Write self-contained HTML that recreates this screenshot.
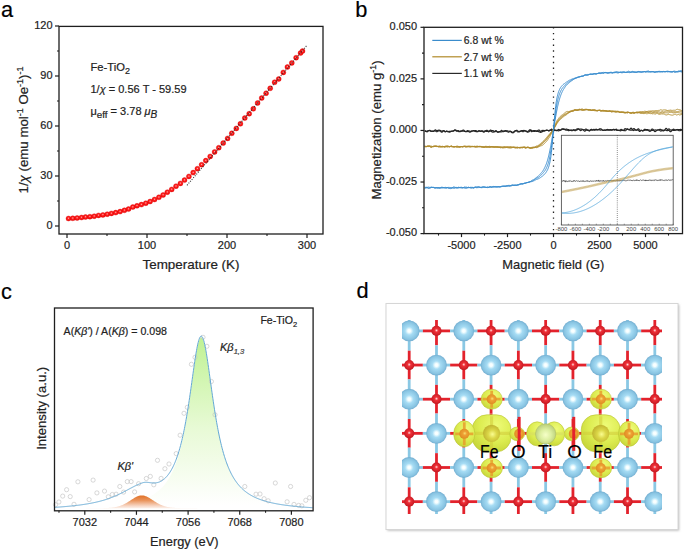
<!DOCTYPE html><html><head><meta charset="utf-8"><style>html,body{margin:0;padding:0;background:#fff;overflow:hidden}svg{display:block}</style></head><body><svg width="685" height="550" viewBox="0 0 685 550"><defs>
<radialGradient id="ball" cx="0.5" cy="0.45" r="0.6"><stop offset="0" stop-color="#ffb0b0"/><stop offset="0.35" stop-color="#ff2424"/><stop offset="1" stop-color="#ec0000"/></radialGradient>
<radialGradient id="ti" cx="0.5" cy="0.5" r="0.52"><stop offset="0" stop-color="#ffffff"/><stop offset="0.14" stop-color="#f4feff"/><stop offset="0.38" stop-color="#a6dcf4"/><stop offset="0.8" stop-color="#88c4e2"/><stop offset="1" stop-color="#6ea8cc"/></radialGradient>
<radialGradient id="tig" cx="0.5" cy="0.55" r="0.55"><stop offset="0" stop-color="#f6ffc8"/><stop offset="0.5" stop-color="#dcefa0"/><stop offset="1" stop-color="#b8cc78"/></radialGradient>
<radialGradient id="ox" cx="0.5" cy="0.45" r="0.55"><stop offset="0" stop-color="#ffe0e0"/><stop offset="0.3" stop-color="#f03038"/><stop offset="1" stop-color="#c01820"/></radialGradient>
<radialGradient id="fe" cx="0.55" cy="0.55" r="0.55"><stop offset="0" stop-color="#fafc90"/><stop offset="0.45" stop-color="#dcd848"/><stop offset="1" stop-color="#c0b430"/></radialGradient>
<radialGradient id="yl" cx="0.62" cy="0.3" r="0.8"><stop offset="0" stop-color="#eefb78"/><stop offset="0.55" stop-color="#dcec50"/><stop offset="1" stop-color="#c4d236"/></radialGradient>
<radialGradient id="oo" cx="0.55" cy="0.45" r="0.55"><stop offset="0" stop-color="#f8e070"/><stop offset="0.35" stop-color="#eea034"/><stop offset="1" stop-color="#de8c22"/></radialGradient>
<linearGradient id="gfill" x1="0" y1="336" x2="0" y2="505" gradientUnits="userSpaceOnUse"><stop offset="0" stop-color="#bff292"/><stop offset="0.55" stop-color="#e8fad6"/><stop offset="1" stop-color="#ffffff"/></linearGradient>
<linearGradient id="ofill" x1="0" y1="495" x2="0" y2="508.6" gradientUnits="userSpaceOnUse"><stop offset="0" stop-color="#e06e22"/><stop offset="0.4" stop-color="#ea945c"/><stop offset="0.8" stop-color="#f7d6c4"/><stop offset="1" stop-color="#fdf5f0"/></linearGradient>
<clipPath id="dclip"><rect x="402" y="320" width="260" height="194"/></clipPath>
<filter id="sh" x="-5%" y="-5%" width="110%" height="110%"><feGaussianBlur stdDeviation="1"/></filter>
</defs><text x="1.0" y="17.4" font-size="21.8" font-family="Liberation Sans, sans-serif" stroke="#222" stroke-width="0.2" paint-order="stroke" fill="#000">a</text>
<text x="355.2" y="17.1" font-size="21.8" font-family="Liberation Sans, sans-serif" stroke="#222" stroke-width="0.2" paint-order="stroke" fill="#000">b</text>
<text x="0.9" y="299.3" font-size="21.8" font-family="Liberation Sans, sans-serif" stroke="#222" stroke-width="0.2" paint-order="stroke" fill="#000">c</text>
<text x="356.6" y="298.4" font-size="21.8" font-family="Liberation Sans, sans-serif" stroke="#222" stroke-width="0.2" paint-order="stroke" fill="#000">d</text>
<circle cx="68.5" cy="218.5" r="2.5" fill="url(#ball)" stroke="#e00000" stroke-width="0.35"/>
<circle cx="72.8" cy="218.3" r="2.5" fill="url(#ball)" stroke="#e00000" stroke-width="0.35"/>
<circle cx="77.1" cy="218" r="2.5" fill="url(#ball)" stroke="#e00000" stroke-width="0.35"/>
<circle cx="81.5" cy="217.5" r="2.5" fill="url(#ball)" stroke="#e00000" stroke-width="0.35"/>
<circle cx="85.5" cy="217" r="2.5" fill="url(#ball)" stroke="#e00000" stroke-width="0.35"/>
<circle cx="89.9" cy="216.7" r="2.5" fill="url(#ball)" stroke="#e00000" stroke-width="0.35"/>
<circle cx="94.2" cy="216.2" r="2.5" fill="url(#ball)" stroke="#e00000" stroke-width="0.35"/>
<circle cx="98.5" cy="215.4" r="2.5" fill="url(#ball)" stroke="#e00000" stroke-width="0.35"/>
<circle cx="102.9" cy="214.9" r="2.5" fill="url(#ball)" stroke="#e00000" stroke-width="0.35"/>
<circle cx="107.2" cy="214.2" r="2.5" fill="url(#ball)" stroke="#e00000" stroke-width="0.35"/>
<circle cx="111.4" cy="213.4" r="2.5" fill="url(#ball)" stroke="#e00000" stroke-width="0.35"/>
<circle cx="115.7" cy="212.6" r="2.5" fill="url(#ball)" stroke="#e00000" stroke-width="0.35"/>
<circle cx="120.1" cy="211.6" r="2.5" fill="url(#ball)" stroke="#e00000" stroke-width="0.35"/>
<circle cx="124.4" cy="210.3" r="2.5" fill="url(#ball)" stroke="#e00000" stroke-width="0.35"/>
<circle cx="128.5" cy="209.1" r="2.5" fill="url(#ball)" stroke="#e00000" stroke-width="0.35"/>
<circle cx="132.8" cy="207.1" r="2.5" fill="url(#ball)" stroke="#e00000" stroke-width="0.35"/>
<circle cx="137" cy="205.8" r="2.5" fill="url(#ball)" stroke="#e00000" stroke-width="0.35"/>
<circle cx="141.4" cy="204.6" r="2.5" fill="url(#ball)" stroke="#e00000" stroke-width="0.35"/>
<circle cx="145.8" cy="203.2" r="2.5" fill="url(#ball)" stroke="#e00000" stroke-width="0.35"/>
<circle cx="150.1" cy="201.5" r="2.5" fill="url(#ball)" stroke="#e00000" stroke-width="0.35"/>
<circle cx="154.5" cy="199.5" r="2.5" fill="url(#ball)" stroke="#e00000" stroke-width="0.35"/>
<circle cx="158.9" cy="197.3" r="2.5" fill="url(#ball)" stroke="#e00000" stroke-width="0.35"/>
<circle cx="163.1" cy="195" r="2.5" fill="url(#ball)" stroke="#e00000" stroke-width="0.35"/>
<circle cx="167.3" cy="192.2" r="2.5" fill="url(#ball)" stroke="#e00000" stroke-width="0.35"/>
<circle cx="171.7" cy="189.4" r="2.5" fill="url(#ball)" stroke="#e00000" stroke-width="0.35"/>
<circle cx="176" cy="186.2" r="2.5" fill="url(#ball)" stroke="#e00000" stroke-width="0.35"/>
<circle cx="180.4" cy="183.4" r="2.5" fill="url(#ball)" stroke="#e00000" stroke-width="0.35"/>
<circle cx="184.5" cy="180.1" r="2.5" fill="url(#ball)" stroke="#e00000" stroke-width="0.35"/>
<circle cx="188.9" cy="176.4" r="2.5" fill="url(#ball)" stroke="#e00000" stroke-width="0.35"/>
<circle cx="193.2" cy="172.6" r="2.5" fill="url(#ball)" stroke="#e00000" stroke-width="0.35"/>
<circle cx="197.4" cy="168.7" r="2.5" fill="url(#ball)" stroke="#e00000" stroke-width="0.35"/>
<circle cx="201.6" cy="164.7" r="2.5" fill="url(#ball)" stroke="#e00000" stroke-width="0.35"/>
<circle cx="205.8" cy="160.6" r="2.5" fill="url(#ball)" stroke="#e00000" stroke-width="0.35"/>
<circle cx="210.2" cy="156.4" r="2.5" fill="url(#ball)" stroke="#e00000" stroke-width="0.35"/>
<circle cx="214.6" cy="151.9" r="2.5" fill="url(#ball)" stroke="#e00000" stroke-width="0.35"/>
<circle cx="218.8" cy="147.7" r="2.5" fill="url(#ball)" stroke="#e00000" stroke-width="0.35"/>
<circle cx="223.2" cy="143.1" r="2.5" fill="url(#ball)" stroke="#e00000" stroke-width="0.35"/>
<circle cx="227.6" cy="138.4" r="2.5" fill="url(#ball)" stroke="#e00000" stroke-width="0.35"/>
<circle cx="231.8" cy="133.3" r="2.5" fill="url(#ball)" stroke="#e00000" stroke-width="0.35"/>
<circle cx="236.3" cy="128.4" r="2.5" fill="url(#ball)" stroke="#e00000" stroke-width="0.35"/>
<circle cx="240.4" cy="123.8" r="2.5" fill="url(#ball)" stroke="#e00000" stroke-width="0.35"/>
<circle cx="244.8" cy="118.1" r="2.5" fill="url(#ball)" stroke="#e00000" stroke-width="0.35"/>
<circle cx="249.2" cy="113.7" r="2.5" fill="url(#ball)" stroke="#e00000" stroke-width="0.35"/>
<circle cx="253.3" cy="108.8" r="2.5" fill="url(#ball)" stroke="#e00000" stroke-width="0.35"/>
<circle cx="257.6" cy="103" r="2.5" fill="url(#ball)" stroke="#e00000" stroke-width="0.35"/>
<circle cx="261.7" cy="98.1" r="2.5" fill="url(#ball)" stroke="#e00000" stroke-width="0.35"/>
<circle cx="266.1" cy="93.2" r="2.5" fill="url(#ball)" stroke="#e00000" stroke-width="0.35"/>
<circle cx="270.2" cy="88.3" r="2.5" fill="url(#ball)" stroke="#e00000" stroke-width="0.35"/>
<circle cx="274.6" cy="82.2" r="2.5" fill="url(#ball)" stroke="#e00000" stroke-width="0.35"/>
<circle cx="278.7" cy="79" r="2.5" fill="url(#ball)" stroke="#e00000" stroke-width="0.35"/>
<circle cx="283.3" cy="72.4" r="2.5" fill="url(#ball)" stroke="#e00000" stroke-width="0.35"/>
<circle cx="287.4" cy="67" r="2.5" fill="url(#ball)" stroke="#e00000" stroke-width="0.35"/>
<circle cx="291.8" cy="62.9" r="2.5" fill="url(#ball)" stroke="#e00000" stroke-width="0.35"/>
<circle cx="296.1" cy="57.7" r="2.5" fill="url(#ball)" stroke="#e00000" stroke-width="0.35"/>
<circle cx="300.5" cy="53.1" r="2.5" fill="url(#ball)" stroke="#e00000" stroke-width="0.35"/>
<circle cx="302.5" cy="51.1" r="2.5" fill="url(#ball)" stroke="#e00000" stroke-width="0.35"/>
<line x1="187.0" y1="185.3" x2="307.0" y2="45.3" stroke="#222" stroke-width="1.1" stroke-dasharray="1.1 1.3" opacity="0.85"/>
<rect x="59" y="26.4" width="264" height="207.6" fill="none" stroke="#1e1e1e" stroke-width="1.3"/>
<line x1="55" y1="226.0" x2="59" y2="226.0" stroke="#1e1e1e" stroke-width="1.2"/>
<text x="52.60" y="229.00" font-size="11.8" text-anchor="end" font-family="Liberation Sans, sans-serif" stroke="#222" stroke-width="0.2" paint-order="stroke" fill="#222" textLength="6.12" lengthAdjust="spacingAndGlyphs">0</text>
<line x1="55" y1="176.0" x2="59" y2="176.0" stroke="#1e1e1e" stroke-width="1.2"/>
<text x="52.60" y="179.00" font-size="11.8" text-anchor="end" font-family="Liberation Sans, sans-serif" stroke="#222" stroke-width="0.2" paint-order="stroke" fill="#222" textLength="12.23" lengthAdjust="spacingAndGlyphs">30</text>
<line x1="55" y1="126.0" x2="59" y2="126.0" stroke="#1e1e1e" stroke-width="1.2"/>
<text x="52.60" y="129.00" font-size="11.8" text-anchor="end" font-family="Liberation Sans, sans-serif" stroke="#222" stroke-width="0.2" paint-order="stroke" fill="#222" textLength="12.23" lengthAdjust="spacingAndGlyphs">60</text>
<line x1="55" y1="76.0" x2="59" y2="76.0" stroke="#1e1e1e" stroke-width="1.2"/>
<text x="52.60" y="79.00" font-size="11.8" text-anchor="end" font-family="Liberation Sans, sans-serif" stroke="#222" stroke-width="0.2" paint-order="stroke" fill="#222" textLength="12.23" lengthAdjust="spacingAndGlyphs">90</text>
<line x1="55" y1="26.0" x2="59" y2="26.0" stroke="#1e1e1e" stroke-width="1.2"/>
<text x="52.60" y="29.00" font-size="11.8" text-anchor="end" font-family="Liberation Sans, sans-serif" stroke="#222" stroke-width="0.2" paint-order="stroke" fill="#222" textLength="18.35" lengthAdjust="spacingAndGlyphs">120</text>
<line x1="57" y1="201.0" x2="59" y2="201.0" stroke="#1e1e1e" stroke-width="1.1"/>
<line x1="57" y1="151.0" x2="59" y2="151.0" stroke="#1e1e1e" stroke-width="1.1"/>
<line x1="57" y1="101.0" x2="59" y2="101.0" stroke="#1e1e1e" stroke-width="1.1"/>
<line x1="57" y1="51.0" x2="59" y2="51.0" stroke="#1e1e1e" stroke-width="1.1"/>
<line x1="67.0" y1="234" x2="67.0" y2="238" stroke="#1e1e1e" stroke-width="1.2"/>
<text x="67.00" y="249.40" font-size="11.8" text-anchor="middle" font-family="Liberation Sans, sans-serif" stroke="#222" stroke-width="0.2" paint-order="stroke" fill="#222" textLength="6.12" lengthAdjust="spacingAndGlyphs">0</text>
<line x1="147.0" y1="234" x2="147.0" y2="238" stroke="#1e1e1e" stroke-width="1.2"/>
<text x="147.00" y="249.40" font-size="11.8" text-anchor="middle" font-family="Liberation Sans, sans-serif" stroke="#222" stroke-width="0.2" paint-order="stroke" fill="#222" textLength="18.35" lengthAdjust="spacingAndGlyphs">100</text>
<line x1="227.0" y1="234" x2="227.0" y2="238" stroke="#1e1e1e" stroke-width="1.2"/>
<text x="227.00" y="249.40" font-size="11.8" text-anchor="middle" font-family="Liberation Sans, sans-serif" stroke="#222" stroke-width="0.2" paint-order="stroke" fill="#222" textLength="18.35" lengthAdjust="spacingAndGlyphs">200</text>
<line x1="307.0" y1="234" x2="307.0" y2="238" stroke="#1e1e1e" stroke-width="1.2"/>
<text x="307.00" y="249.40" font-size="11.8" text-anchor="middle" font-family="Liberation Sans, sans-serif" stroke="#222" stroke-width="0.2" paint-order="stroke" fill="#222" textLength="18.35" lengthAdjust="spacingAndGlyphs">300</text>
<line x1="107.0" y1="234" x2="107.0" y2="236" stroke="#1e1e1e" stroke-width="1.1"/>
<line x1="187.0" y1="234" x2="187.0" y2="236" stroke="#1e1e1e" stroke-width="1.1"/>
<line x1="267.0" y1="234" x2="267.0" y2="236" stroke="#1e1e1e" stroke-width="1.1"/>
<text x="191" y="269.4" font-size="13" text-anchor="middle" font-family="Liberation Sans, sans-serif" stroke="#222" stroke-width="0.2" paint-order="stroke" fill="#222" textLength="97" lengthAdjust="spacingAndGlyphs">Temperature (K)</text>
<text transform="translate(28.4,130) rotate(-90)" font-size="13" text-anchor="middle" font-family="Liberation Sans, sans-serif" stroke="#222" stroke-width="0.2" paint-order="stroke" fill="#222" textLength="127" lengthAdjust="spacingAndGlyphs">1/<tspan font-style="italic">χ</tspan> (emu mol<tspan font-size="8.8" dy="-5.4">-1</tspan><tspan dy="5.4"> Oe</tspan><tspan font-size="8.8" dy="-5.4">-1</tspan><tspan dy="5.4">)</tspan><tspan font-size="8.8" dy="-5.4">-1</tspan></text>
<text x="90.5" y="70.8" font-size="11.2" font-family="Liberation Sans, sans-serif" stroke="#222" stroke-width="0.2" paint-order="stroke" fill="#222">Fe-TiO<tspan font-size="9" dy="3.2">2</tspan></text>
<text x="90.5" y="93.2" font-size="11" font-family="Liberation Sans, sans-serif" stroke="#222" stroke-width="0.2" paint-order="stroke" fill="#222">1/<tspan font-style="italic">χ</tspan> = 0.56 T - 59.59</text>
<text x="90.5" y="114.6" font-size="11" font-family="Liberation Sans, sans-serif" stroke="#222" stroke-width="0.2" paint-order="stroke" fill="#222">μ<tspan font-size="9.8" dy="3">eff</tspan><tspan dy="-3"> = 3.78 </tspan><tspan font-style="italic">μ</tspan><tspan font-size="10" dy="3" font-style="italic">B</tspan></text>
<line x1="553.5" y1="27.3" x2="553.5" y2="233.6" stroke="#222" stroke-width="1.3" stroke-dasharray="1.3 4.46"/>
<polyline points="424.70,130.68 425.07,130.73 425.44,130.79 425.81,130.93 426.17,131.21 426.54,131.55 426.91,131.80 427.28,131.81 427.65,131.55 428.02,131.16 428.39,130.83 428.75,130.64 429.12,130.58 429.49,130.65 429.86,130.81 430.23,131.02 430.60,131.16 430.96,131.16 431.33,131.07 431.70,131.00 432.07,130.99 432.44,131.05 432.81,131.18 433.18,131.34 433.54,131.41 433.91,131.27 434.28,130.89 434.65,130.40 435.02,130.01 435.39,129.87 435.76,130.01 436.12,130.30 436.49,130.58 436.86,130.70 437.23,130.67 437.60,130.55 437.97,130.39 438.34,130.25 438.70,130.17 439.07,130.16 439.44,130.20 439.81,130.32 440.18,130.59 440.55,131.03 440.92,131.57 441.28,132.03 441.65,132.26 442.02,132.20 442.39,131.87 442.76,131.39 443.13,130.90 443.49,130.57 443.86,130.53 444.23,130.79 444.60,131.22 444.97,131.61 445.34,131.79 445.71,131.75 446.07,131.58 446.44,131.39 446.81,131.31 447.18,131.37 447.55,131.52 447.92,131.67 448.29,131.78 448.65,131.89 449.02,132.01 449.39,132.11 449.76,132.10 450.13,131.95 450.50,131.71 450.87,131.45 451.23,131.23 451.60,131.12 451.97,131.09 452.34,131.12 452.71,131.18 453.08,131.23 453.45,131.20 453.81,131.00 454.18,130.61 454.55,130.14 454.92,129.82 455.29,129.75 455.66,129.93 456.02,130.20 456.39,130.48 456.76,130.71 457.13,130.90 457.50,131.05 457.87,131.20 458.24,131.38 458.60,131.56 458.97,131.66 459.34,131.64 459.71,131.55 460.08,131.51 460.45,131.53 460.82,131.51 461.18,131.40 461.55,131.25 461.92,131.16 462.29,131.12 462.66,131.10 463.03,131.07 463.40,131.07 463.76,131.11 464.13,131.22 464.50,131.36 464.87,131.49 465.24,131.55 465.61,131.54 465.97,131.45 466.34,131.30 466.71,131.09 467.08,130.85 467.45,130.68 467.82,130.64 468.19,130.75 468.55,130.90 468.92,130.98 469.29,131.00 469.66,131.04 470.03,131.20 470.40,131.44 470.77,131.64 471.13,131.68 471.50,131.54 471.87,131.33 472.24,131.14 472.61,130.96 472.98,130.76 473.35,130.57 473.71,130.49 474.08,130.59 474.45,130.86 474.82,131.17 475.19,131.40 475.56,131.52 475.93,131.57 476.29,131.59 476.66,131.58 477.03,131.52 477.40,131.41 477.77,131.26 478.14,131.12 478.50,131.03 478.87,131.01 479.24,131.02 479.61,131.03 479.98,131.05 480.35,131.08 480.72,131.12 481.08,131.12 481.45,131.08 481.82,131.06 482.19,131.13 482.56,131.26 482.93,131.35 483.30,131.34 483.66,131.26 484.03,131.20 484.40,131.18 484.77,131.15 485.14,131.06 485.51,130.88 485.88,130.66 486.24,130.44 486.61,130.29 486.98,130.31 487.35,130.56 487.72,131.02 488.09,131.52 488.46,131.85 488.82,131.87 489.19,131.56 489.56,131.05 489.93,130.54 490.30,130.20 490.67,130.15 491.03,130.32 491.40,130.54 491.77,130.65 492.14,130.61 492.51,130.53 492.88,130.55 493.25,130.74 493.61,131.04 493.98,131.37 494.35,131.65 494.72,131.80 495.09,131.74 495.46,131.53 495.83,131.30 496.19,131.19 496.56,131.27 496.93,131.50 497.30,131.77 497.67,132.00 498.04,132.08 498.41,131.97 498.77,131.76 499.14,131.55 499.51,131.47 499.88,131.55 500.25,131.72 500.62,131.86 500.98,131.90 501.35,131.85 501.72,131.77 502.09,131.65 502.46,131.49 502.83,131.29 503.20,131.12 503.56,131.03 503.93,131.09 504.30,131.24 504.67,131.35 505.04,131.32 505.41,131.15 505.78,130.99 506.14,130.99 506.51,131.16 506.88,131.40 507.25,131.63 507.62,131.82 507.99,131.99 508.36,132.13 508.72,132.13 509.09,131.94 509.46,131.60 509.83,131.27 510.20,131.14 510.57,131.28 510.94,131.66 511.30,132.10 511.67,132.45 512.04,132.66 512.41,132.78 512.78,132.84 513.15,132.82 513.51,132.67 513.88,132.35 514.25,131.88 514.62,131.35 514.99,130.88 515.36,130.59 515.73,130.50 516.09,130.55 516.46,130.75 516.83,131.07 517.20,131.46 517.57,131.81 517.94,132.00 518.31,132.01 518.67,131.95 519.04,131.88 519.41,131.82 519.78,131.73 520.15,131.57 520.52,131.38 520.89,131.21 521.25,131.12 521.62,131.15 521.99,131.29 522.36,131.50 522.73,131.68 523.10,131.74 523.47,131.63 523.83,131.38 524.20,131.08 524.57,130.83 524.94,130.74 525.31,130.81 525.68,130.99 526.04,131.24 526.41,131.52 526.78,131.83 527.15,132.07 527.52,132.15 527.89,132.08 528.26,131.97 528.62,131.88 528.99,131.74 529.36,131.43 529.73,130.95 530.10,130.44 530.47,130.07 530.84,129.96 531.20,130.11 531.57,130.43 531.94,130.78 532.31,131.00 532.68,131.00 533.05,130.85 533.42,130.71 533.78,130.64 534.15,130.62 534.52,130.59 534.89,130.61 535.26,130.75 535.63,131.00 535.99,131.25 536.36,131.39 536.73,131.35 537.10,131.14 537.47,130.83 537.84,130.49 538.21,130.21 538.57,130.02 538.94,129.98 539.31,130.12 539.68,130.45 540.05,130.88 540.42,131.27 540.79,131.44 541.15,131.31 541.52,130.93 541.89,130.55 542.26,130.38 542.63,130.53 543.00,130.86 543.37,131.15 543.73,131.27 544.10,131.25 544.47,131.16 544.84,131.04 545.21,130.84 545.58,130.57 545.95,130.31 546.31,130.19 546.68,130.19 547.05,130.22 547.42,130.24 547.79,130.33 548.16,130.54 548.52,130.82 548.89,130.96 549.26,130.80 549.63,130.41 550.00,130.00 550.37,129.78 550.74,129.80 551.10,129.99 551.47,130.25 551.84,130.50 552.21,130.66 552.58,130.63 552.95,130.40 553.32,130.04 553.68,129.76 554.05,129.70 554.42,129.88 554.79,130.18 555.16,130.42 555.53,130.50 555.90,130.45 556.26,130.38 556.63,130.35 557.00,130.39 557.37,130.49 557.74,130.61 558.11,130.73 558.48,130.80 558.84,130.79 559.21,130.69 559.58,130.52 559.95,130.34 560.32,130.21 560.69,130.14 561.05,130.03 561.42,129.81 561.79,129.50 562.16,129.22 562.53,129.03 562.90,128.95 563.27,128.91 563.63,128.91 564.00,128.95 564.37,129.07 564.74,129.23 565.11,129.36 565.48,129.40 565.85,129.32 566.21,129.17 566.58,129.06 566.95,129.14 567.32,129.49 567.69,130.04 568.06,130.54 568.43,130.77 568.79,130.69 569.16,130.45 569.53,130.27 569.90,130.24 570.27,130.31 570.64,130.40 571.01,130.48 571.37,130.57 571.74,130.64 572.11,130.57 572.48,130.32 572.85,129.99 573.22,129.77 573.58,129.78 573.95,130.02 574.32,130.35 574.69,130.62 575.06,130.71 575.43,130.62 575.80,130.42 576.16,130.25 576.53,130.14 576.90,130.04 577.27,129.86 577.64,129.58 578.01,129.26 578.38,129.04 578.74,129.03 579.11,129.25 579.48,129.65 579.85,130.12 580.22,130.46 580.59,130.60 580.96,130.52 581.32,130.31 581.69,130.05 582.06,129.82 582.43,129.66 582.80,129.63 583.17,129.78 583.53,130.12 583.90,130.57 584.27,130.96 584.64,131.13 585.01,131.08 585.38,130.86 585.75,130.56 586.11,130.30 586.48,130.17 586.85,130.18 587.22,130.27 587.59,130.39 587.96,130.46 588.33,130.47 588.69,130.45 589.06,130.40 589.43,130.34 589.80,130.22 590.17,130.03 590.54,129.76 590.91,129.50 591.27,129.35 591.64,129.39 592.01,129.55 592.38,129.69 592.75,129.73 593.12,129.72 593.49,129.79 593.85,129.96 594.22,130.11 594.59,130.12 594.96,129.92 595.33,129.62 595.70,129.34 596.06,129.21 596.43,129.26 596.80,129.47 597.17,129.73 597.54,129.90 597.91,129.88 598.28,129.73 598.64,129.61 599.01,129.64 599.38,129.82 599.75,130.04 600.12,130.14 600.49,130.09 600.86,129.97 601.22,129.91 601.59,129.94 601.96,130.00 602.33,130.06 602.70,130.13 603.07,130.20 603.44,130.25 603.80,130.25 604.17,130.22 604.54,130.19 604.91,130.17 605.28,130.12 605.65,130.04 606.02,129.96 606.38,129.94 606.75,129.96 607.12,130.01 607.49,130.06 607.86,130.12 608.23,130.17 608.59,130.16 608.96,130.08 609.33,129.93 609.70,129.73 610.07,129.55 610.44,129.47 610.81,129.52 611.17,129.72 611.54,129.98 611.91,130.13 612.28,130.06 612.65,129.78 613.02,129.44 613.39,129.23 613.75,129.24 614.12,129.38 614.49,129.51 614.86,129.53 615.23,129.49 615.60,129.52 615.97,129.72 616.33,130.05 616.70,130.33 617.07,130.46 617.44,130.47 617.81,130.45 618.18,130.40 618.54,130.31 618.91,130.22 619.28,130.23 619.65,130.43 620.02,130.70 620.39,130.86 620.76,130.78 621.12,130.50 621.49,130.21 621.86,130.09 622.23,130.15 622.60,130.30 622.97,130.42 623.34,130.40 623.70,130.16 624.07,129.72 624.44,129.23 624.81,128.84 625.18,128.66 625.55,128.73 625.92,128.96 626.28,129.21 626.65,129.33 627.02,129.29 627.39,129.20 627.76,129.19 628.13,129.30 628.50,129.49 628.86,129.69 629.23,129.87 629.60,130.02 629.97,130.11 630.34,130.14 630.71,130.14 631.07,130.15 631.44,130.15 631.81,130.12 632.18,130.08 632.55,130.14 632.92,130.33 633.29,130.52 633.65,130.55 634.02,130.37 634.39,130.09 634.76,129.87 635.13,129.77 635.50,129.80 635.87,129.88 636.23,130.00 636.60,130.08 636.97,130.07 637.34,129.97 637.71,129.88 638.08,129.94 638.45,130.24 638.81,130.74 639.18,131.23 639.55,131.47 639.92,131.37 640.29,131.02 640.66,130.62 641.03,130.36 641.39,130.32 641.76,130.47 642.13,130.70 642.50,130.84 642.87,130.85 643.24,130.78 643.60,130.67 643.97,130.52 644.34,130.34 644.71,130.17 645.08,130.12 645.45,130.18 645.82,130.27 646.18,130.28 646.55,130.22 646.92,130.16 647.29,130.14 647.66,130.19 648.03,130.30 648.40,130.48 648.76,130.73 649.13,130.99 649.50,131.19 649.87,131.30 650.24,131.28 650.61,131.09 650.98,130.78 651.34,130.48 651.71,130.31 652.08,130.29 652.45,130.32 652.82,130.31 653.19,130.23 653.55,130.15 653.92,130.10 654.29,130.09 654.66,130.05 655.03,129.98 655.40,129.94 655.77,130.00 656.13,130.14 656.50,130.24 656.87,130.21 657.24,130.08 657.61,129.98 657.98,129.98 658.35,130.01 658.71,129.93 659.08,129.71 659.45,129.46 659.82,129.28 660.19,129.23 660.56,129.31 660.93,129.48 661.29,129.70 661.66,129.97 662.03,130.27 662.40,130.59 662.77,130.84 663.14,130.97 663.51,130.94 663.87,130.76 664.24,130.50 664.61,130.25 664.98,130.09 665.35,130.02 665.72,130.07 666.08,130.22 666.45,130.42 666.82,130.60 667.19,130.68 667.56,130.62 667.93,130.47 668.30,130.31 668.66,130.26 669.03,130.41 669.40,130.76 669.77,131.21 670.14,131.58 670.51,131.72 670.88,131.59 671.24,131.28 671.61,130.89 671.98,130.51 672.35,130.13 672.72,129.74 673.09,129.38 673.46,129.18 673.82,129.22 674.19,129.48 674.56,129.81 674.93,130.04 675.30,130.08 675.67,129.97 676.04,129.81 676.40,129.72 676.77,129.70 677.14,129.65 677.51,129.55 677.88,129.47 678.25,129.50 678.61,129.60 678.98,129.67 679.35,129.67 679.72,129.62 680.09,129.54 680.46,129.46 680.83,129.43 681.19,129.55 681.56,129.83 681.93,130.16 682.30,130.40" fill="none" stroke="#262626" stroke-width="1.2" stroke-linejoin="round" opacity="1"/>
<polyline points="424.70,131.28 425.07,131.27 425.44,131.35 425.81,131.48 426.17,131.55 426.54,131.51 426.91,131.32 427.28,131.07 427.65,130.86 428.02,130.74 428.39,130.69 428.75,130.63 429.12,130.51 429.49,130.40 429.86,130.38 430.23,130.55 430.60,130.86 430.96,131.19 431.33,131.40 431.70,131.46 432.07,131.45 432.44,131.45 432.81,131.43 433.18,131.31 433.54,131.08 433.91,130.83 434.28,130.70 434.65,130.70 435.02,130.77 435.39,130.90 435.76,131.11 436.12,131.39 436.49,131.64 436.86,131.73 437.23,131.60 437.60,131.34 437.97,131.08 438.34,130.94 438.70,130.91 439.07,130.92 439.44,130.85 439.81,130.69 440.18,130.55 440.55,130.58 440.92,130.80 441.28,131.10 441.65,131.29 442.02,131.27 442.39,131.10 442.76,130.89 443.13,130.74 443.49,130.74 443.86,130.93 444.23,131.24 444.60,131.53 444.97,131.69 445.34,131.68 445.71,131.53 446.07,131.31 446.44,131.13 446.81,131.10 447.18,131.26 447.55,131.54 447.92,131.75 448.29,131.75 448.65,131.58 449.02,131.38 449.39,131.28 449.76,131.30 450.13,131.37 450.50,131.43 450.87,131.44 451.23,131.41 451.60,131.34 451.97,131.24 452.34,131.13 452.71,131.00 453.08,130.85 453.45,130.68 453.81,130.52 454.18,130.43 454.55,130.41 454.92,130.43 455.29,130.49 455.66,130.63 456.02,130.86 456.39,131.10 456.76,131.20 457.13,131.09 457.50,130.83 457.87,130.63 458.24,130.62 458.60,130.80 458.97,131.04 459.34,131.21 459.71,131.24 460.08,131.14 460.45,130.97 460.82,130.82 461.18,130.73 461.55,130.75 461.92,130.76 462.29,130.64 462.66,130.36 463.03,130.07 463.40,130.00 463.76,130.21 464.13,130.56 464.50,130.86 464.87,131.07 465.24,131.24 465.61,131.42 465.97,131.59 466.34,131.68 466.71,131.67 467.08,131.57 467.45,131.45 467.82,131.36 468.19,131.35 468.55,131.46 468.92,131.70 469.29,131.99 469.66,132.18 470.03,132.15 470.40,131.87 470.77,131.47 471.13,131.13 471.50,130.95 471.87,130.93 472.24,130.99 472.61,131.01 472.98,130.92 473.35,130.79 473.71,130.74 474.08,130.79 474.45,130.85 474.82,130.80 475.19,130.63 475.56,130.49 475.93,130.55 476.29,130.83 476.66,131.25 477.03,131.61 477.40,131.78 477.77,131.68 478.14,131.36 478.50,130.96 478.87,130.68 479.24,130.66 479.61,130.85 479.98,131.11 480.35,131.30 480.72,131.35 481.08,131.21 481.45,130.94 481.82,130.73 482.19,130.79 482.56,131.14 482.93,131.62 483.30,132.03 483.66,132.22 484.03,132.16 484.40,131.88 484.77,131.48 485.14,131.12 485.51,130.93 485.88,130.97 486.24,131.18 486.61,131.41 486.98,131.51 487.35,131.44 487.72,131.28 488.09,131.16 488.46,131.11 488.82,131.10 489.19,131.12 489.56,131.16 489.93,131.19 490.30,131.19 490.67,131.20 491.03,131.28 491.40,131.47 491.77,131.69 492.14,131.90 492.51,132.06 492.88,132.18 493.25,132.18 493.61,132.03 493.98,131.78 494.35,131.53 494.72,131.32 495.09,131.10 495.46,130.86 495.83,130.69 496.19,130.75 496.56,131.10 496.93,131.60 497.30,132.03 497.67,132.22 498.04,132.20 498.41,132.08 498.77,131.98 499.14,131.93 499.51,131.88 499.88,131.75 500.25,131.50 500.62,131.15 500.98,130.76 501.35,130.46 501.72,130.41 502.09,130.68 502.46,131.17 502.83,131.61 503.20,131.77 503.56,131.59 503.93,131.27 504.30,130.99 504.67,130.83 505.04,130.70 505.41,130.60 505.78,130.60 506.14,130.73 506.51,130.89 506.88,130.96 507.25,130.93 507.62,130.91 507.99,130.98 508.36,131.12 508.72,131.23 509.09,131.27 509.46,131.30 509.83,131.38 510.20,131.48 510.57,131.56 510.94,131.60 511.30,131.68 511.67,131.86 512.04,132.11 512.41,132.32 512.78,132.39 513.15,132.31 513.51,132.12 513.88,131.85 514.25,131.57 514.62,131.33 514.99,131.14 515.36,130.96 515.73,130.72 516.09,130.44 516.46,130.27 516.83,130.31 517.20,130.56 517.57,130.87 517.94,131.14 518.31,131.34 518.67,131.47 519.04,131.50 519.41,131.44 519.78,131.31 520.15,131.19 520.52,131.07 520.89,130.93 521.25,130.78 521.62,130.65 521.99,130.58 522.36,130.57 522.73,130.58 523.10,130.57 523.47,130.52 523.83,130.45 524.20,130.46 524.57,130.58 524.94,130.78 525.31,130.95 525.68,131.04 526.04,131.09 526.41,131.15 526.78,131.25 527.15,131.38 527.52,131.50 527.89,131.50 528.26,131.32 528.62,130.96 528.99,130.49 529.36,130.04 529.73,129.80 530.10,129.93 530.47,130.40 530.84,131.02 531.20,131.49 531.57,131.67 531.94,131.56 532.31,131.32 532.68,131.12 533.05,131.08 533.42,131.19 533.78,131.38 534.15,131.49 534.52,131.45 534.89,131.28 535.26,131.08 535.63,130.94 535.99,130.89 536.36,130.94 536.73,131.04 537.10,131.19 537.47,131.35 537.84,131.48 538.21,131.56 538.57,131.60 538.94,131.67 539.31,131.82 539.68,132.02 540.05,132.22 540.42,132.32 540.79,132.29 541.15,132.17 541.52,132.07 541.89,131.95 542.26,131.69 542.63,131.26 543.00,130.79 543.37,130.49 543.73,130.42 544.10,130.46 544.47,130.48 544.84,130.48 545.21,130.48 545.58,130.50 545.95,130.48 546.31,130.44 546.68,130.39 547.05,130.36 547.42,130.36 547.79,130.40 548.16,130.48 548.52,130.57 548.89,130.63 549.26,130.62 549.63,130.55 550.00,130.40 550.37,130.18 550.74,129.85 551.10,129.48 551.47,129.21 551.84,129.20 552.21,129.43 552.58,129.75 552.95,130.00 553.32,130.18 553.68,130.31 554.05,130.39 554.42,130.31 554.79,130.14 555.16,130.04 555.53,130.16 555.90,130.45 556.26,130.70 556.63,130.75 557.00,130.61 557.37,130.38 557.74,130.10 558.11,129.79 558.48,129.53 558.84,129.46 559.21,129.62 559.58,129.89 559.95,130.10 560.32,130.12 560.69,129.96 561.05,129.65 561.42,129.30 561.79,129.03 562.16,128.96 562.53,129.09 562.90,129.31 563.27,129.46 563.63,129.50 564.00,129.47 564.37,129.47 564.74,129.56 565.11,129.74 565.48,129.94 565.85,130.09 566.21,130.16 566.58,130.16 566.95,130.08 567.32,129.91 567.69,129.70 568.06,129.55 568.43,129.55 568.79,129.71 569.16,129.97 569.53,130.24 569.90,130.38 570.27,130.30 570.64,130.09 571.01,129.94 571.37,129.97 571.74,130.18 572.11,130.43 572.48,130.55 572.85,130.47 573.22,130.23 573.58,129.98 573.95,129.86 574.32,129.89 574.69,129.99 575.06,130.04 575.43,129.95 575.80,129.71 576.16,129.38 576.53,129.11 576.90,128.97 577.27,128.92 577.64,128.90 578.01,128.89 578.38,128.92 578.74,129.03 579.11,129.17 579.48,129.27 579.85,129.28 580.22,129.21 580.59,129.14 580.96,129.12 581.32,129.16 581.69,129.19 582.06,129.23 582.43,129.32 582.80,129.51 583.17,129.74 583.53,129.87 583.90,129.86 584.27,129.77 584.64,129.65 585.01,129.51 585.38,129.32 585.75,129.15 586.11,129.12 586.48,129.28 586.85,129.52 587.22,129.71 587.59,129.82 587.96,129.96 588.33,130.26 588.69,130.68 589.06,131.02 589.43,131.04 589.80,130.72 590.17,130.29 590.54,130.02 590.91,129.99 591.27,130.09 591.64,130.21 592.01,130.27 592.38,130.27 592.75,130.16 593.12,129.90 593.49,129.58 593.85,129.39 594.22,129.44 594.59,129.64 594.96,129.82 595.33,129.90 595.70,129.93 596.06,129.95 596.43,129.92 596.80,129.84 597.17,129.77 597.54,129.77 597.91,129.78 598.28,129.71 598.64,129.48 599.01,129.18 599.38,128.94 599.75,128.84 600.12,128.82 600.49,128.85 600.86,128.92 601.22,129.08 601.59,129.33 601.96,129.66 602.33,130.01 602.70,130.30 603.07,130.43 603.44,130.35 603.80,130.17 604.17,130.02 604.54,130.01 604.91,130.13 605.28,130.27 605.65,130.31 606.02,130.21 606.38,129.97 606.75,129.70 607.12,129.51 607.49,129.46 607.86,129.54 608.23,129.67 608.59,129.79 608.96,129.90 609.33,130.02 609.70,130.13 610.07,130.19 610.44,130.22 610.81,130.20 611.17,130.16 611.54,130.06 611.91,129.89 612.28,129.70 612.65,129.58 613.02,129.57 613.39,129.69 613.75,129.87 614.12,130.03 614.49,130.11 614.86,130.05 615.23,129.85 615.60,129.56 615.97,129.29 616.33,129.21 616.70,129.40 617.07,129.81 617.44,130.22 617.81,130.42 618.18,130.39 618.54,130.30 618.91,130.31 619.28,130.42 619.65,130.45 620.02,130.25 620.39,129.89 620.76,129.56 621.12,129.44 621.49,129.57 621.86,129.83 622.23,130.10 622.60,130.31 622.97,130.44 623.34,130.50 623.70,130.53 624.07,130.58 624.44,130.63 624.81,130.71 625.18,130.76 625.55,130.69 625.92,130.38 626.28,129.86 626.65,129.31 627.02,128.97 627.39,128.93 627.76,129.12 628.13,129.36 628.50,129.54 628.86,129.61 629.23,129.57 629.60,129.41 629.97,129.13 630.34,128.73 630.71,128.33 631.07,128.14 631.44,128.30 631.81,128.77 632.18,129.27 632.55,129.51 632.92,129.36 633.29,128.96 633.65,128.61 634.02,128.54 634.39,128.77 634.76,129.20 635.13,129.64 635.50,129.98 635.87,130.17 636.23,130.25 636.60,130.20 636.97,130.00 637.34,129.65 637.71,129.21 638.08,128.84 638.45,128.75 638.81,129.00 639.18,129.51 639.55,130.06 639.92,130.44 640.29,130.56 640.66,130.50 641.03,130.39 641.39,130.34 641.76,130.39 642.13,130.54 642.50,130.71 642.87,130.79 643.24,130.65 643.60,130.26 643.97,129.77 644.34,129.40 644.71,129.27 645.08,129.32 645.45,129.45 645.82,129.56 646.18,129.61 646.55,129.60 646.92,129.58 647.29,129.60 647.66,129.69 648.03,129.82 648.40,129.93 648.76,130.00 649.13,130.04 649.50,130.09 649.87,130.17 650.24,130.24 650.61,130.21 650.98,130.03 651.34,129.68 651.71,129.29 652.08,129.02 652.45,129.00 652.82,129.21 653.19,129.57 653.55,130.05 653.92,130.60 654.29,131.12 654.66,131.49 655.03,131.63 655.40,131.54 655.77,131.26 656.13,130.86 656.50,130.47 656.87,130.20 657.24,130.06 657.61,129.99 657.98,129.94 658.35,129.91 658.71,129.92 659.08,129.97 659.45,130.11 659.82,130.38 660.19,130.72 660.56,130.99 660.93,131.05 661.29,130.92 661.66,130.66 662.03,130.37 662.40,130.13 662.77,130.03 663.14,130.11 663.51,130.28 663.87,130.42 664.24,130.38 664.61,130.10 664.98,129.60 665.35,129.03 665.72,128.58 666.08,128.42 666.45,128.56 666.82,128.89 667.19,129.20 667.56,129.36 667.93,129.31 668.30,129.15 668.66,128.99 669.03,128.95 669.40,129.09 669.77,129.38 670.14,129.72 670.51,130.00 670.88,130.14 671.24,130.10 671.61,129.96 671.98,129.85 672.35,129.86 672.72,130.01 673.09,130.20 673.46,130.34 673.82,130.39 674.19,130.39 674.56,130.36 674.93,130.28 675.30,130.14 675.67,129.97 676.04,129.86 676.40,129.83 676.77,129.85 677.14,129.92 677.51,130.02 677.88,130.14 678.25,130.28 678.61,130.44 678.98,130.61 679.35,130.73 679.72,130.75 680.09,130.64 680.46,130.45 680.83,130.24 681.19,130.02 681.56,129.83 681.93,129.75 682.30,129.81" fill="none" stroke="#262626" stroke-width="1.2" stroke-linejoin="round" opacity="1"/>
<polyline points="424.70,146.80 424.88,146.83 425.07,146.84 425.25,146.83 425.44,146.79 425.62,146.75 425.80,146.69 425.99,146.63 426.17,146.58 426.36,146.52 426.54,146.47 426.73,146.43 426.91,146.41 427.09,146.39 427.28,146.38 427.46,146.38 427.65,146.39 427.83,146.41 428.01,146.42 428.20,146.44 428.38,146.45 428.57,146.45 428.75,146.44 428.94,146.44 429.12,146.44 429.30,146.45 429.49,146.49 429.67,146.54 429.86,146.62 430.04,146.72 430.22,146.84 430.41,146.95 430.59,147.07 430.78,147.18 430.96,147.27 431.14,147.33 431.33,147.36 431.51,147.35 431.70,147.29 431.88,147.20 432.07,147.07 432.25,146.93 432.43,146.79 432.62,146.66 432.80,146.54 432.99,146.45 433.17,146.38 433.35,146.32 433.54,146.27 433.72,146.23 433.91,146.18 434.09,146.14 434.27,146.11 434.46,146.10 434.64,146.11 434.83,146.13 435.01,146.16 435.20,146.19 435.38,146.20 435.56,146.21 435.75,146.20 435.93,146.20 436.12,146.19 436.30,146.20 436.48,146.23 436.67,146.27 436.85,146.32 437.04,146.38 437.22,146.44 437.41,146.48 437.59,146.53 437.77,146.56 437.96,146.57 438.14,146.58 438.33,146.58 438.51,146.56 438.69,146.53 438.88,146.50 439.06,146.45 439.25,146.41 439.43,146.37 439.61,146.34 439.80,146.33 439.98,146.34 440.17,146.36 440.35,146.38 440.54,146.41 440.72,146.43 440.90,146.45 441.09,146.47 441.27,146.48 441.46,146.50 441.64,146.53 441.82,146.58 442.01,146.63 442.19,146.69 442.38,146.74 442.56,146.79 442.74,146.82 442.93,146.82 443.11,146.82 443.30,146.79 443.48,146.75 443.67,146.70 443.85,146.65 444.03,146.59 444.22,146.53 444.40,146.48 444.59,146.43 444.77,146.38 444.95,146.34 445.14,146.30 445.32,146.27 445.51,146.23 445.69,146.20 445.88,146.19 446.06,146.20 446.24,146.23 446.43,146.28 446.61,146.36 446.80,146.45 446.98,146.53 447.16,146.61 447.35,146.67 447.53,146.71 447.72,146.74 447.90,146.76 448.08,146.77 448.27,146.78 448.45,146.80 448.64,146.82 448.82,146.84 449.01,146.86 449.19,146.88 449.37,146.88 449.56,146.87 449.74,146.85 449.93,146.80 450.11,146.74 450.29,146.66 450.48,146.58 450.66,146.51 450.85,146.46 451.03,146.43 451.21,146.42 451.40,146.44 451.58,146.48 451.77,146.51 451.95,146.54 452.14,146.55 452.32,146.55 452.50,146.54 452.69,146.53 452.87,146.53 453.06,146.53 453.24,146.55 453.42,146.57 453.61,146.59 453.79,146.61 453.98,146.62 454.16,146.62 454.35,146.61 454.53,146.59 454.71,146.58 454.90,146.57 455.08,146.57 455.27,146.58 455.45,146.61 455.63,146.65 455.82,146.70 456.00,146.76 456.19,146.81 456.37,146.86 456.55,146.89 456.74,146.92 456.92,146.93 457.11,146.93 457.29,146.92 457.48,146.92 457.66,146.93 457.84,146.94 458.03,146.96 458.21,146.99 458.40,147.01 458.58,147.02 458.76,147.02 458.95,147.01 459.13,146.97 459.32,146.93 459.50,146.87 459.68,146.81 459.87,146.74 460.05,146.67 460.24,146.60 460.42,146.54 460.61,146.50 460.79,146.47 460.97,146.47 461.16,146.49 461.34,146.52 461.53,146.57 461.71,146.61 461.89,146.66 462.08,146.70 462.26,146.73 462.45,146.76 462.63,146.76 462.82,146.75 463.00,146.72 463.18,146.67 463.37,146.62 463.55,146.56 463.74,146.50 463.92,146.47 464.10,146.46 464.29,146.47 464.47,146.50 464.66,146.54 464.84,146.60 465.02,146.67 465.21,146.73 465.39,146.79 465.58,146.85 465.76,146.89 465.95,146.92 466.13,146.93 466.31,146.94 466.50,146.93 466.68,146.92 466.87,146.91 467.05,146.90 467.23,146.89 467.42,146.87 467.60,146.84 467.79,146.79 467.97,146.71 468.16,146.61 468.34,146.50 468.52,146.38 468.71,146.27 468.89,146.18 469.08,146.11 469.26,146.08 469.44,146.08 469.63,146.10 469.81,146.14 470.00,146.17 470.18,146.21 470.36,146.24 470.55,146.26 470.73,146.28 470.92,146.30 471.10,146.33 471.29,146.36 471.47,146.41 471.65,146.46 471.84,146.52 472.02,146.57 472.21,146.62 472.39,146.66 472.57,146.68 472.76,146.69 472.94,146.68 473.13,146.65 473.31,146.62 473.49,146.58 473.68,146.53 473.86,146.49 474.05,146.45 474.23,146.43 474.42,146.42 474.60,146.42 474.78,146.43 474.97,146.45 475.15,146.46 475.34,146.48 475.52,146.48 475.70,146.47 475.89,146.44 476.07,146.41 476.26,146.36 476.44,146.32 476.63,146.28 476.81,146.26 476.99,146.25 477.18,146.26 477.36,146.29 477.55,146.34 477.73,146.39 477.91,146.45 478.10,146.50 478.28,146.54 478.47,146.57 478.65,146.58 478.83,146.56 479.02,146.52 479.20,146.47 479.39,146.42 479.57,146.37 479.76,146.34 479.94,146.35 480.12,146.39 480.31,146.46 480.49,146.56 480.68,146.69 480.86,146.81 481.04,146.93 481.23,147.03 481.41,147.10 481.60,147.13 481.78,147.12 481.96,147.07 482.15,147.00 482.33,146.92 482.52,146.83 482.70,146.76 482.89,146.71 483.07,146.69 483.25,146.69 483.44,146.70 483.62,146.72 483.81,146.72 483.99,146.70 484.17,146.66 484.36,146.60 484.54,146.54 484.73,146.47 484.91,146.41 485.10,146.37 485.28,146.37 485.46,146.39 485.65,146.45 485.83,146.53 486.02,146.63 486.20,146.74 486.38,146.83 486.57,146.92 486.75,146.99 486.94,147.03 487.12,147.06 487.30,147.07 487.49,147.06 487.67,147.03 487.86,146.98 488.04,146.92 488.23,146.84 488.41,146.75 488.59,146.65 488.78,146.55 488.96,146.47 489.15,146.41 489.33,146.37 489.51,146.36 489.70,146.37 489.88,146.41 490.07,146.46 490.25,146.50 490.43,146.54 490.62,146.57 490.80,146.59 490.99,146.60 491.17,146.62 491.36,146.63 491.54,146.65 491.72,146.68 491.91,146.72 492.09,146.75 492.28,146.78 492.46,146.80 492.64,146.82 492.83,146.84 493.01,146.86 493.20,146.89 493.38,146.93 493.57,146.97 493.75,147.02 493.93,147.06 494.12,147.09 494.30,147.10 494.49,147.10 494.67,147.08 494.85,147.05 495.04,147.00 495.22,146.94 495.41,146.88 495.59,146.82 495.77,146.77 495.96,146.74 496.14,146.73 496.33,146.74 496.51,146.76 496.70,146.80 496.88,146.84 497.06,146.89 497.25,146.94 497.43,146.98 497.62,147.01 497.80,147.03 497.98,147.04 498.17,147.05 498.35,147.05 498.54,147.05 498.72,147.07 498.91,147.09 499.09,147.12 499.27,147.16 499.46,147.21 499.64,147.27 499.83,147.33 500.01,147.39 500.19,147.45 500.38,147.50 500.56,147.54 500.75,147.57 500.93,147.59 501.11,147.61 501.30,147.61 501.48,147.62 501.67,147.64 501.85,147.65 502.04,147.67 502.22,147.70 502.40,147.72 502.59,147.74 502.77,147.75 502.96,147.76 503.14,147.75 503.32,147.75 503.51,147.75 503.69,147.74 503.88,147.74 504.06,147.74 504.24,147.74 504.43,147.74 504.61,147.74 504.80,147.73 504.98,147.71 505.17,147.69 505.35,147.67 505.53,147.63 505.72,147.59 505.90,147.53 506.09,147.47 506.27,147.40 506.45,147.34 506.64,147.29 506.82,147.26 507.01,147.25 507.19,147.25 507.38,147.26 507.56,147.28 507.74,147.29 507.93,147.29 508.11,147.29 508.30,147.30 508.48,147.31 508.66,147.33 508.85,147.37 509.03,147.43 509.22,147.49 509.40,147.56 509.58,147.63 509.77,147.70 509.95,147.75 510.14,147.78 510.32,147.79 510.51,147.78 510.69,147.75 510.87,147.71 511.06,147.67 511.24,147.62 511.43,147.57 511.61,147.52 511.79,147.47 511.98,147.43 512.16,147.39 512.35,147.37 512.53,147.35 512.71,147.34 512.90,147.33 513.08,147.34 513.27,147.35 513.45,147.37 513.64,147.41 513.82,147.46 514.00,147.53 514.19,147.61 514.37,147.69 514.56,147.77 514.74,147.83 514.92,147.87 515.11,147.88 515.29,147.86 515.48,147.81 515.66,147.76 515.85,147.71 516.03,147.68 516.21,147.67 516.40,147.68 516.58,147.71 516.77,147.75 516.95,147.79 517.13,147.82 517.32,147.84 517.50,147.85 517.69,147.83 517.87,147.80 518.05,147.76 518.24,147.71 518.42,147.65 518.61,147.59 518.79,147.53 518.98,147.49 519.16,147.46 519.34,147.44 519.53,147.42 519.71,147.40 519.90,147.37 520.08,147.34 520.26,147.30 520.45,147.27 520.63,147.23 520.82,147.20 521.00,147.19 521.18,147.17 521.37,147.17 521.55,147.16 521.74,147.15 521.92,147.14 522.11,147.13 522.29,147.12 522.47,147.12 522.66,147.13 522.84,147.16 523.03,147.21 523.21,147.26 523.39,147.31 523.58,147.34 523.76,147.36 523.95,147.35 524.13,147.33 524.32,147.31 524.50,147.29 524.68,147.29 524.87,147.32 525.05,147.37 525.24,147.44 525.42,147.53 525.60,147.61 525.79,147.67 525.97,147.71 526.16,147.73 526.34,147.70 526.52,147.66 526.71,147.58 526.89,147.50 527.08,147.42 527.26,147.34 527.45,147.30 527.63,147.28 527.81,147.31 528.00,147.37 528.18,147.47 528.37,147.60 528.55,147.74 528.73,147.88 528.92,148.02 529.10,148.13 529.29,148.21 529.47,148.26 529.65,148.27 529.84,148.26 530.02,148.23 530.21,148.18 530.39,148.12 530.58,148.05 530.76,147.98 530.94,147.91 531.13,147.85 531.31,147.81 531.50,147.78 531.68,147.77 531.86,147.78 532.05,147.78 532.23,147.78 532.42,147.76 532.60,147.73 532.79,147.68 532.97,147.61 533.15,147.54 533.34,147.47 533.52,147.39 533.71,147.32 533.89,147.24 534.07,147.16 534.26,147.07 534.44,146.99 534.63,146.90 534.81,146.81 534.99,146.73 535.18,146.65 535.36,146.56 535.55,146.47 535.73,146.38 535.92,146.29 536.10,146.21 536.28,146.13 536.47,146.06 536.65,146.00 536.84,145.95 537.02,145.91 537.20,145.88 537.39,145.84 537.57,145.79 537.76,145.73 537.94,145.65 538.13,145.55 538.31,145.42 538.49,145.28 538.68,145.13 538.86,144.97 539.05,144.80 539.23,144.64 539.41,144.49 539.60,144.34 539.78,144.20 539.97,144.07 540.15,143.94 540.33,143.81 540.52,143.68 540.70,143.54 540.89,143.40 541.07,143.26 541.26,143.11 541.44,142.95 541.62,142.79 541.81,142.62 541.99,142.44 542.18,142.26 542.36,142.08 542.54,141.90 542.73,141.73 542.91,141.56 543.10,141.40 543.28,141.23 543.46,141.06 543.65,140.89 543.83,140.71 544.02,140.52 544.20,140.33 544.39,140.13 544.57,139.93 544.75,139.72 544.94,139.51 545.12,139.29 545.31,139.06 545.49,138.82 545.67,138.58 545.86,138.34 546.04,138.10 546.23,137.87 546.41,137.64 546.60,137.43 546.78,137.22 546.96,137.02 547.15,136.82 547.33,136.62 547.52,136.42 547.70,136.21 547.88,135.99 548.07,135.77 548.25,135.54 548.44,135.32 548.62,135.10 548.80,134.89 548.99,134.69 549.17,134.48 549.36,134.28 549.54,134.07 549.73,133.85 549.91,133.63 550.09,133.39 550.28,133.16 550.46,132.92 550.65,132.69 550.83,132.46 551.01,132.24 551.20,132.03 551.38,131.82 551.57,131.61 551.75,131.40 551.93,131.19 552.12,130.99 552.30,130.78 552.49,130.57 552.67,130.35 552.86,130.13 553.04,129.90 553.22,129.67 553.41,129.42 553.59,129.17 553.78,128.91 553.96,128.65 554.14,128.37 554.33,128.10 554.51,127.81 554.70,127.52 554.88,127.23 555.07,126.93 555.25,126.61 555.43,126.29 555.62,125.97 555.80,125.63 555.99,125.30 556.17,124.97 556.35,124.65 556.54,124.33 556.72,124.02 556.91,123.72 557.09,123.43 557.27,123.15 557.46,122.88 557.64,122.61 557.83,122.35 558.01,122.10 558.20,121.85 558.38,121.61 558.56,121.37 558.75,121.14 558.93,120.92 559.12,120.70 559.30,120.50 559.48,120.31 559.67,120.13 559.85,119.96 560.04,119.80 560.22,119.65 560.40,119.49 560.59,119.33 560.77,119.17 560.96,119.01 561.14,118.84 561.33,118.68 561.51,118.51 561.69,118.35 561.88,118.18 562.06,118.02 562.25,117.85 562.43,117.68 562.61,117.50 562.80,117.32 562.98,117.15 563.17,116.97 563.35,116.80 563.54,116.63 563.72,116.47 563.90,116.31 564.09,116.17 564.27,116.03 564.46,115.91 564.64,115.80 564.82,115.70 565.01,115.61 565.19,115.52 565.38,115.43 565.56,115.34 565.74,115.24 565.93,115.12 566.11,115.00 566.30,114.86 566.48,114.71 566.67,114.54 566.85,114.37 567.03,114.19 567.22,114.01 567.40,113.83 567.59,113.66 567.77,113.50 567.95,113.35 568.14,113.22 568.32,113.10 568.51,113.00 568.69,112.90 568.87,112.80 569.06,112.71 569.24,112.62 569.43,112.52 569.61,112.43 569.80,112.32 569.98,112.21 570.16,112.10 570.35,111.97 570.53,111.85 570.72,111.72 570.90,111.59 571.08,111.48 571.27,111.37 571.45,111.29 571.64,111.23 571.82,111.19 572.01,111.16 572.19,111.16 572.37,111.16 572.56,111.17 572.74,111.18 572.93,111.18 573.11,111.17 573.29,111.14 573.48,111.10 573.66,111.03 573.85,110.95 574.03,110.86 574.21,110.75 574.40,110.64 574.58,110.53 574.77,110.42 574.95,110.33 575.14,110.26 575.32,110.20 575.50,110.16 575.69,110.14 575.87,110.13 576.06,110.13 576.24,110.15 576.42,110.17 576.61,110.20 576.79,110.25 576.98,110.29 577.16,110.34 577.35,110.38 577.53,110.40 577.71,110.40 577.90,110.36 578.08,110.30 578.27,110.20 578.45,110.08 578.63,109.95 578.82,109.81 579.00,109.68 579.19,109.56 579.37,109.47 579.55,109.41 579.74,109.37 579.92,109.36 580.11,109.36 580.29,109.37 580.48,109.39 580.66,109.40 580.84,109.40 581.03,109.40 581.21,109.39 581.40,109.38 581.58,109.39 581.76,109.40 581.95,109.44 582.13,109.49 582.32,109.56 582.50,109.65 582.68,109.75 582.87,109.84 583.05,109.93 583.24,110.02 583.42,110.09 583.61,110.15 583.79,110.20 583.97,110.23 584.16,110.24 584.34,110.23 584.53,110.20 584.71,110.15 584.89,110.09 585.08,110.02 585.26,109.94 585.45,109.87 585.63,109.82 585.82,109.77 586.00,109.75 586.18,109.73 586.37,109.73 586.55,109.74 586.74,109.76 586.92,109.79 587.10,109.82 587.29,109.87 587.47,109.91 587.66,109.95 587.84,109.99 588.02,110.02 588.21,110.05 588.39,110.08 588.58,110.10 588.76,110.13 588.95,110.14 589.13,110.13 589.31,110.11 589.50,110.08 589.68,110.05 589.87,110.02 590.05,110.01 590.23,110.02 590.42,110.06 590.60,110.11 590.79,110.17 590.97,110.24 591.15,110.29 591.34,110.32 591.52,110.33 591.71,110.32 591.89,110.28 592.08,110.24 592.26,110.19 592.44,110.15 592.63,110.12 592.81,110.10 593.00,110.09 593.18,110.10 593.36,110.09 593.55,110.08 593.73,110.04 593.92,109.99 594.10,109.92 594.29,109.85 594.47,109.79 594.65,109.76 594.84,109.77 595.02,109.82 595.21,109.92 595.39,110.05 595.57,110.21 595.76,110.36 595.94,110.51 596.13,110.63 596.31,110.73 596.49,110.79 596.68,110.83 596.86,110.84 597.05,110.84 597.23,110.82 597.42,110.79 597.60,110.75 597.78,110.71 597.97,110.67 598.15,110.62 598.34,110.58 598.52,110.54 598.70,110.51 598.89,110.49 599.07,110.48 599.26,110.49 599.44,110.53 599.62,110.59 599.81,110.66 599.99,110.75 600.18,110.84 600.36,110.93 600.55,111.02 600.73,111.08 600.91,111.14 601.10,111.18 601.28,111.20 601.47,111.21 601.65,111.21 601.83,111.19 602.02,111.17 602.20,111.13 602.39,111.08 602.57,111.02 602.76,110.95 602.94,110.87 603.12,110.80 603.31,110.73 603.49,110.67 603.68,110.64 603.86,110.63 604.04,110.64 604.23,110.68 604.41,110.74 604.60,110.82 604.78,110.89 604.96,110.96 605.15,111.01 605.33,111.04 605.52,111.05 605.70,111.05 605.89,111.03 606.07,111.01 606.25,110.98 606.44,110.96 606.62,110.94 606.81,110.92 606.99,110.90 607.17,110.88 607.36,110.86 607.54,110.85 607.73,110.84 607.91,110.85 608.09,110.87 608.28,110.92 608.46,110.98 608.65,111.05 608.83,111.12 609.02,111.18 609.20,111.22 609.38,111.25 609.57,111.26 609.75,111.27 609.94,111.28 610.12,111.31 610.30,111.34 610.49,111.40 610.67,111.46 610.86,111.54 611.04,111.61 611.23,111.68 611.41,111.73 611.59,111.77 611.78,111.78 611.96,111.77 612.15,111.74 612.33,111.68 612.51,111.61 612.70,111.52 612.88,111.44 613.07,111.37 613.25,111.31 613.43,111.28 613.62,111.28 613.80,111.32 613.99,111.38 614.17,111.46 614.36,111.56 614.54,111.67 614.72,111.76 614.91,111.83 615.09,111.88 615.28,111.89 615.46,111.87 615.64,111.82 615.83,111.75 616.01,111.67 616.20,111.59 616.38,111.52 616.57,111.47 616.75,111.45 616.93,111.44 617.12,111.47 617.30,111.51 617.49,111.57 617.67,111.64 617.85,111.73 618.04,111.82 618.22,111.91 618.41,112.00 618.59,112.08 618.77,112.16 618.96,112.22 619.14,112.27 619.33,112.31 619.51,112.32 619.70,112.32 619.88,112.30 620.06,112.28 620.25,112.24 620.43,112.20 620.62,112.16 620.80,112.14 620.98,112.13 621.17,112.13 621.35,112.15 621.54,112.18 621.72,112.21 621.90,112.24 622.09,112.25 622.27,112.25 622.46,112.23 622.64,112.21 622.83,112.19 623.01,112.16 623.19,112.15 623.38,112.16 623.56,112.18 623.75,112.22 623.93,112.27 624.11,112.32 624.30,112.36 624.48,112.38 624.67,112.39 624.85,112.39 625.04,112.37 625.22,112.36 625.40,112.35 625.59,112.35 625.77,112.39 625.96,112.45 626.14,112.53 626.32,112.64 626.51,112.75 626.69,112.86 626.88,112.95 627.06,113.01 627.24,113.04 627.43,113.02 627.61,112.96 627.80,112.87 627.98,112.77 628.17,112.67 628.35,112.59 628.53,112.54 628.72,112.51 628.90,112.49 629.09,112.49 629.27,112.49 629.45,112.48 629.64,112.48 629.82,112.49 630.01,112.50 630.19,112.53 630.37,112.58 630.56,112.65 630.74,112.72 630.93,112.79 631.11,112.85 631.30,112.89 631.48,112.89 631.66,112.87 631.85,112.82 632.03,112.74 632.22,112.65 632.40,112.55 632.58,112.47 632.77,112.39 632.95,112.35 633.14,112.33 633.32,112.35 633.51,112.40 633.69,112.47 633.87,112.53 634.06,112.59 634.24,112.64 634.43,112.67 634.61,112.66 634.79,112.64 634.98,112.60 635.16,112.56 635.35,112.53 635.53,112.50 635.71,112.48 635.90,112.47 636.08,112.46 636.27,112.46 636.45,112.47 636.64,112.47 636.82,112.49 637.00,112.50 637.19,112.52 637.37,112.52 637.56,112.52 637.74,112.50 637.92,112.47 638.11,112.43 638.29,112.38 638.48,112.34 638.66,112.29 638.84,112.26 639.03,112.23 639.21,112.21 639.40,112.19 639.58,112.17 639.77,112.15 639.95,112.13 640.13,112.12 640.32,112.11 640.50,112.11 640.69,112.11 640.87,112.11 641.05,112.11 641.24,112.08 641.42,112.03 641.61,111.97 641.79,111.90 641.98,111.83 642.16,111.77 642.34,111.73 642.53,111.71 642.71,111.70 642.90,111.69 643.08,111.67 643.26,111.63 643.45,111.57 643.63,111.50 643.82,111.43 644.00,111.37 644.18,111.32 644.37,111.30 644.55,111.29 644.74,111.29 644.92,111.30 645.11,111.31 645.29,111.33 645.47,111.36 645.66,111.39 645.84,111.42 646.03,111.46 646.21,111.49 646.39,111.52 646.58,111.53 646.76,111.54 646.95,111.52 647.13,111.50 647.32,111.46 647.50,111.42 647.68,111.37 647.87,111.32 648.05,111.27 648.24,111.22 648.42,111.18 648.60,111.15 648.79,111.12 648.97,111.10 649.16,111.09 649.34,111.09 649.52,111.10 649.71,111.11 649.89,111.13 650.08,111.14 650.26,111.15 650.45,111.15 650.63,111.15 650.81,111.13 651.00,111.10 651.18,111.06 651.37,111.01 651.55,110.97 651.73,110.92 651.92,110.88 652.10,110.85 652.29,110.82 652.47,110.81 652.65,110.80 652.84,110.80 653.02,110.81 653.21,110.82 653.39,110.83 653.58,110.85 653.76,110.86 653.94,110.86 654.13,110.86 654.31,110.84 654.50,110.81 654.68,110.77 654.86,110.72 655.05,110.67 655.23,110.62 655.42,110.58 655.60,110.54 655.79,110.52 655.97,110.51 656.15,110.50 656.34,110.51 656.52,110.52 656.71,110.53 656.89,110.55 657.07,110.56 657.26,110.57 657.44,110.57 657.63,110.56 657.81,110.54 657.99,110.51 658.18,110.47 658.36,110.44 658.55,110.42 658.73,110.40 658.92,110.40 659.10,110.39 659.28,110.37 659.47,110.32 659.65,110.26 659.84,110.16 660.02,110.06 660.20,109.96 660.39,109.87 660.57,109.81 660.76,109.78 660.94,109.79 661.12,109.84 661.31,109.91 661.49,109.98 661.68,110.06 661.86,110.13 662.05,110.19 662.23,110.22 662.41,110.23 662.60,110.21 662.78,110.17 662.97,110.12 663.15,110.06 663.33,110.00 663.52,109.95 663.70,109.91 663.89,109.89 664.07,109.89 664.26,109.89 664.44,109.90 664.62,109.92 664.81,109.93 664.99,109.93 665.18,109.93 665.36,109.94 665.54,109.95 665.73,109.97 665.91,110.00 666.10,110.06 666.28,110.12 666.46,110.21 666.65,110.29 666.83,110.37 667.02,110.43 667.20,110.47 667.39,110.49 667.57,110.50 667.75,110.51 667.94,110.48 668.12,110.45 668.31,110.42 668.49,110.40 668.67,110.38 668.86,110.37 669.04,110.35 669.23,110.34 669.41,110.31 669.59,110.28 669.78,110.24 669.96,110.20 670.15,110.17 670.33,110.15 670.52,110.14 670.70,110.16 670.88,110.20 671.07,110.24 671.25,110.29 671.44,110.33 671.62,110.37 671.80,110.39 671.99,110.41 672.17,110.41 672.36,110.40 672.54,110.39 672.73,110.38 672.91,110.36 673.09,110.33 673.28,110.30 673.46,110.28 673.65,110.25 673.83,110.24 674.01,110.23 674.20,110.24 674.38,110.25 674.57,110.27 674.75,110.28 674.93,110.28 675.12,110.27 675.30,110.24 675.49,110.18 675.67,110.10 675.86,109.99 676.04,109.87 676.22,109.75 676.41,109.62 676.59,109.51 676.78,109.41 676.96,109.34 677.14,109.30 677.33,109.29 677.51,109.31 677.70,109.35 677.88,109.41 678.06,109.49 678.25,109.57 678.43,109.63 678.62,109.69 678.80,109.73 678.99,109.75 679.17,109.76 679.35,109.76 679.54,109.77 679.72,109.78 679.91,109.82 680.09,109.88 680.27,109.95 680.46,110.05 680.64,110.15 680.83,110.26 681.01,110.36 681.20,110.45 681.38,110.51 681.56,110.55 681.75,110.56 681.93,110.54 682.12,110.50 682.30,110.44" fill="none" stroke="#b28c2a" stroke-width="1.0" stroke-linejoin="round" opacity="1"/>
<polyline points="424.70,146.28 424.88,146.24 425.07,146.23 425.25,146.26 425.44,146.32 425.62,146.39 425.80,146.46 425.99,146.51 426.17,146.54 426.36,146.55 426.54,146.53 426.73,146.49 426.91,146.43 427.09,146.36 427.28,146.29 427.46,146.23 427.65,146.16 427.83,146.10 428.01,146.05 428.20,146.00 428.38,145.95 428.57,145.91 428.75,145.89 428.94,145.88 429.12,145.91 429.30,145.96 429.49,146.06 429.67,146.18 429.86,146.32 430.04,146.47 430.22,146.62 430.41,146.75 430.59,146.87 430.78,146.95 430.96,147.01 431.14,147.04 431.33,147.04 431.51,147.01 431.70,146.96 431.88,146.89 432.07,146.81 432.25,146.74 432.43,146.67 432.62,146.62 432.80,146.58 432.99,146.56 433.17,146.55 433.35,146.53 433.54,146.51 433.72,146.48 433.91,146.44 434.09,146.38 434.27,146.32 434.46,146.25 434.64,146.18 434.83,146.12 435.01,146.08 435.20,146.06 435.38,146.07 435.56,146.11 435.75,146.18 435.93,146.27 436.12,146.37 436.30,146.46 436.48,146.54 436.67,146.59 436.85,146.62 437.04,146.62 437.22,146.60 437.41,146.56 437.59,146.50 437.77,146.44 437.96,146.38 438.14,146.33 438.33,146.30 438.51,146.29 438.69,146.30 438.88,146.34 439.06,146.40 439.25,146.48 439.43,146.56 439.61,146.63 439.80,146.70 439.98,146.75 440.17,146.78 440.35,146.79 440.54,146.77 440.72,146.74 440.90,146.69 441.09,146.62 441.27,146.55 441.46,146.47 441.64,146.40 441.82,146.33 442.01,146.28 442.19,146.26 442.38,146.25 442.56,146.27 442.74,146.32 442.93,146.38 443.11,146.45 443.30,146.54 443.48,146.62 443.67,146.71 443.85,146.79 444.03,146.87 444.22,146.95 444.40,147.01 444.59,147.05 444.77,147.08 444.95,147.09 445.14,147.09 445.32,147.06 445.51,147.02 445.69,146.95 445.88,146.87 446.06,146.77 446.24,146.67 446.43,146.56 446.61,146.45 446.80,146.35 446.98,146.27 447.16,146.20 447.35,146.14 447.53,146.10 447.72,146.08 447.90,146.08 448.08,146.11 448.27,146.15 448.45,146.21 448.64,146.29 448.82,146.35 449.01,146.41 449.19,146.46 449.37,146.48 449.56,146.48 449.74,146.46 449.93,146.41 450.11,146.34 450.29,146.24 450.48,146.13 450.66,146.01 450.85,145.90 451.03,145.82 451.21,145.78 451.40,145.79 451.58,145.85 451.77,145.95 451.95,146.07 452.14,146.20 452.32,146.33 452.50,146.43 452.69,146.51 452.87,146.56 453.06,146.59 453.24,146.62 453.42,146.64 453.61,146.67 453.79,146.70 453.98,146.73 454.16,146.75 454.35,146.77 454.53,146.76 454.71,146.73 454.90,146.70 455.08,146.65 455.27,146.60 455.45,146.56 455.63,146.53 455.82,146.51 456.00,146.50 456.19,146.50 456.37,146.52 456.55,146.54 456.74,146.57 456.92,146.60 457.11,146.64 457.29,146.68 457.48,146.72 457.66,146.74 457.84,146.76 458.03,146.75 458.21,146.75 458.40,146.74 458.58,146.73 458.76,146.73 458.95,146.75 459.13,146.78 459.32,146.83 459.50,146.88 459.68,146.92 459.87,146.96 460.05,146.98 460.24,146.97 460.42,146.95 460.61,146.90 460.79,146.84 460.97,146.79 461.16,146.74 461.34,146.71 461.53,146.69 461.71,146.69 461.89,146.69 462.08,146.69 462.26,146.68 462.45,146.66 462.63,146.62 462.82,146.57 463.00,146.51 463.18,146.44 463.37,146.37 463.55,146.30 463.74,146.24 463.92,146.18 464.10,146.14 464.29,146.10 464.47,146.06 464.66,146.03 464.84,146.02 465.02,146.01 465.21,146.02 465.39,146.05 465.58,146.09 465.76,146.14 465.95,146.18 466.13,146.23 466.31,146.26 466.50,146.29 466.68,146.32 466.87,146.34 467.05,146.37 467.23,146.40 467.42,146.44 467.60,146.48 467.79,146.52 467.97,146.57 468.16,146.61 468.34,146.66 468.52,146.69 468.71,146.73 468.89,146.75 469.08,146.75 469.26,146.74 469.44,146.72 469.63,146.68 469.81,146.64 470.00,146.60 470.18,146.56 470.36,146.52 470.55,146.49 470.73,146.47 470.92,146.46 471.10,146.44 471.29,146.43 471.47,146.42 471.65,146.42 471.84,146.41 472.02,146.41 472.21,146.41 472.39,146.42 472.57,146.44 472.76,146.45 472.94,146.47 473.13,146.48 473.31,146.48 473.49,146.49 473.68,146.50 473.86,146.52 474.05,146.55 474.23,146.60 474.42,146.68 474.60,146.76 474.78,146.87 474.97,146.97 475.15,147.07 475.34,147.16 475.52,147.22 475.70,147.26 475.89,147.28 476.07,147.29 476.26,147.29 476.44,147.28 476.63,147.27 476.81,147.26 476.99,147.23 477.18,147.18 477.36,147.10 477.55,147.01 477.73,146.89 477.91,146.77 478.10,146.66 478.28,146.56 478.47,146.49 478.65,146.45 478.83,146.43 479.02,146.44 479.20,146.45 479.39,146.46 479.57,146.46 479.76,146.46 479.94,146.45 480.12,146.44 480.31,146.42 480.49,146.40 480.68,146.39 480.86,146.38 481.04,146.39 481.23,146.42 481.41,146.47 481.60,146.53 481.78,146.61 481.96,146.69 482.15,146.77 482.33,146.84 482.52,146.91 482.70,146.97 482.89,147.02 483.07,147.08 483.25,147.14 483.44,147.21 483.62,147.27 483.81,147.32 483.99,147.34 484.17,147.33 484.36,147.28 484.54,147.20 484.73,147.10 484.91,147.01 485.10,146.92 485.28,146.87 485.46,146.86 485.65,146.88 485.83,146.92 486.02,146.97 486.20,147.00 486.38,147.01 486.57,146.99 486.75,146.94 486.94,146.87 487.12,146.80 487.30,146.73 487.49,146.67 487.67,146.62 487.86,146.59 488.04,146.58 488.23,146.57 488.41,146.58 488.59,146.58 488.78,146.60 488.96,146.62 489.15,146.65 489.33,146.68 489.51,146.71 489.70,146.74 489.88,146.77 490.07,146.80 490.25,146.82 490.43,146.83 490.62,146.83 490.80,146.83 490.99,146.82 491.17,146.80 491.36,146.79 491.54,146.77 491.72,146.75 491.91,146.74 492.09,146.73 492.28,146.73 492.46,146.73 492.64,146.73 492.83,146.74 493.01,146.75 493.20,146.76 493.38,146.77 493.57,146.79 493.75,146.81 493.93,146.83 494.12,146.85 494.30,146.88 494.49,146.92 494.67,146.96 494.85,147.01 495.04,147.07 495.22,147.13 495.41,147.18 495.59,147.22 495.77,147.25 495.96,147.25 496.14,147.24 496.33,147.23 496.51,147.21 496.70,147.19 496.88,147.17 497.06,147.16 497.25,147.14 497.43,147.13 497.62,147.11 497.80,147.09 497.98,147.08 498.17,147.06 498.35,147.06 498.54,147.07 498.72,147.09 498.91,147.12 499.09,147.18 499.27,147.24 499.46,147.31 499.64,147.40 499.83,147.49 500.01,147.57 500.19,147.65 500.38,147.71 500.56,147.75 500.75,147.75 500.93,147.73 501.11,147.67 501.30,147.60 501.48,147.52 501.67,147.47 501.85,147.44 502.04,147.44 502.22,147.46 502.40,147.51 502.59,147.57 502.77,147.63 502.96,147.67 503.14,147.68 503.32,147.67 503.51,147.63 503.69,147.56 503.88,147.49 504.06,147.40 504.24,147.32 504.43,147.24 504.61,147.18 504.80,147.14 504.98,147.11 505.17,147.11 505.35,147.13 505.53,147.17 505.72,147.22 505.90,147.29 506.09,147.36 506.27,147.42 506.45,147.47 506.64,147.52 506.82,147.55 507.01,147.58 507.19,147.60 507.38,147.63 507.56,147.66 507.74,147.70 507.93,147.74 508.11,147.78 508.30,147.82 508.48,147.85 508.66,147.87 508.85,147.89 509.03,147.90 509.22,147.90 509.40,147.90 509.58,147.89 509.77,147.88 509.95,147.85 510.14,147.82 510.32,147.80 510.51,147.77 510.69,147.76 510.87,147.77 511.06,147.78 511.24,147.80 511.43,147.82 511.61,147.82 511.79,147.81 511.98,147.77 512.16,147.71 512.35,147.64 512.53,147.56 512.71,147.48 512.90,147.41 513.08,147.34 513.27,147.29 513.45,147.25 513.64,147.25 513.82,147.26 514.00,147.30 514.19,147.37 514.37,147.44 514.56,147.53 514.74,147.61 514.92,147.68 515.11,147.74 515.29,147.78 515.48,147.81 515.66,147.82 515.85,147.83 516.03,147.83 516.21,147.82 516.40,147.80 516.58,147.77 516.77,147.73 516.95,147.69 517.13,147.65 517.32,147.61 517.50,147.57 517.69,147.54 517.87,147.51 518.05,147.49 518.24,147.48 518.42,147.49 518.61,147.51 518.79,147.54 518.98,147.58 519.16,147.62 519.34,147.65 519.53,147.68 519.71,147.68 519.90,147.67 520.08,147.65 520.26,147.63 520.45,147.60 520.63,147.59 520.82,147.59 521.00,147.60 521.18,147.62 521.37,147.65 521.55,147.67 521.74,147.68 521.92,147.68 522.11,147.67 522.29,147.64 522.47,147.61 522.66,147.56 522.84,147.52 523.03,147.48 523.21,147.45 523.39,147.43 523.58,147.43 523.76,147.45 523.95,147.49 524.13,147.55 524.32,147.63 524.50,147.73 524.68,147.84 524.87,147.96 525.05,148.06 525.24,148.14 525.42,148.19 525.60,148.19 525.79,148.15 525.97,148.06 526.16,147.94 526.34,147.80 526.52,147.65 526.71,147.52 526.89,147.42 527.08,147.36 527.26,147.33 527.45,147.34 527.63,147.37 527.81,147.42 528.00,147.47 528.18,147.51 528.37,147.53 528.55,147.54 528.73,147.54 528.92,147.54 529.10,147.55 529.29,147.56 529.47,147.60 529.65,147.65 529.84,147.70 530.02,147.75 530.21,147.78 530.39,147.79 530.58,147.77 530.76,147.73 530.94,147.66 531.13,147.59 531.31,147.51 531.50,147.44 531.68,147.38 531.86,147.34 532.05,147.30 532.23,147.27 532.42,147.24 532.60,147.21 532.79,147.18 532.97,147.15 533.15,147.13 533.34,147.14 533.52,147.17 533.71,147.22 533.89,147.28 534.07,147.36 534.26,147.42 534.44,147.47 534.63,147.50 534.81,147.51 534.99,147.51 535.18,147.51 535.36,147.51 535.55,147.53 535.73,147.56 535.92,147.59 536.10,147.61 536.28,147.63 536.47,147.65 536.65,147.65 536.84,147.63 537.02,147.61 537.20,147.58 537.39,147.53 537.57,147.46 537.76,147.37 537.94,147.27 538.13,147.15 538.31,147.03 538.49,146.92 538.68,146.81 538.86,146.71 539.05,146.62 539.23,146.54 539.41,146.46 539.60,146.38 539.78,146.30 539.97,146.21 540.15,146.12 540.33,146.03 540.52,145.95 540.70,145.87 540.89,145.81 541.07,145.76 541.26,145.71 541.44,145.66 541.62,145.61 541.81,145.54 541.99,145.46 542.18,145.36 542.36,145.24 542.54,145.12 542.73,144.99 542.91,144.85 543.10,144.71 543.28,144.57 543.46,144.43 543.65,144.28 543.83,144.12 544.02,143.95 544.20,143.78 544.39,143.60 544.57,143.41 544.75,143.22 544.94,143.02 545.12,142.83 545.31,142.63 545.49,142.43 545.67,142.23 545.86,142.03 546.04,141.83 546.23,141.63 546.41,141.43 546.60,141.22 546.78,141.00 546.96,140.77 547.15,140.54 547.33,140.29 547.52,140.02 547.70,139.75 547.88,139.48 548.07,139.20 548.25,138.93 548.44,138.66 548.62,138.40 548.80,138.14 548.99,137.88 549.17,137.62 549.36,137.35 549.54,137.06 549.73,136.76 549.91,136.43 550.09,136.10 550.28,135.75 550.46,135.40 550.65,135.04 550.83,134.68 551.01,134.32 551.20,133.97 551.38,133.62 551.57,133.26 551.75,132.90 551.93,132.54 552.12,132.17 552.30,131.78 552.49,131.39 552.67,131.00 552.86,130.59 553.04,130.17 553.22,129.74 553.41,129.30 553.59,128.84 553.78,128.38 553.96,127.90 554.14,127.42 554.33,126.94 554.51,126.46 554.70,125.98 554.88,125.50 555.07,125.03 555.25,124.56 555.43,124.09 555.62,123.64 555.80,123.19 555.99,122.75 556.17,122.33 556.35,121.92 556.54,121.54 556.72,121.18 556.91,120.85 557.09,120.54 557.27,120.26 557.46,120.00 557.64,119.75 557.83,119.50 558.01,119.26 558.20,119.01 558.38,118.76 558.56,118.50 558.75,118.24 558.93,117.99 559.12,117.74 559.30,117.50 559.48,117.27 559.67,117.06 559.85,116.86 560.04,116.67 560.22,116.49 560.40,116.31 560.59,116.13 560.77,115.96 560.96,115.79 561.14,115.63 561.33,115.49 561.51,115.36 561.69,115.24 561.88,115.13 562.06,115.02 562.25,114.92 562.43,114.81 562.61,114.69 562.80,114.56 562.98,114.42 563.17,114.27 563.35,114.11 563.54,113.95 563.72,113.79 563.90,113.63 564.09,113.47 564.27,113.31 564.46,113.16 564.64,113.01 564.82,112.86 565.01,112.71 565.19,112.56 565.38,112.41 565.56,112.26 565.74,112.12 565.93,111.98 566.11,111.86 566.30,111.74 566.48,111.65 566.67,111.58 566.85,111.52 567.03,111.48 567.22,111.45 567.40,111.44 567.59,111.43 567.77,111.43 567.95,111.44 568.14,111.45 568.32,111.47 568.51,111.48 568.69,111.49 568.87,111.49 569.06,111.47 569.24,111.44 569.43,111.40 569.61,111.34 569.80,111.28 569.98,111.21 570.16,111.15 570.35,111.09 570.53,111.04 570.72,110.99 570.90,110.95 571.08,110.91 571.27,110.86 571.45,110.80 571.64,110.73 571.82,110.66 572.01,110.59 572.19,110.52 572.37,110.47 572.56,110.42 572.74,110.38 572.93,110.34 573.11,110.29 573.29,110.23 573.48,110.16 573.66,110.07 573.85,109.97 574.03,109.86 574.21,109.76 574.40,109.66 574.58,109.59 574.77,109.54 574.95,109.53 575.14,109.54 575.32,109.60 575.50,109.68 575.69,109.77 575.87,109.87 576.06,109.96 576.24,110.04 576.42,110.09 576.61,110.12 576.79,110.13 576.98,110.14 577.16,110.15 577.35,110.17 577.53,110.19 577.71,110.21 577.90,110.23 578.08,110.23 578.27,110.21 578.45,110.17 578.63,110.11 578.82,110.04 579.00,109.97 579.19,109.91 579.37,109.85 579.55,109.80 579.74,109.77 579.92,109.75 580.11,109.75 580.29,109.76 580.48,109.78 580.66,109.80 580.84,109.84 581.03,109.87 581.21,109.91 581.40,109.96 581.58,110.01 581.76,110.05 581.95,110.09 582.13,110.12 582.32,110.14 582.50,110.13 582.68,110.11 582.87,110.07 583.05,110.03 583.24,109.98 583.42,109.93 583.61,109.87 583.79,109.79 583.97,109.71 584.16,109.62 584.34,109.52 584.53,109.43 584.71,109.35 584.89,109.29 585.08,109.26 585.26,109.24 585.45,109.22 585.63,109.22 585.82,109.21 586.00,109.21 586.18,109.22 586.37,109.24 586.55,109.26 586.74,109.30 586.92,109.35 587.10,109.40 587.29,109.45 587.47,109.50 587.66,109.54 587.84,109.58 588.02,109.62 588.21,109.66 588.39,109.71 588.58,109.75 588.76,109.78 588.95,109.82 589.13,109.85 589.31,109.88 589.50,109.92 589.68,109.96 589.87,110.00 590.05,110.05 590.23,110.09 590.42,110.14 590.60,110.18 590.79,110.21 590.97,110.24 591.15,110.26 591.34,110.27 591.52,110.29 591.71,110.31 591.89,110.33 592.08,110.35 592.26,110.36 592.44,110.36 592.63,110.34 592.81,110.31 593.00,110.27 593.18,110.22 593.36,110.17 593.55,110.13 593.73,110.10 593.92,110.08 594.10,110.08 594.29,110.10 594.47,110.13 594.65,110.19 594.84,110.26 595.02,110.33 595.21,110.41 595.39,110.48 595.57,110.53 595.76,110.56 595.94,110.57 596.13,110.57 596.31,110.56 596.49,110.55 596.68,110.56 596.86,110.58 597.05,110.61 597.23,110.63 597.42,110.65 597.60,110.65 597.78,110.63 597.97,110.59 598.15,110.52 598.34,110.45 598.52,110.37 598.70,110.30 598.89,110.25 599.07,110.24 599.26,110.25 599.44,110.31 599.62,110.39 599.81,110.49 599.99,110.58 600.18,110.67 600.36,110.72 600.55,110.75 600.73,110.75 600.91,110.73 601.10,110.69 601.28,110.65 601.47,110.60 601.65,110.55 601.83,110.50 602.02,110.45 602.20,110.41 602.39,110.37 602.57,110.34 602.76,110.32 602.94,110.32 603.12,110.32 603.31,110.34 603.49,110.36 603.68,110.38 603.86,110.41 604.04,110.45 604.23,110.50 604.41,110.55 604.60,110.61 604.78,110.67 604.96,110.73 605.15,110.79 605.33,110.84 605.52,110.89 605.70,110.94 605.89,110.98 606.07,111.03 606.25,111.08 606.44,111.13 606.62,111.17 606.81,111.22 606.99,111.25 607.17,111.28 607.36,111.29 607.54,111.30 607.73,111.30 607.91,111.29 608.09,111.28 608.28,111.26 608.46,111.24 608.65,111.20 608.83,111.16 609.02,111.11 609.20,111.06 609.38,111.01 609.57,110.97 609.75,110.95 609.94,110.93 610.12,110.92 610.30,110.92 610.49,110.91 610.67,110.90 610.86,110.89 611.04,110.87 611.23,110.83 611.41,110.80 611.59,110.75 611.78,110.71 611.96,110.68 612.15,110.66 612.33,110.67 612.51,110.70 612.70,110.76 612.88,110.84 613.07,110.94 613.25,111.03 613.43,111.12 613.62,111.20 613.80,111.25 613.99,111.30 614.17,111.32 614.36,111.35 614.54,111.37 614.72,111.40 614.91,111.45 615.09,111.51 615.28,111.58 615.46,111.66 615.64,111.75 615.83,111.83 616.01,111.91 616.20,111.98 616.38,112.03 616.57,112.06 616.75,112.06 616.93,112.04 617.12,112.00 617.30,111.95 617.49,111.88 617.67,111.81 617.85,111.74 618.04,111.70 618.22,111.68 618.41,111.68 618.59,111.73 618.77,111.81 618.96,111.92 619.14,112.04 619.33,112.17 619.51,112.27 619.70,112.35 619.88,112.38 620.06,112.37 620.25,112.33 620.43,112.26 620.62,112.18 620.80,112.12 620.98,112.07 621.17,112.04 621.35,112.04 621.54,112.06 621.72,112.09 621.90,112.12 622.09,112.15 622.27,112.17 622.46,112.18 622.64,112.18 622.83,112.17 623.01,112.15 623.19,112.13 623.38,112.11 623.56,112.10 623.75,112.10 623.93,112.11 624.11,112.15 624.30,112.20 624.48,112.27 624.67,112.35 624.85,112.44 625.04,112.52 625.22,112.58 625.40,112.62 625.59,112.63 625.77,112.62 625.96,112.58 626.14,112.54 626.32,112.48 626.51,112.42 626.69,112.37 626.88,112.32 627.06,112.27 627.24,112.22 627.43,112.18 627.61,112.14 627.80,112.12 627.98,112.11 628.17,112.12 628.35,112.15 628.53,112.19 628.72,112.25 628.90,112.33 629.09,112.42 629.27,112.52 629.45,112.63 629.64,112.74 629.82,112.86 630.01,112.97 630.19,113.08 630.37,113.17 630.56,113.24 630.74,113.29 630.93,113.31 631.11,113.30 631.30,113.26 631.48,113.18 631.66,113.06 631.85,112.91 632.03,112.76 632.22,112.60 632.40,112.46 632.58,112.35 632.77,112.28 632.95,112.26 633.14,112.28 633.32,112.33 633.51,112.40 633.69,112.47 633.87,112.54 634.06,112.60 634.24,112.63 634.43,112.65 634.61,112.66 634.79,112.65 634.98,112.63 635.16,112.60 635.35,112.58 635.53,112.56 635.71,112.55 635.90,112.56 636.08,112.59 636.27,112.62 636.45,112.67 636.64,112.71 636.82,112.75 637.00,112.77 637.19,112.78 637.37,112.77 637.56,112.74 637.74,112.68 637.92,112.60 638.11,112.51 638.29,112.42 638.48,112.35 638.66,112.29 638.84,112.27 639.03,112.27 639.21,112.31 639.40,112.38 639.58,112.46 639.77,112.56 639.95,112.66 640.13,112.76 640.32,112.86 640.50,112.95 640.69,113.03 640.87,113.09 641.05,113.13 641.24,113.15 641.42,113.14 641.61,113.12 641.79,113.08 641.98,113.04 642.16,113.00 642.34,112.96 642.53,112.94 642.71,112.94 642.90,112.94 643.08,112.94 643.26,112.95 643.45,112.96 643.63,112.95 643.82,112.94 644.00,112.92 644.18,112.87 644.37,112.82 644.55,112.75 644.74,112.66 644.92,112.57 645.11,112.48 645.29,112.39 645.47,112.30 645.66,112.22 645.84,112.15 646.03,112.09 646.21,112.05 646.39,112.01 646.58,112.00 646.76,112.01 646.95,112.03 647.13,112.08 647.32,112.13 647.50,112.19 647.68,112.26 647.87,112.32 648.05,112.38 648.24,112.43 648.42,112.47 648.60,112.51 648.79,112.54 648.97,112.57 649.16,112.59 649.34,112.60 649.52,112.60 649.71,112.59 649.89,112.58 650.08,112.57 650.26,112.57 650.45,112.58 650.63,112.61 650.81,112.66 651.00,112.73 651.18,112.80 651.37,112.87 651.55,112.93 651.73,112.96 651.92,112.97 652.10,112.95 652.29,112.91 652.47,112.85 652.65,112.78 652.84,112.70 653.02,112.63 653.21,112.56 653.39,112.51 653.58,112.47 653.76,112.45 653.94,112.45 654.13,112.47 654.31,112.50 654.50,112.55 654.68,112.60 654.86,112.65 655.05,112.70 655.23,112.72 655.42,112.72 655.60,112.71 655.79,112.68 655.97,112.64 656.15,112.59 656.34,112.55 656.52,112.53 656.71,112.51 656.89,112.50 657.07,112.51 657.26,112.54 657.44,112.58 657.63,112.63 657.81,112.70 657.99,112.79 658.18,112.88 658.36,112.98 658.55,113.07 658.73,113.16 658.92,113.23 659.10,113.28 659.28,113.31 659.47,113.31 659.65,113.30 659.84,113.26 660.02,113.20 660.20,113.12 660.39,113.04 660.57,112.95 660.76,112.87 660.94,112.80 661.12,112.76 661.31,112.74 661.49,112.75 661.68,112.77 661.86,112.81 662.05,112.85 662.23,112.88 662.41,112.90 662.60,112.91 662.78,112.90 662.97,112.87 663.15,112.84 663.33,112.81 663.52,112.78 663.70,112.77 663.89,112.76 664.07,112.77 664.26,112.78 664.44,112.80 664.62,112.81 664.81,112.82 664.99,112.83 665.18,112.82 665.36,112.81 665.54,112.80 665.73,112.78 665.91,112.77 666.10,112.76 666.28,112.76 666.46,112.76 666.65,112.76 666.83,112.77 667.02,112.79 667.20,112.80 667.39,112.83 667.57,112.86 667.75,112.89 667.94,112.91 668.12,112.93 668.31,112.92 668.49,112.89 668.67,112.84 668.86,112.77 669.04,112.69 669.23,112.61 669.41,112.53 669.59,112.47 669.78,112.43 669.96,112.41 670.15,112.40 670.33,112.40 670.52,112.41 670.70,112.42 670.88,112.42 671.07,112.41 671.25,112.41 671.44,112.40 671.62,112.40 671.80,112.41 671.99,112.44 672.17,112.49 672.36,112.56 672.54,112.64 672.73,112.72 672.91,112.79 673.09,112.84 673.28,112.86 673.46,112.85 673.65,112.82 673.83,112.78 674.01,112.74 674.20,112.70 674.38,112.68 674.57,112.68 674.75,112.69 674.93,112.71 675.12,112.72 675.30,112.71 675.49,112.70 675.67,112.69 675.86,112.67 676.04,112.65 676.22,112.64 676.41,112.63 676.59,112.63 676.78,112.62 676.96,112.61 677.14,112.60 677.33,112.59 677.51,112.58 677.70,112.59 677.88,112.60 678.06,112.63 678.25,112.66 678.43,112.69 678.62,112.73 678.80,112.76 678.99,112.78 679.17,112.80 679.35,112.82 679.54,112.84 679.72,112.87 679.91,112.91 680.09,112.95 680.27,113.01 680.46,113.09 680.64,113.17 680.83,113.24 681.01,113.30 681.20,113.33 681.38,113.33 681.56,113.29 681.75,113.22 681.93,113.12 682.12,113.01 682.30,112.90" fill="none" stroke="#b28c2a" stroke-width="1.0" stroke-linejoin="round" opacity="1"/>
<polyline points="424.70,146.13 424.88,146.22 425.07,146.32 425.25,146.43 425.44,146.53 425.62,146.63 425.80,146.72 425.99,146.77 426.17,146.79 426.36,146.76 426.54,146.70 426.73,146.61 426.91,146.50 427.09,146.38 427.28,146.28 427.46,146.19 427.65,146.12 427.83,146.07 428.01,146.02 428.20,145.97 428.38,145.93 428.57,145.89 428.75,145.85 428.94,145.82 429.12,145.81 429.30,145.81 429.49,145.83 429.67,145.85 429.86,145.88 430.04,145.91 430.22,145.94 430.41,145.97 430.59,146.00 430.78,146.02 430.96,146.06 431.14,146.09 431.33,146.14 431.51,146.19 431.70,146.25 431.88,146.31 432.07,146.37 432.25,146.44 432.43,146.51 432.62,146.57 432.80,146.63 432.99,146.68 433.17,146.71 433.35,146.73 433.54,146.72 433.72,146.70 433.91,146.66 434.09,146.61 434.27,146.55 434.46,146.50 434.64,146.47 434.83,146.44 435.01,146.42 435.20,146.40 435.38,146.37 435.56,146.31 435.75,146.24 435.93,146.16 436.12,146.06 436.30,145.98 436.48,145.93 436.67,145.92 436.85,145.94 437.04,145.99 437.22,146.08 437.41,146.17 437.59,146.27 437.77,146.36 437.96,146.43 438.14,146.47 438.33,146.49 438.51,146.46 438.69,146.42 438.88,146.34 439.06,146.26 439.25,146.18 439.43,146.12 439.61,146.09 439.80,146.09 439.98,146.13 440.17,146.20 440.35,146.29 440.54,146.39 440.72,146.48 440.90,146.56 441.09,146.64 441.27,146.70 441.46,146.75 441.64,146.79 441.82,146.81 442.01,146.81 442.19,146.80 442.38,146.77 442.56,146.72 442.74,146.67 442.93,146.62 443.11,146.58 443.30,146.56 443.48,146.56 443.67,146.58 443.85,146.62 444.03,146.66 444.22,146.69 444.40,146.71 444.59,146.70 444.77,146.68 444.95,146.66 445.14,146.62 445.32,146.60 445.51,146.59 445.69,146.60 445.88,146.63 446.06,146.68 446.24,146.74 446.43,146.81 446.61,146.87 446.80,146.92 446.98,146.94 447.16,146.94 447.35,146.91 447.53,146.85 447.72,146.78 447.90,146.70 448.08,146.62 448.27,146.56 448.45,146.51 448.64,146.49 448.82,146.50 449.01,146.52 449.19,146.55 449.37,146.59 449.56,146.62 449.74,146.64 449.93,146.64 450.11,146.63 450.29,146.59 450.48,146.53 450.66,146.47 450.85,146.41 451.03,146.36 451.21,146.32 451.40,146.30 451.58,146.30 451.77,146.32 451.95,146.35 452.14,146.40 452.32,146.45 452.50,146.50 452.69,146.56 452.87,146.61 453.06,146.66 453.24,146.70 453.42,146.74 453.61,146.76 453.79,146.77 453.98,146.78 454.16,146.77 454.35,146.75 454.53,146.73 454.71,146.71 454.90,146.70 455.08,146.69 455.27,146.70 455.45,146.73 455.63,146.78 455.82,146.84 456.00,146.91 456.19,146.98 456.37,147.05 456.55,147.10 456.74,147.12 456.92,147.13 457.11,147.11 457.29,147.08 457.48,147.05 457.66,147.01 457.84,146.98 458.03,146.96 458.21,146.94 458.40,146.93 458.58,146.91 458.76,146.89 458.95,146.88 459.13,146.86 459.32,146.84 459.50,146.82 459.68,146.81 459.87,146.79 460.05,146.77 460.24,146.75 460.42,146.73 460.61,146.69 460.79,146.66 460.97,146.62 461.16,146.60 461.34,146.59 461.53,146.60 461.71,146.64 461.89,146.70 462.08,146.77 462.26,146.85 462.45,146.92 462.63,146.97 462.82,146.99 463.00,146.98 463.18,146.94 463.37,146.87 463.55,146.78 463.74,146.68 463.92,146.58 464.10,146.50 464.29,146.44 464.47,146.41 464.66,146.40 464.84,146.42 465.02,146.46 465.21,146.51 465.39,146.57 465.58,146.62 465.76,146.66 465.95,146.69 466.13,146.70 466.31,146.69 466.50,146.65 466.68,146.60 466.87,146.53 467.05,146.46 467.23,146.38 467.42,146.31 467.60,146.25 467.79,146.20 467.97,146.18 468.16,146.17 468.34,146.18 468.52,146.21 468.71,146.27 468.89,146.34 469.08,146.42 469.26,146.51 469.44,146.59 469.63,146.66 469.81,146.71 470.00,146.74 470.18,146.76 470.36,146.77 470.55,146.77 470.73,146.76 470.92,146.75 471.10,146.72 471.29,146.69 471.47,146.65 471.65,146.59 471.84,146.54 472.02,146.48 472.21,146.43 472.39,146.39 472.57,146.37 472.76,146.37 472.94,146.38 473.13,146.39 473.31,146.41 473.49,146.43 473.68,146.43 473.86,146.43 474.05,146.41 474.23,146.39 474.42,146.37 474.60,146.35 474.78,146.33 474.97,146.33 475.15,146.35 475.34,146.38 475.52,146.41 475.70,146.45 475.89,146.47 476.07,146.48 476.26,146.48 476.44,146.45 476.63,146.41 476.81,146.38 476.99,146.36 477.18,146.35 477.36,146.36 477.55,146.40 477.73,146.45 477.91,146.51 478.10,146.57 478.28,146.62 478.47,146.67 478.65,146.72 478.83,146.76 479.02,146.81 479.20,146.85 479.39,146.90 479.57,146.94 479.76,146.97 479.94,146.99 480.12,146.98 480.31,146.95 480.49,146.91 480.68,146.85 480.86,146.79 481.04,146.74 481.23,146.70 481.41,146.68 481.60,146.67 481.78,146.68 481.96,146.69 482.15,146.71 482.33,146.73 482.52,146.75 482.70,146.76 482.89,146.77 483.07,146.78 483.25,146.79 483.44,146.82 483.62,146.86 483.81,146.90 483.99,146.96 484.17,147.01 484.36,147.05 484.54,147.07 484.73,147.06 484.91,147.01 485.10,146.93 485.28,146.82 485.46,146.72 485.65,146.61 485.83,146.52 486.02,146.46 486.20,146.42 486.38,146.42 486.57,146.45 486.75,146.51 486.94,146.58 487.12,146.67 487.30,146.77 487.49,146.88 487.67,146.98 487.86,147.09 488.04,147.18 488.23,147.27 488.41,147.35 488.59,147.41 488.78,147.44 488.96,147.46 489.15,147.45 489.33,147.42 489.51,147.39 489.70,147.35 489.88,147.31 490.07,147.27 490.25,147.22 490.43,147.16 490.62,147.09 490.80,147.00 490.99,146.90 491.17,146.81 491.36,146.73 491.54,146.68 491.72,146.65 491.91,146.66 492.09,146.68 492.28,146.73 492.46,146.78 492.64,146.82 492.83,146.86 493.01,146.89 493.20,146.91 493.38,146.94 493.57,146.96 493.75,146.99 493.93,147.01 494.12,147.02 494.30,147.02 494.49,147.00 494.67,146.97 494.85,146.94 495.04,146.91 495.22,146.88 495.41,146.87 495.59,146.87 495.77,146.87 495.96,146.88 496.14,146.89 496.33,146.90 496.51,146.90 496.70,146.91 496.88,146.90 497.06,146.90 497.25,146.89 497.43,146.88 497.62,146.89 497.80,146.91 497.98,146.95 498.17,147.01 498.35,147.08 498.54,147.15 498.72,147.22 498.91,147.26 499.09,147.28 499.27,147.26 499.46,147.22 499.64,147.16 499.83,147.08 500.01,147.01 500.19,146.95 500.38,146.89 500.56,146.85 500.75,146.82 500.93,146.79 501.11,146.78 501.30,146.78 501.48,146.78 501.67,146.78 501.85,146.78 502.04,146.77 502.22,146.75 502.40,146.73 502.59,146.69 502.77,146.65 502.96,146.62 503.14,146.59 503.32,146.58 503.51,146.59 503.69,146.61 503.88,146.66 504.06,146.71 504.24,146.78 504.43,146.84 504.61,146.89 504.80,146.93 504.98,146.95 505.17,146.96 505.35,146.95 505.53,146.93 505.72,146.91 505.90,146.89 506.09,146.88 506.27,146.88 506.45,146.89 506.64,146.93 506.82,146.97 507.01,147.01 507.19,147.05 507.38,147.09 507.56,147.13 507.74,147.16 507.93,147.18 508.11,147.21 508.30,147.24 508.48,147.26 508.66,147.28 508.85,147.30 509.03,147.30 509.22,147.28 509.40,147.25 509.58,147.21 509.77,147.17 509.95,147.12 510.14,147.09 510.32,147.06 510.51,147.04 510.69,147.04 510.87,147.05 511.06,147.07 511.24,147.09 511.43,147.10 511.61,147.10 511.79,147.09 511.98,147.07 512.16,147.05 512.35,147.03 512.53,147.02 512.71,147.02 512.90,147.05 513.08,147.09 513.27,147.13 513.45,147.18 513.64,147.22 513.82,147.26 514.00,147.30 514.19,147.33 514.37,147.37 514.56,147.41 514.74,147.46 514.92,147.49 515.11,147.52 515.29,147.53 515.48,147.52 515.66,147.50 515.85,147.45 516.03,147.40 516.21,147.33 516.40,147.26 516.58,147.20 516.77,147.14 516.95,147.09 517.13,147.07 517.32,147.07 517.50,147.09 517.69,147.13 517.87,147.20 518.05,147.27 518.24,147.34 518.42,147.41 518.61,147.47 518.79,147.52 518.98,147.57 519.16,147.60 519.34,147.63 519.53,147.65 519.71,147.66 519.90,147.66 520.08,147.64 520.26,147.62 520.45,147.59 520.63,147.56 520.82,147.53 521.00,147.52 521.18,147.52 521.37,147.53 521.55,147.56 521.74,147.61 521.92,147.66 522.11,147.72 522.29,147.77 522.47,147.80 522.66,147.80 522.84,147.77 523.03,147.71 523.21,147.63 523.39,147.55 523.58,147.46 523.76,147.39 523.95,147.35 524.13,147.35 524.32,147.37 524.50,147.42 524.68,147.50 524.87,147.58 525.05,147.67 525.24,147.74 525.42,147.80 525.60,147.84 525.79,147.85 525.97,147.85 526.16,147.82 526.34,147.78 526.52,147.73 526.71,147.65 526.89,147.57 527.08,147.49 527.26,147.40 527.45,147.31 527.63,147.23 527.81,147.16 528.00,147.11 528.18,147.09 528.37,147.08 528.55,147.10 528.73,147.14 528.92,147.21 529.10,147.29 529.29,147.40 529.47,147.52 529.65,147.66 529.84,147.80 530.02,147.94 530.21,148.07 530.39,148.19 530.58,148.27 530.76,148.33 530.94,148.35 531.13,148.36 531.31,148.35 531.50,148.32 531.68,148.28 531.86,148.22 532.05,148.15 532.23,148.07 532.42,147.97 532.60,147.87 532.79,147.78 532.97,147.69 533.15,147.62 533.34,147.58 533.52,147.55 533.71,147.54 533.89,147.54 534.07,147.53 534.26,147.51 534.44,147.47 534.63,147.42 534.81,147.36 534.99,147.30 535.18,147.25 535.36,147.20 535.55,147.17 535.73,147.15 535.92,147.14 536.10,147.13 536.28,147.12 536.47,147.09 536.65,147.05 536.84,146.99 537.02,146.92 537.20,146.84 537.39,146.75 537.57,146.66 537.76,146.59 537.94,146.52 538.13,146.46 538.31,146.41 538.49,146.35 538.68,146.28 538.86,146.20 539.05,146.10 539.23,145.98 539.41,145.85 539.60,145.71 539.78,145.56 539.97,145.41 540.15,145.27 540.33,145.13 540.52,145.00 540.70,144.88 540.89,144.77 541.07,144.66 541.26,144.56 541.44,144.45 541.62,144.34 541.81,144.21 541.99,144.07 542.18,143.92 542.36,143.75 542.54,143.57 542.73,143.39 542.91,143.19 543.10,143.00 543.28,142.81 543.46,142.62 543.65,142.43 543.83,142.25 544.02,142.07 544.20,141.89 544.39,141.71 544.57,141.53 544.75,141.36 544.94,141.18 545.12,140.99 545.31,140.81 545.49,140.62 545.67,140.42 545.86,140.22 546.04,140.01 546.23,139.79 546.41,139.56 546.60,139.33 546.78,139.09 546.96,138.84 547.15,138.59 547.33,138.34 547.52,138.08 547.70,137.82 547.88,137.57 548.07,137.31 548.25,137.05 548.44,136.80 548.62,136.55 548.80,136.30 548.99,136.06 549.17,135.82 549.36,135.58 549.54,135.34 549.73,135.10 549.91,134.85 550.09,134.59 550.28,134.33 550.46,134.07 550.65,133.79 550.83,133.52 551.01,133.23 551.20,132.95 551.38,132.66 551.57,132.36 551.75,132.06 551.93,131.76 552.12,131.46 552.30,131.15 552.49,130.85 552.67,130.54 552.86,130.24 553.04,129.93 553.22,129.61 553.41,129.29 553.59,128.96 553.78,128.63 553.96,128.28 554.14,127.92 554.33,127.55 554.51,127.17 554.70,126.79 554.88,126.40 555.07,126.02 555.25,125.63 555.43,125.24 555.62,124.86 555.80,124.49 555.99,124.12 556.17,123.76 556.35,123.41 556.54,123.07 556.72,122.73 556.91,122.40 557.09,122.08 557.27,121.76 557.46,121.46 557.64,121.16 557.83,120.87 558.01,120.60 558.20,120.35 558.38,120.11 558.56,119.88 558.75,119.66 558.93,119.45 559.12,119.24 559.30,119.02 559.48,118.81 559.67,118.59 559.85,118.37 560.04,118.15 560.22,117.93 560.40,117.73 560.59,117.53 560.77,117.34 560.96,117.17 561.14,117.00 561.33,116.84 561.51,116.68 561.69,116.52 561.88,116.37 562.06,116.22 562.25,116.07 562.43,115.92 562.61,115.78 562.80,115.64 562.98,115.51 563.17,115.38 563.35,115.25 563.54,115.12 563.72,114.99 563.90,114.85 564.09,114.72 564.27,114.57 564.46,114.43 564.64,114.30 564.82,114.17 565.01,114.05 565.19,113.95 565.38,113.86 565.56,113.78 565.74,113.70 565.93,113.62 566.11,113.53 566.30,113.44 566.48,113.35 566.67,113.25 566.85,113.14 567.03,113.04 567.22,112.95 567.40,112.85 567.59,112.77 567.77,112.69 567.95,112.61 568.14,112.54 568.32,112.46 568.51,112.38 568.69,112.29 568.87,112.19 569.06,112.08 569.24,111.95 569.43,111.82 569.61,111.69 569.80,111.58 569.98,111.48 570.16,111.41 570.35,111.37 570.53,111.35 570.72,111.35 570.90,111.37 571.08,111.39 571.27,111.42 571.45,111.43 571.64,111.43 571.82,111.42 572.01,111.39 572.19,111.35 572.37,111.29 572.56,111.22 572.74,111.14 572.93,111.04 573.11,110.94 573.29,110.83 573.48,110.71 573.66,110.60 573.85,110.49 574.03,110.40 574.21,110.31 574.40,110.25 574.58,110.20 574.77,110.16 574.95,110.14 575.14,110.14 575.32,110.13 575.50,110.13 575.69,110.12 575.87,110.11 576.06,110.09 576.24,110.07 576.42,110.04 576.61,110.02 576.79,110.00 576.98,110.00 577.16,109.99 577.35,109.98 577.53,109.96 577.71,109.91 577.90,109.84 578.08,109.75 578.27,109.63 578.45,109.51 578.63,109.40 578.82,109.31 579.00,109.26 579.19,109.24 579.37,109.25 579.55,109.29 579.74,109.34 579.92,109.40 580.11,109.46 580.29,109.51 580.48,109.57 580.66,109.62 580.84,109.69 581.03,109.77 581.21,109.86 581.40,109.97 581.58,110.08 581.76,110.19 581.95,110.29 582.13,110.36 582.32,110.40 582.50,110.41 582.68,110.37 582.87,110.30 583.05,110.19 583.24,110.07 583.42,109.94 583.61,109.81 583.79,109.70 583.97,109.62 584.16,109.57 584.34,109.56 584.53,109.58 584.71,109.61 584.89,109.66 585.08,109.70 585.26,109.73 585.45,109.75 585.63,109.74 585.82,109.72 586.00,109.69 586.18,109.65 586.37,109.61 586.55,109.57 586.74,109.53 586.92,109.49 587.10,109.47 587.29,109.46 587.47,109.46 587.66,109.49 587.84,109.53 588.02,109.59 588.21,109.65 588.39,109.72 588.58,109.77 588.76,109.81 588.95,109.83 589.13,109.84 589.31,109.84 589.50,109.83 589.68,109.83 589.87,109.85 590.05,109.89 590.23,109.95 590.42,110.02 590.60,110.10 590.79,110.19 590.97,110.27 591.15,110.34 591.34,110.39 591.52,110.40 591.71,110.37 591.89,110.31 592.08,110.22 592.26,110.13 592.44,110.04 592.63,109.98 592.81,109.96 593.00,109.98 593.18,110.04 593.36,110.12 593.55,110.22 593.73,110.31 593.92,110.40 594.10,110.49 594.29,110.56 594.47,110.63 594.65,110.68 594.84,110.73 595.02,110.76 595.21,110.76 595.39,110.76 595.57,110.73 595.76,110.71 595.94,110.68 596.13,110.66 596.31,110.66 596.49,110.67 596.68,110.69 596.86,110.71 597.05,110.72 597.23,110.73 597.42,110.72 597.60,110.71 597.78,110.68 597.97,110.64 598.15,110.60 598.34,110.55 598.52,110.50 598.70,110.44 598.89,110.38 599.07,110.32 599.26,110.27 599.44,110.21 599.62,110.17 599.81,110.14 599.99,110.12 600.18,110.13 600.36,110.16 600.55,110.21 600.73,110.27 600.91,110.35 601.10,110.41 601.28,110.47 601.47,110.52 601.65,110.56 601.83,110.60 602.02,110.64 602.20,110.70 602.39,110.78 602.57,110.86 602.76,110.96 602.94,111.05 603.12,111.13 603.31,111.21 603.49,111.27 603.68,111.31 603.86,111.33 604.04,111.33 604.23,111.31 604.41,111.26 604.60,111.20 604.78,111.13 604.96,111.05 605.15,110.97 605.33,110.90 605.52,110.84 605.70,110.80 605.89,110.78 606.07,110.78 606.25,110.81 606.44,110.86 606.62,110.93 606.81,111.02 606.99,111.11 607.17,111.21 607.36,111.29 607.54,111.36 607.73,111.41 607.91,111.44 608.09,111.43 608.28,111.40 608.46,111.35 608.65,111.28 608.83,111.21 609.02,111.13 609.20,111.05 609.38,110.99 609.57,110.94 609.75,110.92 609.94,110.92 610.12,110.95 610.30,111.00 610.49,111.07 610.67,111.14 610.86,111.22 611.04,111.28 611.23,111.35 611.41,111.40 611.59,111.46 611.78,111.51 611.96,111.56 612.15,111.61 612.33,111.65 612.51,111.68 612.70,111.69 612.88,111.68 613.07,111.65 613.25,111.60 613.43,111.55 613.62,111.49 613.80,111.43 613.99,111.37 614.17,111.32 614.36,111.26 614.54,111.20 614.72,111.15 614.91,111.10 615.09,111.07 615.28,111.06 615.46,111.08 615.64,111.11 615.83,111.15 616.01,111.20 616.20,111.23 616.38,111.25 616.57,111.26 616.75,111.25 616.93,111.22 617.12,111.20 617.30,111.19 617.49,111.19 617.67,111.21 617.85,111.24 618.04,111.28 618.22,111.32 618.41,111.37 618.59,111.42 618.77,111.48 618.96,111.56 619.14,111.64 619.33,111.73 619.51,111.82 619.70,111.91 619.88,111.99 620.06,112.06 620.25,112.13 620.43,112.19 620.62,112.25 620.80,112.29 620.98,112.32 621.17,112.34 621.35,112.34 621.54,112.32 621.72,112.30 621.90,112.27 622.09,112.26 622.27,112.25 622.46,112.26 622.64,112.27 622.83,112.29 623.01,112.32 623.19,112.35 623.38,112.37 623.56,112.39 623.75,112.42 623.93,112.44 624.11,112.45 624.30,112.47 624.48,112.49 624.67,112.50 624.85,112.51 625.04,112.52 625.22,112.53 625.40,112.52 625.59,112.51 625.77,112.48 625.96,112.44 626.14,112.40 626.32,112.36 626.51,112.32 626.69,112.29 626.88,112.28 627.06,112.28 627.24,112.29 627.43,112.30 627.61,112.32 627.80,112.34 627.98,112.36 628.17,112.40 628.35,112.44 628.53,112.49 628.72,112.54 628.90,112.61 629.09,112.67 629.27,112.73 629.45,112.78 629.64,112.81 629.82,112.83 630.01,112.84 630.19,112.84 630.37,112.83 630.56,112.83 630.74,112.82 630.93,112.81 631.11,112.80 631.30,112.77 631.48,112.73 631.66,112.69 631.85,112.65 632.03,112.62 632.22,112.61 632.40,112.64 632.58,112.70 632.77,112.80 632.95,112.93 633.14,113.07 633.32,113.20 633.51,113.31 633.69,113.37 633.87,113.38 634.06,113.34 634.24,113.26 634.43,113.15 634.61,113.02 634.79,112.89 634.98,112.76 635.16,112.64 635.35,112.54 635.53,112.45 635.71,112.36 635.90,112.27 636.08,112.19 636.27,112.12 636.45,112.05 636.64,111.99 636.82,111.94 637.00,111.91 637.19,111.90 637.37,111.91 637.56,111.95 637.74,112.00 637.92,112.08 638.11,112.15 638.29,112.23 638.48,112.28 638.66,112.30 638.84,112.29 639.03,112.24 639.21,112.16 639.40,112.07 639.58,111.98 639.77,111.90 639.95,111.85 640.13,111.83 640.32,111.84 640.50,111.87 640.69,111.91 640.87,111.96 641.05,112.00 641.24,112.03 641.42,112.04 641.61,112.04 641.79,112.04 641.98,112.04 642.16,112.04 642.34,112.07 642.53,112.12 642.71,112.19 642.90,112.26 643.08,112.33 643.26,112.39 643.45,112.43 643.63,112.46 643.82,112.46 644.00,112.46 644.18,112.44 644.37,112.41 644.55,112.38 644.74,112.35 644.92,112.33 645.11,112.30 645.29,112.27 645.47,112.24 645.66,112.21 645.84,112.19 646.03,112.17 646.21,112.16 646.39,112.15 646.58,112.14 646.76,112.15 646.95,112.15 647.13,112.15 647.32,112.16 647.50,112.16 647.68,112.17 647.87,112.16 648.05,112.16 648.24,112.14 648.42,112.12 648.60,112.08 648.79,112.03 648.97,111.96 649.16,111.89 649.34,111.81 649.52,111.73 649.71,111.65 649.89,111.57 650.08,111.51 650.26,111.45 650.45,111.41 650.63,111.39 650.81,111.38 651.00,111.40 651.18,111.45 651.37,111.52 651.55,111.61 651.73,111.71 651.92,111.81 652.10,111.90 652.29,111.97 652.47,112.02 652.65,112.04 652.84,112.03 653.02,112.01 653.21,111.98 653.39,111.94 653.58,111.89 653.76,111.84 653.94,111.79 654.13,111.75 654.31,111.71 654.50,111.67 654.68,111.65 654.86,111.64 655.05,111.64 655.23,111.64 655.42,111.64 655.60,111.63 655.79,111.63 655.97,111.61 656.15,111.61 656.34,111.60 656.52,111.60 656.71,111.61 656.89,111.62 657.07,111.64 657.26,111.66 657.44,111.67 657.63,111.68 657.81,111.68 657.99,111.68 658.18,111.68 658.36,111.69 658.55,111.70 658.73,111.74 658.92,111.79 659.10,111.85 659.28,111.92 659.47,111.99 659.65,112.06 659.84,112.13 660.02,112.18 660.20,112.22 660.39,112.23 660.57,112.22 660.76,112.17 660.94,112.10 661.12,112.00 661.31,111.90 661.49,111.80 661.68,111.71 661.86,111.65 662.05,111.62 662.23,111.60 662.41,111.62 662.60,111.65 662.78,111.71 662.97,111.78 663.15,111.85 663.33,111.92 663.52,111.97 663.70,112.00 663.89,111.99 664.07,111.94 664.26,111.86 664.44,111.77 664.62,111.67 664.81,111.56 664.99,111.47 665.18,111.39 665.36,111.32 665.54,111.26 665.73,111.21 665.91,111.17 666.10,111.13 666.28,111.12 666.46,111.11 666.65,111.12 666.83,111.13 667.02,111.16 667.20,111.18 667.39,111.21 667.57,111.23 667.75,111.25 667.94,111.27 668.12,111.30 668.31,111.32 668.49,111.35 668.67,111.39 668.86,111.42 669.04,111.44 669.23,111.45 669.41,111.44 669.59,111.41 669.78,111.38 669.96,111.34 670.15,111.30 670.33,111.28 670.52,111.26 670.70,111.27 670.88,111.28 671.07,111.31 671.25,111.35 671.44,111.39 671.62,111.45 671.80,111.50 671.99,111.56 672.17,111.62 672.36,111.66 672.54,111.70 672.73,111.73 672.91,111.74 673.09,111.74 673.28,111.74 673.46,111.73 673.65,111.72 673.83,111.71 674.01,111.70 674.20,111.70 674.38,111.70 674.57,111.70 674.75,111.71 674.93,111.72 675.12,111.74 675.30,111.74 675.49,111.75 675.67,111.74 675.86,111.72 676.04,111.69 676.22,111.66 676.41,111.63 676.59,111.61 676.78,111.59 676.96,111.58 677.14,111.57 677.33,111.56 677.51,111.55 677.70,111.55 677.88,111.55 678.06,111.54 678.25,111.54 678.43,111.52 678.62,111.50 678.80,111.46 678.99,111.41 679.17,111.34 679.35,111.26 679.54,111.20 679.72,111.14 679.91,111.12 680.09,111.13 680.27,111.19 680.46,111.27 680.64,111.37 680.83,111.49 681.01,111.61 681.20,111.71 681.38,111.77 681.56,111.80 681.75,111.79 681.93,111.75 682.12,111.69 682.30,111.62" fill="none" stroke="#b28c2a" stroke-width="1.0" stroke-linejoin="round" opacity="1"/>
<polyline points="424.70,146.35 424.88,146.36 425.07,146.37 425.25,146.38 425.44,146.39 425.62,146.40 425.80,146.41 425.99,146.41 426.17,146.41 426.36,146.39 426.54,146.36 426.73,146.33 426.91,146.30 427.09,146.28 427.28,146.27 427.46,146.29 427.65,146.32 427.83,146.37 428.01,146.43 428.20,146.48 428.38,146.52 428.57,146.55 428.75,146.57 428.94,146.56 429.12,146.55 429.30,146.54 429.49,146.53 429.67,146.52 429.86,146.52 430.04,146.53 430.22,146.55 430.41,146.57 430.59,146.60 430.78,146.63 430.96,146.66 431.14,146.68 431.33,146.70 431.51,146.70 431.70,146.70 431.88,146.68 432.07,146.64 432.25,146.59 432.43,146.51 432.62,146.44 432.80,146.37 432.99,146.31 433.17,146.27 433.35,146.25 433.54,146.25 433.72,146.26 433.91,146.27 434.09,146.29 434.27,146.29 434.46,146.29 434.64,146.28 434.83,146.27 435.01,146.27 435.20,146.28 435.38,146.30 435.56,146.33 435.75,146.37 435.93,146.41 436.12,146.45 436.30,146.47 436.48,146.49 436.67,146.49 436.85,146.48 437.04,146.48 437.22,146.49 437.41,146.51 437.59,146.57 437.77,146.64 437.96,146.73 438.14,146.83 438.33,146.92 438.51,147.00 438.69,147.05 438.88,147.08 439.06,147.09 439.25,147.08 439.43,147.06 439.61,147.03 439.80,147.01 439.98,147.00 440.17,146.99 440.35,147.00 440.54,147.01 440.72,147.02 440.90,147.03 441.09,147.03 441.27,147.03 441.46,147.01 441.64,146.99 441.82,146.94 442.01,146.89 442.19,146.81 442.38,146.73 442.56,146.65 442.74,146.57 442.93,146.52 443.11,146.51 443.30,146.53 443.48,146.59 443.67,146.67 443.85,146.76 444.03,146.83 444.22,146.87 444.40,146.88 444.59,146.85 444.77,146.78 444.95,146.69 445.14,146.59 445.32,146.48 445.51,146.37 445.69,146.27 445.88,146.19 446.06,146.12 446.24,146.07 446.43,146.03 446.61,146.02 446.80,146.02 446.98,146.03 447.16,146.05 447.35,146.08 447.53,146.13 447.72,146.18 447.90,146.25 448.08,146.32 448.27,146.41 448.45,146.50 448.64,146.58 448.82,146.65 449.01,146.70 449.19,146.72 449.37,146.71 449.56,146.67 449.74,146.63 449.93,146.57 450.11,146.53 450.29,146.50 450.48,146.50 450.66,146.52 450.85,146.55 451.03,146.59 451.21,146.64 451.40,146.69 451.58,146.74 451.77,146.80 451.95,146.85 452.14,146.91 452.32,146.98 452.50,147.03 452.69,147.06 452.87,147.09 453.06,147.10 453.24,147.09 453.42,147.09 453.61,147.08 453.79,147.07 453.98,147.07 454.16,147.06 454.35,147.04 454.53,147.01 454.71,146.96 454.90,146.90 455.08,146.82 455.27,146.74 455.45,146.65 455.63,146.56 455.82,146.48 456.00,146.41 456.19,146.34 456.37,146.28 456.55,146.23 456.74,146.19 456.92,146.16 457.11,146.14 457.29,146.13 457.48,146.13 457.66,146.15 457.84,146.19 458.03,146.24 458.21,146.32 458.40,146.41 458.58,146.52 458.76,146.64 458.95,146.76 459.13,146.87 459.32,146.97 459.50,147.04 459.68,147.08 459.87,147.08 460.05,147.05 460.24,146.99 460.42,146.92 460.61,146.84 460.79,146.77 460.97,146.70 461.16,146.66 461.34,146.63 461.53,146.61 461.71,146.60 461.89,146.60 462.08,146.59 462.26,146.59 462.45,146.58 462.63,146.56 462.82,146.54 463.00,146.51 463.18,146.48 463.37,146.45 463.55,146.43 463.74,146.42 463.92,146.44 464.10,146.47 464.29,146.52 464.47,146.58 464.66,146.65 464.84,146.71 465.02,146.75 465.21,146.78 465.39,146.80 465.58,146.80 465.76,146.79 465.95,146.77 466.13,146.75 466.31,146.71 466.50,146.68 466.68,146.65 466.87,146.63 467.05,146.61 467.23,146.61 467.42,146.61 467.60,146.62 467.79,146.63 467.97,146.63 468.16,146.64 468.34,146.63 468.52,146.62 468.71,146.62 468.89,146.63 469.08,146.65 469.26,146.69 469.44,146.74 469.63,146.81 469.81,146.87 470.00,146.92 470.18,146.95 470.36,146.96 470.55,146.95 470.73,146.91 470.92,146.87 471.10,146.82 471.29,146.77 471.47,146.73 471.65,146.70 471.84,146.67 472.02,146.64 472.21,146.62 472.39,146.61 472.57,146.60 472.76,146.59 472.94,146.60 473.13,146.62 473.31,146.66 473.49,146.69 473.68,146.73 473.86,146.77 474.05,146.80 474.23,146.83 474.42,146.85 474.60,146.87 474.78,146.87 474.97,146.88 475.15,146.87 475.34,146.86 475.52,146.84 475.70,146.82 475.89,146.79 476.07,146.75 476.26,146.72 476.44,146.69 476.63,146.67 476.81,146.65 476.99,146.65 477.18,146.65 477.36,146.66 477.55,146.68 477.73,146.69 477.91,146.70 478.10,146.69 478.28,146.68 478.47,146.65 478.65,146.62 478.83,146.58 479.02,146.55 479.20,146.52 479.39,146.50 479.57,146.49 479.76,146.48 479.94,146.48 480.12,146.48 480.31,146.48 480.49,146.49 480.68,146.52 480.86,146.56 481.04,146.62 481.23,146.69 481.41,146.77 481.60,146.85 481.78,146.93 481.96,147.00 482.15,147.07 482.33,147.13 482.52,147.18 482.70,147.23 482.89,147.27 483.07,147.30 483.25,147.32 483.44,147.33 483.62,147.32 483.81,147.30 483.99,147.28 484.17,147.26 484.36,147.25 484.54,147.25 484.73,147.26 484.91,147.29 485.10,147.32 485.28,147.35 485.46,147.37 485.65,147.38 485.83,147.38 486.02,147.37 486.20,147.35 486.38,147.32 486.57,147.29 486.75,147.26 486.94,147.22 487.12,147.16 487.30,147.10 487.49,147.03 487.67,146.97 487.86,146.90 488.04,146.86 488.23,146.85 488.41,146.87 488.59,146.93 488.78,147.02 488.96,147.12 489.15,147.21 489.33,147.28 489.51,147.32 489.70,147.31 489.88,147.27 490.07,147.20 490.25,147.13 490.43,147.07 490.62,147.04 490.80,147.02 490.99,147.03 491.17,147.06 491.36,147.10 491.54,147.13 491.72,147.16 491.91,147.17 492.09,147.18 492.28,147.17 492.46,147.16 492.64,147.14 492.83,147.12 493.01,147.10 493.20,147.09 493.38,147.09 493.57,147.09 493.75,147.08 493.93,147.07 494.12,147.04 494.30,147.00 494.49,146.94 494.67,146.89 494.85,146.84 495.04,146.81 495.22,146.80 495.41,146.82 495.59,146.87 495.77,146.93 495.96,146.99 496.14,147.04 496.33,147.08 496.51,147.09 496.70,147.08 496.88,147.06 497.06,147.04 497.25,147.02 497.43,147.03 497.62,147.05 497.80,147.08 497.98,147.12 498.17,147.15 498.35,147.16 498.54,147.15 498.72,147.12 498.91,147.07 499.09,147.01 499.27,146.95 499.46,146.90 499.64,146.87 499.83,146.85 500.01,146.86 500.19,146.89 500.38,146.95 500.56,147.02 500.75,147.10 500.93,147.18 501.11,147.25 501.30,147.32 501.48,147.37 501.67,147.42 501.85,147.47 502.04,147.52 502.22,147.56 502.40,147.60 502.59,147.63 502.77,147.63 502.96,147.61 503.14,147.56 503.32,147.49 503.51,147.41 503.69,147.31 503.88,147.22 504.06,147.15 504.24,147.10 504.43,147.07 504.61,147.08 504.80,147.11 504.98,147.16 505.17,147.21 505.35,147.27 505.53,147.31 505.72,147.33 505.90,147.33 506.09,147.29 506.27,147.23 506.45,147.16 506.64,147.08 506.82,147.00 507.01,146.94 507.19,146.89 507.38,146.86 507.56,146.85 507.74,146.85 507.93,146.86 508.11,146.87 508.30,146.87 508.48,146.87 508.66,146.86 508.85,146.84 509.03,146.82 509.22,146.79 509.40,146.75 509.58,146.72 509.77,146.69 509.95,146.67 510.14,146.66 510.32,146.67 510.51,146.70 510.69,146.74 510.87,146.79 511.06,146.85 511.24,146.93 511.43,147.01 511.61,147.09 511.79,147.17 511.98,147.25 512.16,147.33 512.35,147.40 512.53,147.46 512.71,147.49 512.90,147.49 513.08,147.47 513.27,147.42 513.45,147.34 513.64,147.26 513.82,147.17 514.00,147.10 514.19,147.04 514.37,147.01 514.56,146.99 514.74,147.00 514.92,147.03 515.11,147.06 515.29,147.11 515.48,147.16 515.66,147.23 515.85,147.30 516.03,147.38 516.21,147.46 516.40,147.55 516.58,147.64 516.77,147.72 516.95,147.78 517.13,147.82 517.32,147.84 517.50,147.83 517.69,147.81 517.87,147.77 518.05,147.73 518.24,147.70 518.42,147.67 518.61,147.67 518.79,147.69 518.98,147.72 519.16,147.78 519.34,147.85 519.53,147.92 519.71,147.97 519.90,148.01 520.08,148.02 520.26,148.00 520.45,147.95 520.63,147.88 520.82,147.80 521.00,147.72 521.18,147.66 521.37,147.61 521.55,147.58 521.74,147.56 521.92,147.55 522.11,147.52 522.29,147.48 522.47,147.43 522.66,147.37 522.84,147.29 523.03,147.21 523.21,147.12 523.39,147.04 523.58,146.97 523.76,146.91 523.95,146.86 524.13,146.85 524.32,146.85 524.50,146.88 524.68,146.92 524.87,146.98 525.05,147.03 525.24,147.09 525.42,147.14 525.60,147.18 525.79,147.22 525.97,147.25 526.16,147.28 526.34,147.32 526.52,147.35 526.71,147.40 526.89,147.45 527.08,147.50 527.26,147.54 527.45,147.58 527.63,147.60 527.81,147.61 528.00,147.60 528.18,147.59 528.37,147.58 528.55,147.58 528.73,147.59 528.92,147.61 529.10,147.66 529.29,147.71 529.47,147.77 529.65,147.82 529.84,147.86 530.02,147.89 530.21,147.92 530.39,147.93 530.58,147.94 530.76,147.95 530.94,147.96 531.13,147.97 531.31,147.98 531.50,147.98 531.68,147.98 531.86,147.97 532.05,147.97 532.23,147.97 532.42,147.97 532.60,147.97 532.79,147.97 532.97,147.96 533.15,147.95 533.34,147.92 533.52,147.89 533.71,147.86 533.89,147.82 534.07,147.79 534.26,147.75 534.44,147.71 534.63,147.67 534.81,147.61 534.99,147.55 535.18,147.47 535.36,147.39 535.55,147.30 535.73,147.21 535.92,147.13 536.10,147.05 536.28,146.98 536.47,146.91 536.65,146.85 536.84,146.79 537.02,146.73 537.20,146.66 537.39,146.59 537.57,146.50 537.76,146.40 537.94,146.29 538.13,146.18 538.31,146.06 538.49,145.94 538.68,145.83 538.86,145.72 539.05,145.62 539.23,145.52 539.41,145.42 539.60,145.32 539.78,145.21 539.97,145.09 540.15,144.95 540.33,144.80 540.52,144.64 540.70,144.47 540.89,144.29 541.07,144.10 541.26,143.91 541.44,143.72 541.62,143.53 541.81,143.33 541.99,143.14 542.18,142.95 542.36,142.77 542.54,142.59 542.73,142.42 542.91,142.26 543.10,142.10 543.28,141.94 543.46,141.78 543.65,141.62 543.83,141.47 544.02,141.31 544.20,141.16 544.39,141.00 544.57,140.85 544.75,140.69 544.94,140.53 545.12,140.37 545.31,140.19 545.49,140.01 545.67,139.82 545.86,139.63 546.04,139.43 546.23,139.22 546.41,139.00 546.60,138.78 546.78,138.55 546.96,138.31 547.15,138.07 547.33,137.83 547.52,137.58 547.70,137.34 547.88,137.10 548.07,136.86 548.25,136.62 548.44,136.37 548.62,136.13 548.80,135.89 548.99,135.65 549.17,135.40 549.36,135.16 549.54,134.92 549.73,134.69 549.91,134.44 550.09,134.20 550.28,133.95 550.46,133.69 550.65,133.43 550.83,133.17 551.01,132.91 551.20,132.66 551.38,132.41 551.57,132.16 551.75,131.91 551.93,131.67 552.12,131.42 552.30,131.16 552.49,130.91 552.67,130.64 552.86,130.36 553.04,130.08 553.22,129.79 553.41,129.48 553.59,129.16 553.78,128.84 553.96,128.50 554.14,128.15 554.33,127.79 554.51,127.42 554.70,127.04 554.88,126.67 555.07,126.29 555.25,125.92 555.43,125.55 555.62,125.18 555.80,124.82 555.99,124.46 556.17,124.11 556.35,123.76 556.54,123.42 556.72,123.09 556.91,122.77 557.09,122.46 557.27,122.16 557.46,121.87 557.64,121.60 557.83,121.33 558.01,121.07 558.20,120.82 558.38,120.59 558.56,120.36 558.75,120.15 558.93,119.95 559.12,119.75 559.30,119.56 559.48,119.37 559.67,119.18 559.85,118.99 560.04,118.79 560.22,118.60 560.40,118.42 560.59,118.24 560.77,118.07 560.96,117.90 561.14,117.75 561.33,117.59 561.51,117.44 561.69,117.29 561.88,117.13 562.06,116.97 562.25,116.81 562.43,116.63 562.61,116.46 562.80,116.28 562.98,116.10 563.17,115.92 563.35,115.76 563.54,115.61 563.72,115.47 563.90,115.35 564.09,115.24 564.27,115.14 564.46,115.04 564.64,114.95 564.82,114.86 565.01,114.77 565.19,114.69 565.38,114.61 565.56,114.52 565.74,114.44 565.93,114.35 566.11,114.25 566.30,114.14 566.48,114.03 566.67,113.91 566.85,113.79 567.03,113.67 567.22,113.54 567.40,113.42 567.59,113.29 567.77,113.16 567.95,113.04 568.14,112.91 568.32,112.79 568.51,112.68 568.69,112.56 568.87,112.45 569.06,112.34 569.24,112.24 569.43,112.14 569.61,112.05 569.80,111.96 569.98,111.87 570.16,111.79 570.35,111.71 570.53,111.64 570.72,111.56 570.90,111.49 571.08,111.41 571.27,111.34 571.45,111.26 571.64,111.19 571.82,111.12 572.01,111.06 572.19,111.00 572.37,110.94 572.56,110.89 572.74,110.84 572.93,110.79 573.11,110.73 573.29,110.66 573.48,110.59 573.66,110.50 573.85,110.40 574.03,110.31 574.21,110.23 574.40,110.15 574.58,110.10 574.77,110.07 574.95,110.06 575.14,110.06 575.32,110.07 575.50,110.09 575.69,110.11 575.87,110.13 576.06,110.14 576.24,110.14 576.42,110.13 576.61,110.10 576.79,110.04 576.98,109.97 577.16,109.89 577.35,109.80 577.53,109.73 577.71,109.68 577.90,109.66 578.08,109.67 578.27,109.70 578.45,109.75 578.63,109.81 578.82,109.86 579.00,109.90 579.19,109.92 579.37,109.92 579.55,109.91 579.74,109.88 579.92,109.84 580.11,109.79 580.29,109.73 580.48,109.66 580.66,109.58 580.84,109.50 581.03,109.41 581.21,109.33 581.40,109.25 581.58,109.18 581.76,109.13 581.95,109.08 582.13,109.06 582.32,109.05 582.50,109.06 582.68,109.09 582.87,109.16 583.05,109.25 583.24,109.37 583.42,109.49 583.61,109.62 583.79,109.72 583.97,109.80 584.16,109.85 584.34,109.86 584.53,109.83 584.71,109.78 584.89,109.72 585.08,109.65 585.26,109.59 585.45,109.55 585.63,109.52 585.82,109.51 586.00,109.51 586.18,109.52 586.37,109.53 586.55,109.55 586.74,109.57 586.92,109.59 587.10,109.61 587.29,109.64 587.47,109.68 587.66,109.72 587.84,109.76 588.02,109.80 588.21,109.84 588.39,109.86 588.58,109.87 588.76,109.87 588.95,109.85 589.13,109.82 589.31,109.78 589.50,109.74 589.68,109.70 589.87,109.67 590.05,109.65 590.23,109.65 590.42,109.68 590.60,109.72 590.79,109.79 590.97,109.86 591.15,109.94 591.34,110.01 591.52,110.06 591.71,110.09 591.89,110.09 592.08,110.07 592.26,110.04 592.44,110.01 592.63,109.98 592.81,109.96 593.00,109.96 593.18,109.96 593.36,109.96 593.55,109.97 593.73,109.98 593.92,109.99 594.10,109.99 594.29,110.00 594.47,110.02 594.65,110.04 594.84,110.07 595.02,110.10 595.21,110.14 595.39,110.18 595.57,110.22 595.76,110.25 595.94,110.29 596.13,110.33 596.31,110.35 596.49,110.38 596.68,110.39 596.86,110.40 597.05,110.39 597.23,110.37 597.42,110.35 597.60,110.33 597.78,110.30 597.97,110.28 598.15,110.26 598.34,110.24 598.52,110.24 598.70,110.23 598.89,110.24 599.07,110.24 599.26,110.26 599.44,110.29 599.62,110.34 599.81,110.40 599.99,110.46 600.18,110.53 600.36,110.60 600.55,110.66 600.73,110.71 600.91,110.75 601.10,110.78 601.28,110.78 601.47,110.78 601.65,110.76 601.83,110.73 602.02,110.69 602.20,110.65 602.39,110.62 602.57,110.60 602.76,110.60 602.94,110.60 603.12,110.62 603.31,110.65 603.49,110.68 603.68,110.70 603.86,110.71 604.04,110.71 604.23,110.69 604.41,110.67 604.60,110.65 604.78,110.63 604.96,110.64 605.15,110.67 605.33,110.72 605.52,110.79 605.70,110.87 605.89,110.95 606.07,111.02 606.25,111.07 606.44,111.10 606.62,111.12 606.81,111.14 606.99,111.16 607.17,111.18 607.36,111.22 607.54,111.25 607.73,111.29 607.91,111.31 608.09,111.31 608.28,111.29 608.46,111.25 608.65,111.19 608.83,111.13 609.02,111.08 609.20,111.04 609.38,111.04 609.57,111.06 609.75,111.11 609.94,111.19 610.12,111.29 610.30,111.40 610.49,111.51 610.67,111.62 610.86,111.71 611.04,111.78 611.23,111.83 611.41,111.84 611.59,111.82 611.78,111.78 611.96,111.72 612.15,111.65 612.33,111.59 612.51,111.54 612.70,111.52 612.88,111.53 613.07,111.56 613.25,111.60 613.43,111.66 613.62,111.71 613.80,111.75 613.99,111.78 614.17,111.79 614.36,111.80 614.54,111.80 614.72,111.81 614.91,111.83 615.09,111.85 615.28,111.88 615.46,111.91 615.64,111.93 615.83,111.95 616.01,111.94 616.20,111.93 616.38,111.89 616.57,111.86 616.75,111.81 616.93,111.77 617.12,111.73 617.30,111.69 617.49,111.66 617.67,111.63 617.85,111.61 618.04,111.59 618.22,111.59 618.41,111.61 618.59,111.66 618.77,111.74 618.96,111.84 619.14,111.96 619.33,112.08 619.51,112.19 619.70,112.27 619.88,112.33 620.06,112.35 620.25,112.34 620.43,112.30 620.62,112.26 620.80,112.23 620.98,112.20 621.17,112.18 621.35,112.18 621.54,112.18 621.72,112.19 621.90,112.19 622.09,112.19 622.27,112.20 622.46,112.22 622.64,112.26 622.83,112.32 623.01,112.40 623.19,112.49 623.38,112.59 623.56,112.69 623.75,112.80 623.93,112.89 624.11,112.97 624.30,113.03 624.48,113.07 624.67,113.10 624.85,113.11 625.04,113.11 625.22,113.09 625.40,113.06 625.59,113.01 625.77,112.95 625.96,112.87 626.14,112.78 626.32,112.68 626.51,112.57 626.69,112.47 626.88,112.39 627.06,112.32 627.24,112.28 627.43,112.26 627.61,112.27 627.80,112.29 627.98,112.32 628.17,112.35 628.35,112.38 628.53,112.41 628.72,112.45 628.90,112.49 629.09,112.55 629.27,112.62 629.45,112.71 629.64,112.81 629.82,112.91 630.01,113.01 630.19,113.09 630.37,113.16 630.56,113.21 630.74,113.24 630.93,113.25 631.11,113.25 631.30,113.24 631.48,113.23 631.66,113.22 631.85,113.21 632.03,113.21 632.22,113.20 632.40,113.19 632.58,113.18 632.77,113.18 632.95,113.17 633.14,113.17 633.32,113.17 633.51,113.17 633.69,113.17 633.87,113.16 634.06,113.14 634.24,113.10 634.43,113.09 634.61,113.03 634.79,112.99 634.98,112.96 635.16,112.94 635.35,112.91 635.53,112.88 635.71,112.85 635.90,112.81 636.08,112.77 636.27,112.75 636.45,112.73 636.64,112.73 636.82,112.74 637.00,112.76 637.19,112.78 637.37,112.81 637.56,112.82 637.74,112.82 637.92,112.82 638.11,112.82 638.29,112.81 638.48,112.80 638.66,112.80 638.84,112.81 639.03,112.83 639.21,112.86 639.40,112.90 639.58,112.96 639.77,113.02 639.95,113.08 640.13,113.13 640.32,113.16 640.50,113.17 640.69,113.16 640.87,113.15 641.05,113.13 641.24,113.11 641.42,113.11 641.61,113.12 641.79,113.14 641.98,113.17 642.16,113.22 642.34,113.27 642.53,113.32 642.71,113.38 642.90,113.43 643.08,113.48 643.26,113.53 643.45,113.56 643.63,113.58 643.82,113.59 644.00,113.59 644.18,113.58 644.37,113.57 644.55,113.54 644.74,113.51 644.92,113.49 645.11,113.47 645.29,113.47 645.47,113.48 645.66,113.50 645.84,113.54 646.03,113.59 646.21,113.63 646.39,113.66 646.58,113.68 646.76,113.69 646.95,113.69 647.13,113.68 647.32,113.67 647.50,113.64 647.68,113.61 647.87,113.57 648.05,113.53 648.24,113.49 648.42,113.45 648.60,113.43 648.79,113.41 648.97,113.42 649.16,113.44 649.34,113.48 649.52,113.52 649.71,113.56 649.89,113.59 650.08,113.61 650.26,113.62 650.45,113.62 650.63,113.60 650.81,113.58 651.00,113.56 651.18,113.55 651.37,113.55 651.55,113.57 651.73,113.61 651.92,113.66 652.10,113.71 652.29,113.76 652.47,113.80 652.65,113.81 652.84,113.80 653.02,113.77 653.21,113.73 653.39,113.70 653.58,113.68 653.76,113.69 653.94,113.71 654.13,113.75 654.31,113.80 654.50,113.86 654.68,113.91 654.86,113.95 655.05,113.98 655.23,113.99 655.42,113.98 655.60,113.94 655.79,113.89 655.97,113.81 656.15,113.73 656.34,113.66 656.52,113.59 656.71,113.54 656.89,113.51 657.07,113.50 657.26,113.52 657.44,113.56 657.63,113.63 657.81,113.71 657.99,113.81 658.18,113.92 658.36,114.03 658.55,114.13 658.73,114.22 658.92,114.29 659.10,114.33 659.28,114.35 659.47,114.34 659.65,114.31 659.84,114.27 660.02,114.23 660.20,114.18 660.39,114.13 660.57,114.09 660.76,114.05 660.94,114.00 661.12,113.96 661.31,113.92 661.49,113.89 661.68,113.87 661.86,113.87 662.05,113.89 662.23,113.92 662.41,113.95 662.60,113.96 662.78,113.97 662.97,113.97 663.15,113.97 663.33,113.96 663.52,113.96 663.70,113.98 663.89,114.02 664.07,114.08 664.26,114.15 664.44,114.23 664.62,114.32 664.81,114.42 664.99,114.51 665.18,114.60 665.36,114.69 665.54,114.77 665.73,114.84 665.91,114.88 666.10,114.92 666.28,114.93 666.46,114.93 666.65,114.90 666.83,114.87 667.02,114.81 667.20,114.75 667.39,114.69 667.57,114.61 667.75,114.52 667.94,114.45 668.12,114.40 668.31,114.37 668.49,114.37 668.67,114.38 668.86,114.40 669.04,114.44 669.23,114.50 669.41,114.56 669.59,114.62 669.78,114.68 669.96,114.74 670.15,114.78 670.33,114.82 670.52,114.86 670.70,114.89 670.88,114.93 671.07,114.97 671.25,115.02 671.44,115.07 671.62,115.12 671.80,115.16 671.99,115.19 672.17,115.19 672.36,115.18 672.54,115.16 672.73,115.12 672.91,115.06 673.09,115.00 673.28,114.93 673.46,114.85 673.65,114.76 673.83,114.67 674.01,114.58 674.20,114.49 674.38,114.42 674.57,114.35 674.75,114.31 674.93,114.28 675.12,114.29 675.30,114.32 675.49,114.39 675.67,114.48 675.86,114.59 676.04,114.71 676.22,114.81 676.41,114.89 676.59,114.94 676.78,114.95 676.96,114.93 677.14,114.87 677.33,114.79 677.51,114.70 677.70,114.61 677.88,114.53 678.06,114.48 678.25,114.47 678.43,114.49 678.62,114.54 678.80,114.62 678.99,114.71 679.17,114.80 679.35,114.87 679.54,114.92 679.72,114.94 679.91,114.93 680.09,114.89 680.27,114.82 680.46,114.75 680.64,114.67 680.83,114.59 681.01,114.53 681.20,114.48 681.38,114.46 681.56,114.46 681.75,114.47 681.93,114.50 682.12,114.52 682.30,114.53" fill="none" stroke="#b28c2a" stroke-width="1.0" stroke-linejoin="round" opacity="1"/>
<polyline points="424.70,187.77 424.88,187.77 425.07,187.77 425.25,187.76 425.44,187.75 425.62,187.72 425.80,187.67 425.99,187.61 426.17,187.54 426.36,187.48 426.54,187.44 426.73,187.43 426.91,187.47 427.09,187.53 427.28,187.64 427.46,187.76 427.65,187.89 427.83,188.02 428.01,188.14 428.20,188.23 428.38,188.29 428.57,188.32 428.75,188.32 428.94,188.29 429.12,188.23 429.30,188.14 429.49,188.04 429.67,187.91 429.86,187.78 430.04,187.64 430.22,187.51 430.41,187.39 430.59,187.28 430.78,187.20 430.96,187.14 431.14,187.12 431.33,187.13 431.51,187.17 431.70,187.24 431.88,187.31 432.07,187.39 432.25,187.45 432.43,187.48 432.62,187.48 432.80,187.45 432.99,187.41 433.17,187.38 433.35,187.35 433.54,187.35 433.72,187.39 433.91,187.45 434.09,187.53 434.27,187.61 434.46,187.69 434.64,187.75 434.83,187.78 435.01,187.78 435.20,187.76 435.38,187.72 435.56,187.67 435.75,187.62 435.93,187.59 436.12,187.59 436.30,187.62 436.48,187.68 436.67,187.77 436.85,187.87 437.04,187.97 437.22,188.06 437.41,188.12 437.59,188.15 437.77,188.15 437.96,188.12 438.14,188.08 438.33,188.04 438.51,188.02 438.69,188.03 438.88,188.07 439.06,188.13 439.25,188.21 439.43,188.28 439.61,188.34 439.80,188.36 439.98,188.35 440.17,188.30 440.35,188.22 440.54,188.12 440.72,188.02 440.90,187.92 441.09,187.83 441.27,187.75 441.46,187.68 441.64,187.63 441.82,187.58 442.01,187.55 442.19,187.53 442.38,187.53 442.56,187.54 442.74,187.57 442.93,187.61 443.11,187.64 443.30,187.67 443.48,187.67 443.67,187.67 443.85,187.65 444.03,187.61 444.22,187.56 444.40,187.51 444.59,187.46 444.77,187.41 444.95,187.37 445.14,187.35 445.32,187.35 445.51,187.37 445.69,187.39 445.88,187.43 446.06,187.46 446.24,187.49 446.43,187.51 446.61,187.51 446.80,187.51 446.98,187.50 447.16,187.49 447.35,187.50 447.53,187.52 447.72,187.57 447.90,187.64 448.08,187.74 448.27,187.86 448.45,187.98 448.64,188.11 448.82,188.23 449.01,188.33 449.19,188.41 449.37,188.48 449.56,188.53 449.74,188.56 449.93,188.59 450.11,188.61 450.29,188.61 450.48,188.59 450.66,188.54 450.85,188.47 451.03,188.39 451.21,188.29 451.40,188.19 451.58,188.09 451.77,188.00 451.95,187.92 452.14,187.85 452.32,187.80 452.50,187.77 452.69,187.76 452.87,187.76 453.06,187.78 453.24,187.81 453.42,187.84 453.61,187.87 453.79,187.90 453.98,187.91 454.16,187.90 454.35,187.88 454.53,187.84 454.71,187.79 454.90,187.74 455.08,187.67 455.27,187.60 455.45,187.53 455.63,187.47 455.82,187.43 456.00,187.40 456.19,187.39 456.37,187.40 456.55,187.44 456.74,187.49 456.92,187.55 457.11,187.61 457.29,187.67 457.48,187.71 457.66,187.74 457.84,187.76 458.03,187.76 458.21,187.76 458.40,187.74 458.58,187.72 458.76,187.71 458.95,187.69 459.13,187.68 459.32,187.68 459.50,187.68 459.68,187.69 459.87,187.71 460.05,187.74 460.24,187.78 460.42,187.82 460.61,187.86 460.79,187.88 460.97,187.90 461.16,187.89 461.34,187.87 461.53,187.83 461.71,187.78 461.89,187.73 462.08,187.68 462.26,187.64 462.45,187.60 462.63,187.57 462.82,187.54 463.00,187.53 463.18,187.52 463.37,187.52 463.55,187.53 463.74,187.54 463.92,187.56 464.10,187.58 464.29,187.58 464.47,187.58 464.66,187.56 464.84,187.52 465.02,187.48 465.21,187.42 465.39,187.37 465.58,187.31 465.76,187.26 465.95,187.21 466.13,187.18 466.31,187.17 466.50,187.18 466.68,187.22 466.87,187.28 467.05,187.37 467.23,187.46 467.42,187.55 467.60,187.64 467.79,187.70 467.97,187.74 468.16,187.75 468.34,187.73 468.52,187.69 468.71,187.64 468.89,187.59 469.08,187.54 469.26,187.51 469.44,187.50 469.63,187.51 469.81,187.54 470.00,187.57 470.18,187.63 470.36,187.70 470.55,187.78 470.73,187.87 470.92,187.97 471.10,188.06 471.29,188.14 471.47,188.19 471.65,188.20 471.84,188.19 472.02,188.15 472.21,188.09 472.39,188.05 472.57,188.02 472.76,188.01 472.94,188.02 473.13,188.04 473.31,188.07 473.49,188.08 473.68,188.07 473.86,188.03 474.05,187.96 474.23,187.87 474.42,187.77 474.60,187.67 474.78,187.59 474.97,187.52 475.15,187.48 475.34,187.46 475.52,187.48 475.70,187.51 475.89,187.56 476.07,187.61 476.26,187.65 476.44,187.68 476.63,187.68 476.81,187.63 476.99,187.56 477.18,187.45 477.36,187.32 477.55,187.18 477.73,187.04 477.91,186.92 478.10,186.82 478.28,186.75 478.47,186.73 478.65,186.73 478.83,186.78 479.02,186.85 479.20,186.95 479.39,187.05 479.57,187.15 479.76,187.24 479.94,187.30 480.12,187.34 480.31,187.35 480.49,187.34 480.68,187.32 480.86,187.29 481.04,187.25 481.23,187.22 481.41,187.18 481.60,187.13 481.78,187.07 481.96,187.00 482.15,186.93 482.33,186.86 482.52,186.81 482.70,186.78 482.89,186.79 483.07,186.83 483.25,186.89 483.44,186.98 483.62,187.08 483.81,187.17 483.99,187.25 484.17,187.32 484.36,187.37 484.54,187.40 484.73,187.41 484.91,187.41 485.10,187.41 485.28,187.41 485.46,187.41 485.65,187.41 485.83,187.41 486.02,187.40 486.20,187.38 486.38,187.35 486.57,187.31 486.75,187.27 486.94,187.24 487.12,187.21 487.30,187.21 487.49,187.22 487.67,187.24 487.86,187.27 488.04,187.30 488.23,187.34 488.41,187.38 488.59,187.40 488.78,187.40 488.96,187.38 489.15,187.32 489.33,187.24 489.51,187.14 489.70,187.03 489.88,186.93 490.07,186.86 490.25,186.82 490.43,186.81 490.62,186.84 490.80,186.89 490.99,186.95 491.17,187.02 491.36,187.07 491.54,187.12 491.72,187.15 491.91,187.15 492.09,187.15 492.28,187.13 492.46,187.11 492.64,187.10 492.83,187.10 493.01,187.11 493.20,187.12 493.38,187.14 493.57,187.14 493.75,187.13 493.93,187.09 494.12,187.04 494.30,186.96 494.49,186.88 494.67,186.78 494.85,186.70 495.04,186.62 495.22,186.56 495.41,186.52 495.59,186.50 495.77,186.51 495.96,186.54 496.14,186.58 496.33,186.64 496.51,186.70 496.70,186.75 496.88,186.79 497.06,186.82 497.25,186.84 497.43,186.85 497.62,186.86 497.80,186.87 497.98,186.88 498.17,186.89 498.35,186.91 498.54,186.94 498.72,186.96 498.91,186.98 499.09,186.99 499.27,187.00 499.46,187.00 499.64,186.97 499.83,186.93 500.01,186.88 500.19,186.81 500.38,186.72 500.56,186.64 500.75,186.56 500.93,186.49 501.11,186.44 501.30,186.40 501.48,186.39 501.67,186.38 501.85,186.39 502.04,186.40 502.22,186.40 502.40,186.40 502.59,186.39 502.77,186.38 502.96,186.36 503.14,186.35 503.32,186.33 503.51,186.32 503.69,186.31 503.88,186.31 504.06,186.32 504.24,186.33 504.43,186.36 504.61,186.39 504.80,186.43 504.98,186.47 505.17,186.50 505.35,186.53 505.53,186.53 505.72,186.50 505.90,186.46 506.09,186.41 506.27,186.35 506.45,186.30 506.64,186.25 506.82,186.22 507.01,186.19 507.19,186.16 507.38,186.13 507.56,186.08 507.74,186.02 507.93,185.95 508.11,185.90 508.30,185.86 508.48,185.85 508.66,185.86 508.85,185.91 509.03,185.98 509.22,186.06 509.40,186.13 509.58,186.19 509.77,186.23 509.95,186.25 510.14,186.25 510.32,186.23 510.51,186.19 510.69,186.14 510.87,186.09 511.06,186.02 511.24,185.94 511.43,185.86 511.61,185.78 511.79,185.70 511.98,185.63 512.16,185.58 512.35,185.53 512.53,185.49 512.71,185.46 512.90,185.43 513.08,185.40 513.27,185.39 513.45,185.37 513.64,185.35 513.82,185.32 514.00,185.28 514.19,185.23 514.37,185.15 514.56,185.07 514.74,185.00 514.92,184.94 515.11,184.91 515.29,184.91 515.48,184.94 515.66,185.00 515.85,185.07 516.03,185.15 516.21,185.22 516.40,185.27 516.58,185.31 516.77,185.31 516.95,185.30 517.13,185.26 517.32,185.20 517.50,185.13 517.69,185.07 517.87,185.00 518.05,184.94 518.24,184.89 518.42,184.84 518.61,184.81 518.79,184.77 518.98,184.73 519.16,184.69 519.34,184.64 519.53,184.59 519.71,184.53 519.90,184.47 520.08,184.39 520.26,184.30 520.45,184.21 520.63,184.12 520.82,184.02 521.00,183.94 521.18,183.87 521.37,183.82 521.55,183.79 521.74,183.78 521.92,183.78 522.11,183.79 522.29,183.78 522.47,183.77 522.66,183.74 522.84,183.70 523.03,183.65 523.21,183.58 523.39,183.50 523.58,183.42 523.76,183.34 523.95,183.25 524.13,183.17 524.32,183.10 524.50,183.05 524.68,183.02 524.87,183.01 525.05,183.02 525.24,183.03 525.42,183.04 525.60,183.05 525.79,183.06 525.97,183.05 526.16,183.04 526.34,183.01 526.52,182.98 526.71,182.94 526.89,182.89 527.08,182.82 527.26,182.74 527.45,182.65 527.63,182.54 527.81,182.43 528.00,182.31 528.18,182.19 528.37,182.08 528.55,181.99 528.73,181.90 528.92,181.84 529.10,181.79 529.29,181.75 529.47,181.73 529.65,181.70 529.84,181.67 530.02,181.63 530.21,181.57 530.39,181.50 530.58,181.40 530.76,181.29 530.94,181.16 531.13,181.03 531.31,180.89 531.50,180.74 531.68,180.60 531.86,180.47 532.05,180.34 532.23,180.22 532.42,180.12 532.60,180.03 532.79,179.95 532.97,179.88 533.15,179.81 533.34,179.74 533.52,179.67 533.71,179.59 533.89,179.50 534.07,179.40 534.26,179.29 534.44,179.16 534.63,179.02 534.81,178.86 534.99,178.69 535.18,178.52 535.36,178.35 535.55,178.18 535.73,178.01 535.92,177.86 536.10,177.71 536.28,177.57 536.47,177.44 536.65,177.32 536.84,177.20 537.02,177.08 537.20,176.96 537.39,176.84 537.57,176.71 537.76,176.57 537.94,176.42 538.13,176.25 538.31,176.08 538.49,175.90 538.68,175.72 538.86,175.53 539.05,175.35 539.23,175.16 539.41,174.97 539.60,174.78 539.78,174.58 539.97,174.38 540.15,174.17 540.33,173.95 540.52,173.73 540.70,173.51 540.89,173.30 541.07,173.09 541.26,172.89 541.44,172.69 541.62,172.48 541.81,172.27 541.99,172.05 542.18,171.82 542.36,171.59 542.54,171.34 542.73,171.09 542.91,170.82 543.10,170.55 543.28,170.27 543.46,169.97 543.65,169.66 543.83,169.33 544.02,168.99 544.20,168.64 544.39,168.28 544.57,167.92 544.75,167.55 544.94,167.17 545.12,166.78 545.31,166.38 545.49,165.97 545.67,165.54 545.86,165.10 546.04,164.64 546.23,164.16 546.41,163.66 546.60,163.14 546.78,162.60 546.96,162.04 547.15,161.46 547.33,160.87 547.52,160.25 547.70,159.62 547.88,158.96 548.07,158.29 548.25,157.59 548.44,156.87 548.62,156.12 548.80,155.35 548.99,154.56 549.17,153.75 549.36,152.91 549.54,152.05 549.73,151.17 549.91,150.28 550.09,149.36 550.28,148.42 550.46,147.46 550.65,146.49 550.83,145.50 551.01,144.50 551.20,143.47 551.38,142.44 551.57,141.39 551.75,140.32 551.93,139.24 552.12,138.15 552.30,137.05 552.49,135.93 552.67,134.81 552.86,133.68 553.04,132.55 553.22,131.41 553.41,130.26 553.59,129.12 553.78,127.98 553.96,126.84 554.14,125.71 554.33,124.58 554.51,123.46 554.70,122.35 554.88,121.25 555.07,120.16 555.25,119.09 555.43,118.02 555.62,116.97 555.80,115.94 555.99,114.91 556.17,113.91 556.35,112.91 556.54,111.94 556.72,110.99 556.91,110.05 557.09,109.14 557.27,108.24 557.46,107.37 557.64,106.52 557.83,105.69 558.01,104.88 558.20,104.09 558.38,103.32 558.56,102.57 558.75,101.85 558.93,101.14 559.12,100.46 559.30,99.80 559.48,99.16 559.67,98.55 559.85,97.95 560.04,97.38 560.22,96.83 560.40,96.29 560.59,95.77 560.77,95.27 560.96,94.78 561.14,94.30 561.33,93.83 561.51,93.38 561.69,92.94 561.88,92.51 562.06,92.10 562.25,91.70 562.43,91.32 562.61,90.94 562.80,90.59 562.98,90.25 563.17,89.92 563.35,89.61 563.54,89.32 563.72,89.04 563.90,88.76 564.09,88.49 564.27,88.22 564.46,87.95 564.64,87.68 564.82,87.40 565.01,87.13 565.19,86.86 565.38,86.60 565.56,86.35 565.74,86.11 565.93,85.88 566.11,85.65 566.30,85.44 566.48,85.23 566.67,85.02 566.85,84.82 567.03,84.62 567.22,84.42 567.40,84.23 567.59,84.05 567.77,83.89 567.95,83.73 568.14,83.59 568.32,83.47 568.51,83.34 568.69,83.22 568.87,83.09 569.06,82.94 569.24,82.79 569.43,82.62 569.61,82.45 569.80,82.28 569.98,82.10 570.16,81.93 570.35,81.77 570.53,81.60 570.72,81.45 570.90,81.29 571.08,81.14 571.27,81.00 571.45,80.86 571.64,80.74 571.82,80.62 572.01,80.51 572.19,80.40 572.37,80.28 572.56,80.17 572.74,80.04 572.93,79.92 573.11,79.79 573.29,79.66 573.48,79.54 573.66,79.42 573.85,79.31 574.03,79.20 574.21,79.10 574.40,78.99 574.58,78.88 574.77,78.77 574.95,78.66 575.14,78.55 575.32,78.45 575.50,78.35 575.69,78.27 575.87,78.20 576.06,78.14 576.24,78.09 576.42,78.05 576.61,78.00 576.79,77.94 576.98,77.88 577.16,77.80 577.35,77.70 577.53,77.60 577.71,77.48 577.90,77.36 578.08,77.25 578.27,77.14 578.45,77.06 578.63,76.99 578.82,76.93 579.00,76.89 579.19,76.86 579.37,76.82 579.55,76.79 579.74,76.75 579.92,76.71 580.11,76.66 580.29,76.61 580.48,76.56 580.66,76.50 580.84,76.45 581.03,76.39 581.21,76.34 581.40,76.29 581.58,76.24 581.76,76.20 581.95,76.17 582.13,76.15 582.32,76.14 582.50,76.15 582.68,76.15 582.87,76.15 583.05,76.14 583.24,76.10 583.42,76.03 583.61,75.93 583.79,75.81 583.97,75.68 584.16,75.55 584.34,75.44 584.53,75.34 584.71,75.26 584.89,75.20 585.08,75.14 585.26,75.09 585.45,75.05 585.63,75.02 585.82,75.00 586.00,75.00 586.18,75.03 586.37,75.07 586.55,75.12 586.74,75.18 586.92,75.24 587.10,75.29 587.29,75.33 587.47,75.34 587.66,75.32 587.84,75.29 588.02,75.22 588.21,75.14 588.39,75.04 588.58,74.92 588.76,74.79 588.95,74.66 589.13,74.54 589.31,74.43 589.50,74.34 589.68,74.26 589.87,74.21 590.05,74.18 590.23,74.18 590.42,74.19 590.60,74.21 590.79,74.25 590.97,74.29 591.15,74.34 591.34,74.38 591.52,74.42 591.71,74.46 591.89,74.48 592.08,74.48 592.26,74.46 592.44,74.41 592.63,74.33 592.81,74.23 593.00,74.12 593.18,74.01 593.36,73.91 593.55,73.84 593.73,73.79 593.92,73.77 594.10,73.76 594.29,73.77 594.47,73.79 594.65,73.80 594.84,73.81 595.02,73.82 595.21,73.81 595.39,73.80 595.57,73.78 595.76,73.75 595.94,73.72 596.13,73.69 596.31,73.66 596.49,73.64 596.68,73.63 596.86,73.63 597.05,73.63 597.23,73.63 597.42,73.62 597.60,73.60 597.78,73.57 597.97,73.52 598.15,73.46 598.34,73.39 598.52,73.32 598.70,73.27 598.89,73.23 599.07,73.21 599.26,73.21 599.44,73.23 599.62,73.27 599.81,73.32 599.99,73.39 600.18,73.46 600.36,73.52 600.55,73.56 600.73,73.59 600.91,73.58 601.10,73.55 601.28,73.50 601.47,73.42 601.65,73.35 601.83,73.29 602.02,73.24 602.20,73.23 602.39,73.25 602.57,73.28 602.76,73.32 602.94,73.34 603.12,73.34 603.31,73.28 603.49,73.19 603.68,73.05 603.86,72.90 604.04,72.75 604.23,72.63 604.41,72.56 604.60,72.53 604.78,72.55 604.96,72.60 605.15,72.68 605.33,72.76 605.52,72.83 605.70,72.88 605.89,72.92 606.07,72.95 606.25,72.97 606.44,72.99 606.62,73.02 606.81,73.06 606.99,73.11 607.17,73.17 607.36,73.22 607.54,73.25 607.73,73.27 607.91,73.25 608.09,73.20 608.28,73.12 608.46,73.03 608.65,72.94 608.83,72.86 609.02,72.80 609.20,72.77 609.38,72.76 609.57,72.79 609.75,72.82 609.94,72.85 610.12,72.86 610.30,72.86 610.49,72.82 610.67,72.76 610.86,72.69 611.04,72.62 611.23,72.55 611.41,72.51 611.59,72.49 611.78,72.49 611.96,72.51 612.15,72.54 612.33,72.56 612.51,72.59 612.70,72.61 612.88,72.64 613.07,72.67 613.25,72.70 613.43,72.72 613.62,72.75 613.80,72.76 613.99,72.76 614.17,72.75 614.36,72.73 614.54,72.72 614.72,72.70 614.91,72.69 615.09,72.67 615.28,72.64 615.46,72.61 615.64,72.56 615.83,72.51 616.01,72.45 616.20,72.40 616.38,72.35 616.57,72.32 616.75,72.30 616.93,72.29 617.12,72.29 617.30,72.29 617.49,72.30 617.67,72.30 617.85,72.30 618.04,72.31 618.22,72.30 618.41,72.30 618.59,72.30 618.77,72.29 618.96,72.29 619.14,72.27 619.33,72.25 619.51,72.23 619.70,72.19 619.88,72.14 620.06,72.09 620.25,72.04 620.43,72.00 620.62,71.97 620.80,71.96 620.98,71.96 621.17,71.97 621.35,71.99 621.54,72.01 621.72,72.02 621.90,72.03 622.09,72.03 622.27,72.02 622.46,72.01 622.64,72.01 622.83,72.01 623.01,72.01 623.19,72.00 623.38,71.99 623.56,71.99 623.75,71.98 623.93,71.98 624.11,72.01 624.30,72.05 624.48,72.11 624.67,72.19 624.85,72.27 625.04,72.34 625.22,72.40 625.40,72.44 625.59,72.46 625.77,72.46 625.96,72.45 626.14,72.44 626.32,72.43 626.51,72.42 626.69,72.41 626.88,72.41 627.06,72.41 627.24,72.41 627.43,72.41 627.61,72.41 627.80,72.40 627.98,72.39 628.17,72.39 628.35,72.41 628.53,72.43 628.72,72.46 628.90,72.50 629.09,72.55 629.27,72.59 629.45,72.63 629.64,72.64 629.82,72.64 630.01,72.61 630.19,72.56 630.37,72.49 630.56,72.40 630.74,72.30 630.93,72.19 631.11,72.08 631.30,71.97 631.48,71.85 631.66,71.74 631.85,71.64 632.03,71.55 632.22,71.47 632.40,71.41 632.58,71.38 632.77,71.39 632.95,71.43 633.14,71.50 633.32,71.59 633.51,71.71 633.69,71.82 633.87,71.94 634.06,72.05 634.24,72.15 634.43,72.23 634.61,72.30 634.79,72.34 634.98,72.36 635.16,72.36 635.35,72.33 635.53,72.29 635.71,72.24 635.90,72.18 636.08,72.13 636.27,72.07 636.45,72.02 636.64,71.98 636.82,71.94 637.00,71.91 637.19,71.89 637.37,71.88 637.56,71.89 637.74,71.92 637.92,71.94 638.11,71.96 638.29,71.98 638.48,72.00 638.66,72.00 638.84,72.01 639.03,72.01 639.21,72.02 639.40,72.02 639.58,72.03 639.77,72.03 639.95,72.03 640.13,72.03 640.32,72.03 640.50,72.04 640.69,72.04 640.87,72.04 641.05,72.04 641.24,72.03 641.42,72.01 641.61,71.98 641.79,71.94 641.98,71.91 642.16,71.88 642.34,71.88 642.53,71.89 642.71,71.93 642.90,71.97 643.08,72.02 643.26,72.04 643.45,72.04 643.63,72.00 643.82,71.94 644.00,71.87 644.18,71.80 644.37,71.75 644.55,71.73 644.74,71.74 644.92,71.78 645.11,71.82 645.29,71.87 645.47,71.90 645.66,71.91 645.84,71.91 646.03,71.90 646.21,71.87 646.39,71.85 646.58,71.83 646.76,71.81 646.95,71.80 647.13,71.80 647.32,71.81 647.50,71.83 647.68,71.86 647.87,71.90 648.05,71.93 648.24,71.97 648.42,71.99 648.60,72.01 648.79,72.02 648.97,72.03 649.16,72.04 649.34,72.05 649.52,72.05 649.71,72.04 649.89,72.02 650.08,71.97 650.26,71.91 650.45,71.82 650.63,71.73 650.81,71.65 651.00,71.58 651.18,71.54 651.37,71.53 651.55,71.54 651.73,71.56 651.92,71.59 652.10,71.61 652.29,71.61 652.47,71.61 652.65,71.61 652.84,71.62 653.02,71.64 653.21,71.69 653.39,71.76 653.58,71.86 653.76,71.97 653.94,72.08 654.13,72.17 654.31,72.23 654.50,72.25 654.68,72.22 654.86,72.14 655.05,72.04 655.23,71.92 655.42,71.80 655.60,71.71 655.79,71.64 655.97,71.60 656.15,71.60 656.34,71.63 656.52,71.68 656.71,71.73 656.89,71.78 657.07,71.82 657.26,71.84 657.44,71.83 657.63,71.79 657.81,71.73 657.99,71.64 658.18,71.55 658.36,71.45 658.55,71.36 658.73,71.30 658.92,71.26 659.10,71.26 659.28,71.27 659.47,71.31 659.65,71.36 659.84,71.43 660.02,71.50 660.20,71.58 660.39,71.66 660.57,71.73 660.76,71.78 660.94,71.81 661.12,71.80 661.31,71.78 661.49,71.73 661.68,71.67 661.86,71.62 662.05,71.58 662.23,71.56 662.41,71.55 662.60,71.56 662.78,71.58 662.97,71.60 663.15,71.62 663.33,71.64 663.52,71.67 663.70,71.70 663.89,71.73 664.07,71.77 664.26,71.80 664.44,71.83 664.62,71.84 664.81,71.84 664.99,71.80 665.18,71.74 665.36,71.67 665.54,71.59 665.73,71.52 665.91,71.45 666.10,71.40 666.28,71.36 666.46,71.33 666.65,71.29 666.83,71.26 667.02,71.23 667.20,71.21 667.39,71.20 667.57,71.19 667.75,71.21 667.94,71.23 668.12,71.27 668.31,71.30 668.49,71.34 668.67,71.38 668.86,71.42 669.04,71.46 669.23,71.49 669.41,71.53 669.59,71.56 669.78,71.60 669.96,71.63 670.15,71.66 670.33,71.68 670.52,71.70 670.70,71.73 670.88,71.75 671.07,71.78 671.25,71.82 671.44,71.85 671.62,71.88 671.80,71.88 671.99,71.85 672.17,71.79 672.36,71.70 672.54,71.60 672.73,71.50 672.91,71.44 673.09,71.41 673.28,71.43 673.46,71.49 673.65,71.60 673.83,71.73 674.01,71.87 674.20,72.01 674.38,72.15 674.57,72.26 674.75,72.34 674.93,72.40 675.12,72.41 675.30,72.38 675.49,72.32 675.67,72.23 675.86,72.13 676.04,72.02 676.22,71.91 676.41,71.83 676.59,71.77 676.78,71.74 676.96,71.74 677.14,71.76 677.33,71.79 677.51,71.82 677.70,71.86 677.88,71.89 678.06,71.90 678.25,71.89 678.43,71.86 678.62,71.81 678.80,71.76 678.99,71.71 679.17,71.66 679.35,71.63 679.54,71.60 679.72,71.60 679.91,71.60 680.09,71.62 680.27,71.64 680.46,71.66 680.64,71.70 680.83,71.75 681.01,71.80 681.20,71.86 681.38,71.91 681.56,71.97 681.75,72.02 681.93,72.06 682.12,72.08 682.30,72.08" fill="none" stroke="#3388cc" stroke-width="0.95" stroke-linejoin="round" opacity="1"/>
<polyline points="424.70,188.29 424.88,188.23 425.07,188.16 425.25,188.09 425.44,188.01 425.62,187.96 425.80,187.93 425.99,187.90 426.17,187.89 426.36,187.88 426.54,187.86 426.73,187.83 426.91,187.80 427.09,187.77 427.28,187.75 427.46,187.75 427.65,187.78 427.83,187.82 428.01,187.88 428.20,187.95 428.38,188.02 428.57,188.07 428.75,188.11 428.94,188.13 429.12,188.13 429.30,188.12 429.49,188.09 429.67,188.04 429.86,187.98 430.04,187.90 430.22,187.81 430.41,187.71 430.59,187.62 430.78,187.53 430.96,187.46 431.14,187.41 431.33,187.38 431.51,187.36 431.70,187.37 431.88,187.38 432.07,187.40 432.25,187.42 432.43,187.43 432.62,187.44 432.80,187.45 432.99,187.47 433.17,187.50 433.35,187.54 433.54,187.59 433.72,187.64 433.91,187.70 434.09,187.75 434.27,187.80 434.46,187.85 434.64,187.90 434.83,187.95 435.01,188.00 435.20,188.04 435.38,188.07 435.56,188.09 435.75,188.08 435.93,188.06 436.12,188.01 436.30,187.95 436.48,187.88 436.67,187.81 436.85,187.74 437.04,187.69 437.22,187.65 437.41,187.62 437.59,187.61 437.77,187.60 437.96,187.61 438.14,187.63 438.33,187.64 438.51,187.66 438.69,187.68 438.88,187.68 439.06,187.68 439.25,187.67 439.43,187.66 439.61,187.65 439.80,187.64 439.98,187.65 440.17,187.67 440.35,187.70 440.54,187.75 440.72,187.78 440.90,187.82 441.09,187.86 441.27,187.88 441.46,187.90 441.64,187.92 441.82,187.94 442.01,187.96 442.19,187.98 442.38,188.00 442.56,188.00 442.74,187.98 442.93,187.95 443.11,187.89 443.30,187.83 443.48,187.75 443.67,187.68 443.85,187.62 444.03,187.59 444.22,187.58 444.40,187.60 444.59,187.65 444.77,187.71 444.95,187.79 445.14,187.87 445.32,187.94 445.51,188.00 445.69,188.05 445.88,188.09 446.06,188.11 446.24,188.11 446.43,188.10 446.61,188.06 446.80,188.00 446.98,187.95 447.16,187.90 447.35,187.87 447.53,187.86 447.72,187.88 447.90,187.92 448.08,187.98 448.27,188.03 448.45,188.09 448.64,188.13 448.82,188.15 449.01,188.15 449.19,188.13 449.37,188.10 449.56,188.04 449.74,187.99 449.93,187.93 450.11,187.88 450.29,187.85 450.48,187.85 450.66,187.86 450.85,187.89 451.03,187.94 451.21,187.98 451.40,188.01 451.58,188.02 451.77,187.99 451.95,187.92 452.14,187.81 452.32,187.67 452.50,187.51 452.69,187.35 452.87,187.21 453.06,187.09 453.24,187.01 453.42,186.96 453.61,186.94 453.79,186.95 453.98,186.97 454.16,187.00 454.35,187.03 454.53,187.07 454.71,187.11 454.90,187.16 455.08,187.22 455.27,187.30 455.45,187.38 455.63,187.46 455.82,187.55 456.00,187.63 456.19,187.70 456.37,187.77 456.55,187.82 456.74,187.87 456.92,187.91 457.11,187.94 457.29,187.97 457.48,187.98 457.66,187.98 457.84,187.96 458.03,187.92 458.21,187.87 458.40,187.80 458.58,187.73 458.76,187.66 458.95,187.59 459.13,187.53 459.32,187.48 459.50,187.45 459.68,187.42 459.87,187.40 460.05,187.39 460.24,187.39 460.42,187.40 460.61,187.42 460.79,187.45 460.97,187.49 461.16,187.55 461.34,187.62 461.53,187.69 461.71,187.75 461.89,187.80 462.08,187.82 462.26,187.81 462.45,187.78 462.63,187.74 462.82,187.70 463.00,187.66 463.18,187.64 463.37,187.64 463.55,187.67 463.74,187.71 463.92,187.78 464.10,187.86 464.29,187.95 464.47,188.04 464.66,188.14 464.84,188.24 465.02,188.32 465.21,188.38 465.39,188.41 465.58,188.42 465.76,188.40 465.95,188.36 466.13,188.29 466.31,188.21 466.50,188.11 466.68,188.00 466.87,187.89 467.05,187.77 467.23,187.65 467.42,187.53 467.60,187.42 467.79,187.32 467.97,187.24 468.16,187.20 468.34,187.18 468.52,187.20 468.71,187.24 468.89,187.30 469.08,187.38 469.26,187.47 469.44,187.55 469.63,187.62 469.81,187.69 470.00,187.74 470.18,187.77 470.36,187.78 470.55,187.77 470.73,187.73 470.92,187.68 471.10,187.60 471.29,187.51 471.47,187.42 471.65,187.34 471.84,187.29 472.02,187.26 472.21,187.28 472.39,187.34 472.57,187.42 472.76,187.53 472.94,187.64 473.13,187.74 473.31,187.82 473.49,187.88 473.68,187.89 473.86,187.86 474.05,187.80 474.23,187.70 474.42,187.59 474.60,187.46 474.78,187.34 474.97,187.23 475.15,187.14 475.34,187.08 475.52,187.04 475.70,187.01 475.89,187.00 476.07,186.99 476.26,186.98 476.44,186.96 476.63,186.94 476.81,186.92 476.99,186.90 477.18,186.88 477.36,186.86 477.55,186.86 477.73,186.87 477.91,186.88 478.10,186.90 478.28,186.93 478.47,186.96 478.65,186.99 478.83,187.02 479.02,187.05 479.20,187.09 479.39,187.13 479.57,187.17 479.76,187.21 479.94,187.25 480.12,187.28 480.31,187.32 480.49,187.34 480.68,187.37 480.86,187.39 481.04,187.40 481.23,187.41 481.41,187.41 481.60,187.40 481.78,187.38 481.96,187.34 482.15,187.29 482.33,187.23 482.52,187.17 482.70,187.10 482.89,187.05 483.07,187.01 483.25,186.99 483.44,186.99 483.62,186.99 483.81,187.00 483.99,187.01 484.17,187.02 484.36,187.01 484.54,186.99 484.73,186.97 484.91,186.96 485.10,186.97 485.28,186.99 485.46,187.04 485.65,187.11 485.83,187.18 486.02,187.25 486.20,187.32 486.38,187.37 486.57,187.42 486.75,187.45 486.94,187.49 487.12,187.53 487.30,187.57 487.49,187.61 487.67,187.64 487.86,187.66 488.04,187.64 488.23,187.59 488.41,187.49 488.59,187.36 488.78,187.22 488.96,187.06 489.15,186.92 489.33,186.80 489.51,186.71 489.70,186.67 489.88,186.67 490.07,186.70 490.25,186.76 490.43,186.83 490.62,186.91 490.80,186.99 490.99,187.06 491.17,187.11 491.36,187.15 491.54,187.17 491.72,187.17 491.91,187.16 492.09,187.13 492.28,187.09 492.46,187.04 492.64,186.99 492.83,186.93 493.01,186.87 493.20,186.82 493.38,186.78 493.57,186.74 493.75,186.72 493.93,186.72 494.12,186.74 494.30,186.78 494.49,186.84 494.67,186.92 494.85,187.00 495.04,187.07 495.22,187.14 495.41,187.18 495.59,187.19 495.77,187.17 495.96,187.12 496.14,187.05 496.33,186.97 496.51,186.88 496.70,186.79 496.88,186.72 497.06,186.66 497.25,186.62 497.43,186.59 497.62,186.57 497.80,186.55 497.98,186.55 498.17,186.55 498.35,186.55 498.54,186.55 498.72,186.56 498.91,186.58 499.09,186.60 499.27,186.62 499.46,186.65 499.64,186.68 499.83,186.72 500.01,186.75 500.19,186.78 500.38,186.81 500.56,186.82 500.75,186.82 500.93,186.81 501.11,186.77 501.30,186.73 501.48,186.67 501.67,186.61 501.85,186.56 502.04,186.52 502.22,186.48 502.40,186.46 502.59,186.45 502.77,186.44 502.96,186.44 503.14,186.44 503.32,186.44 503.51,186.45 503.69,186.46 503.88,186.47 504.06,186.49 504.24,186.50 504.43,186.50 504.61,186.48 504.80,186.44 504.98,186.38 505.17,186.31 505.35,186.23 505.53,186.15 505.72,186.08 505.90,186.02 506.09,185.98 506.27,185.94 506.45,185.91 506.64,185.89 506.82,185.86 507.01,185.83 507.19,185.79 507.38,185.74 507.56,185.69 507.74,185.63 507.93,185.56 508.11,185.50 508.30,185.44 508.48,185.40 508.66,185.38 508.85,185.37 509.03,185.37 509.22,185.39 509.40,185.40 509.58,185.41 509.77,185.42 509.95,185.43 510.14,185.45 510.32,185.47 510.51,185.48 510.69,185.49 510.87,185.49 511.06,185.46 511.24,185.40 511.43,185.33 511.61,185.24 511.79,185.16 511.98,185.08 512.16,185.02 512.35,184.99 512.53,184.98 512.71,185.01 512.90,185.05 513.08,185.11 513.27,185.18 513.45,185.25 513.64,185.32 513.82,185.38 514.00,185.42 514.19,185.45 514.37,185.46 514.56,185.46 514.74,185.46 514.92,185.45 515.11,185.44 515.29,185.44 515.48,185.43 515.66,185.43 515.85,185.42 516.03,185.41 516.21,185.38 516.40,185.33 516.58,185.28 516.77,185.22 516.95,185.15 517.13,185.09 517.32,185.03 517.50,184.98 517.69,184.94 517.87,184.89 518.05,184.84 518.24,184.79 518.42,184.72 518.61,184.63 518.79,184.54 518.98,184.43 519.16,184.33 519.34,184.23 519.53,184.15 519.71,184.08 519.90,184.04 520.08,184.03 520.26,184.03 520.45,184.05 520.63,184.08 520.82,184.10 521.00,184.12 521.18,184.13 521.37,184.12 521.55,184.11 521.74,184.09 521.92,184.08 522.11,184.07 522.29,184.07 522.47,184.08 522.66,184.08 522.84,184.06 523.03,184.03 523.21,183.97 523.39,183.88 523.58,183.78 523.76,183.67 523.95,183.57 524.13,183.47 524.32,183.40 524.50,183.34 524.68,183.29 524.87,183.25 525.05,183.21 525.24,183.15 525.42,183.08 525.60,182.99 525.79,182.89 525.97,182.79 526.16,182.69 526.34,182.61 526.52,182.54 526.71,182.50 526.89,182.47 527.08,182.46 527.26,182.45 527.45,182.45 527.63,182.44 527.81,182.43 528.00,182.41 528.18,182.38 528.37,182.34 528.55,182.29 528.73,182.23 528.92,182.17 529.10,182.10 529.29,182.04 529.47,181.99 529.65,181.93 529.84,181.88 530.02,181.82 530.21,181.76 530.39,181.69 530.58,181.60 530.76,181.51 530.94,181.41 531.13,181.31 531.31,181.22 531.50,181.14 531.68,181.07 531.86,181.02 532.05,180.98 532.23,180.94 532.42,180.91 532.60,180.86 532.79,180.80 532.97,180.71 533.15,180.61 533.34,180.49 533.52,180.34 533.71,180.18 533.89,180.01 534.07,179.84 534.26,179.67 534.44,179.52 534.63,179.38 534.81,179.25 534.99,179.13 535.18,179.02 535.36,178.92 535.55,178.82 535.73,178.73 535.92,178.64 536.10,178.54 536.28,178.45 536.47,178.36 536.65,178.28 536.84,178.19 537.02,178.10 537.20,178.00 537.39,177.91 537.57,177.81 537.76,177.72 537.94,177.62 538.13,177.53 538.31,177.43 538.49,177.32 538.68,177.21 538.86,177.08 539.05,176.93 539.23,176.77 539.41,176.60 539.60,176.43 539.78,176.26 539.97,176.08 540.15,175.91 540.33,175.74 540.52,175.56 540.70,175.39 540.89,175.22 541.07,175.05 541.26,174.88 541.44,174.71 541.62,174.54 541.81,174.36 541.99,174.18 542.18,173.99 542.36,173.79 542.54,173.58 542.73,173.37 542.91,173.15 543.10,172.93 543.28,172.71 543.46,172.49 543.65,172.27 543.83,172.06 544.02,171.83 544.20,171.61 544.39,171.38 544.57,171.15 544.75,170.91 544.94,170.65 545.12,170.39 545.31,170.11 545.49,169.82 545.67,169.52 545.86,169.19 546.04,168.85 546.23,168.48 546.41,168.11 546.60,167.71 546.78,167.30 546.96,166.86 547.15,166.42 547.33,165.95 547.52,165.45 547.70,164.94 547.88,164.40 548.07,163.83 548.25,163.23 548.44,162.59 548.62,161.93 548.80,161.23 548.99,160.50 549.17,159.73 549.36,158.92 549.54,158.08 549.73,157.19 549.91,156.26 550.09,155.28 550.28,154.26 550.46,153.19 550.65,152.07 550.83,150.91 551.01,149.69 551.20,148.44 551.38,147.13 551.57,145.79 551.75,144.40 551.93,142.97 552.12,141.51 552.30,140.01 552.49,138.48 552.67,136.93 552.86,135.34 553.04,133.75 553.22,132.13 553.41,130.51 553.59,128.88 553.78,127.26 553.96,125.65 554.14,124.04 554.33,122.46 554.51,120.90 554.70,119.36 554.88,117.86 555.07,116.40 555.25,114.97 555.43,113.59 555.62,112.25 555.80,110.95 555.99,109.70 556.17,108.49 556.35,107.33 556.54,106.21 556.72,105.14 556.91,104.12 557.09,103.13 557.27,102.20 557.46,101.31 557.64,100.46 557.83,99.65 558.01,98.89 558.20,98.16 558.38,97.47 558.56,96.82 558.75,96.20 558.93,95.61 559.12,95.04 559.30,94.51 559.48,94.00 559.67,93.52 559.85,93.05 560.04,92.61 560.22,92.18 560.40,91.76 560.59,91.36 560.77,90.97 560.96,90.60 561.14,90.23 561.33,89.88 561.51,89.55 561.69,89.23 561.88,88.93 562.06,88.65 562.25,88.39 562.43,88.13 562.61,87.90 562.80,87.67 562.98,87.45 563.17,87.23 563.35,87.02 563.54,86.81 563.72,86.59 563.90,86.37 564.09,86.16 564.27,85.94 564.46,85.73 564.64,85.52 564.82,85.32 565.01,85.14 565.19,84.96 565.38,84.80 565.56,84.65 565.74,84.51 565.93,84.38 566.11,84.24 566.30,84.10 566.48,83.95 566.67,83.80 566.85,83.63 567.03,83.44 567.22,83.25 567.40,83.04 567.59,82.84 567.77,82.63 567.95,82.43 568.14,82.24 568.32,82.06 568.51,81.92 568.69,81.79 568.87,81.69 569.06,81.61 569.24,81.54 569.43,81.48 569.61,81.43 569.80,81.36 569.98,81.28 570.16,81.17 570.35,81.04 570.53,80.89 570.72,80.71 570.90,80.53 571.08,80.34 571.27,80.17 571.45,80.02 571.64,79.89 571.82,79.80 572.01,79.73 572.19,79.69 572.37,79.67 572.56,79.66 572.74,79.63 572.93,79.59 573.11,79.53 573.29,79.44 573.48,79.31 573.66,79.17 573.85,79.01 574.03,78.84 574.21,78.69 574.40,78.55 574.58,78.44 574.77,78.36 574.95,78.29 575.14,78.25 575.32,78.22 575.50,78.19 575.69,78.15 575.87,78.11 576.06,78.05 576.24,77.98 576.42,77.90 576.61,77.82 576.79,77.72 576.98,77.64 577.16,77.55 577.35,77.48 577.53,77.42 577.71,77.35 577.90,77.29 578.08,77.23 578.27,77.17 578.45,77.11 578.63,77.05 578.82,76.98 579.00,76.92 579.19,76.86 579.37,76.80 579.55,76.74 579.74,76.68 579.92,76.61 580.11,76.55 580.29,76.48 580.48,76.42 580.66,76.35 580.84,76.29 581.03,76.23 581.21,76.18 581.40,76.14 581.58,76.12 581.76,76.11 581.95,76.13 582.13,76.15 582.32,76.18 582.50,76.21 582.68,76.21 582.87,76.20 583.05,76.16 583.24,76.08 583.42,75.98 583.61,75.85 583.79,75.70 583.97,75.55 584.16,75.41 584.34,75.28 584.53,75.17 584.71,75.10 584.89,75.05 585.08,75.04 585.26,75.05 585.45,75.07 585.63,75.08 585.82,75.08 586.00,75.06 586.18,75.00 586.37,74.93 586.55,74.83 586.74,74.73 586.92,74.64 587.10,74.55 587.29,74.50 587.47,74.46 587.66,74.45 587.84,74.44 588.02,74.45 588.21,74.45 588.39,74.45 588.58,74.44 588.76,74.43 588.95,74.40 589.13,74.38 589.31,74.36 589.50,74.34 589.68,74.31 589.87,74.29 590.05,74.26 590.23,74.22 590.42,74.18 590.60,74.14 590.79,74.09 590.97,74.03 591.15,73.97 591.34,73.92 591.52,73.88 591.71,73.85 591.89,73.84 592.08,73.86 592.26,73.89 592.44,73.95 592.63,74.02 592.81,74.10 593.00,74.18 593.18,74.24 593.36,74.28 593.55,74.28 593.73,74.26 593.92,74.21 594.10,74.14 594.29,74.07 594.47,74.00 594.65,73.95 594.84,73.91 595.02,73.90 595.21,73.90 595.39,73.90 595.57,73.92 595.76,73.93 595.94,73.94 596.13,73.94 596.31,73.93 596.49,73.92 596.68,73.88 596.86,73.83 597.05,73.76 597.23,73.68 597.42,73.60 597.60,73.51 597.78,73.44 597.97,73.38 598.15,73.35 598.34,73.34 598.52,73.34 598.70,73.36 598.89,73.37 599.07,73.38 599.26,73.38 599.44,73.35 599.62,73.32 599.81,73.28 599.99,73.24 600.18,73.20 600.36,73.17 600.55,73.16 600.73,73.15 600.91,73.14 601.10,73.12 601.28,73.10 601.47,73.07 601.65,73.02 601.83,72.95 602.02,72.87 602.20,72.78 602.39,72.68 602.57,72.59 602.76,72.51 602.94,72.44 603.12,72.41 603.31,72.39 603.49,72.40 603.68,72.43 603.86,72.46 604.04,72.49 604.23,72.52 604.41,72.54 604.60,72.55 604.78,72.55 604.96,72.54 605.15,72.53 605.33,72.51 605.52,72.49 605.70,72.48 605.89,72.46 606.07,72.46 606.25,72.47 606.44,72.49 606.62,72.52 606.81,72.56 606.99,72.61 607.17,72.67 607.36,72.72 607.54,72.77 607.73,72.80 607.91,72.82 608.09,72.83 608.28,72.81 608.46,72.78 608.65,72.74 608.83,72.69 609.02,72.63 609.20,72.56 609.38,72.50 609.57,72.43 609.75,72.38 609.94,72.33 610.12,72.31 610.30,72.31 610.49,72.35 610.67,72.42 610.86,72.54 611.04,72.67 611.23,72.82 611.41,72.97 611.59,73.10 611.78,73.18 611.96,73.23 612.15,73.22 612.33,73.17 612.51,73.08 612.70,72.96 612.88,72.82 613.07,72.68 613.25,72.54 613.43,72.42 613.62,72.31 613.80,72.22 613.99,72.15 614.17,72.11 614.36,72.07 614.54,72.03 614.72,72.00 614.91,71.97 615.09,71.92 615.28,71.87 615.46,71.81 615.64,71.75 615.83,71.69 616.01,71.65 616.20,71.61 616.38,71.60 616.57,71.62 616.75,71.65 616.93,71.71 617.12,71.78 617.30,71.86 617.49,71.95 617.67,72.03 617.85,72.10 618.04,72.17 618.22,72.21 618.41,72.25 618.59,72.28 618.77,72.31 618.96,72.33 619.14,72.36 619.33,72.39 619.51,72.42 619.70,72.45 619.88,72.47 620.06,72.48 620.25,72.48 620.43,72.48 620.62,72.46 620.80,72.45 620.98,72.43 621.17,72.41 621.35,72.40 621.54,72.37 621.72,72.34 621.90,72.30 622.09,72.25 622.27,72.20 622.46,72.17 622.64,72.15 622.83,72.15 623.01,72.18 623.19,72.22 623.38,72.28 623.56,72.33 623.75,72.37 623.93,72.41 624.11,72.42 624.30,72.43 624.48,72.43 624.67,72.42 624.85,72.40 625.04,72.39 625.22,72.37 625.40,72.35 625.59,72.32 625.77,72.28 625.96,72.24 626.14,72.19 626.32,72.13 626.51,72.07 626.69,72.01 626.88,71.94 627.06,71.87 627.24,71.79 627.43,71.70 627.61,71.60 627.80,71.50 627.98,71.40 628.17,71.31 628.35,71.25 628.53,71.23 628.72,71.24 628.90,71.30 629.09,71.40 629.27,71.51 629.45,71.63 629.64,71.74 629.82,71.82 630.01,71.88 630.19,71.90 630.37,71.90 630.56,71.89 630.74,71.88 630.93,71.88 631.11,71.89 631.30,71.92 631.48,71.95 631.66,71.99 631.85,72.03 632.03,72.06 632.22,72.09 632.40,72.10 632.58,72.10 632.77,72.08 632.95,72.05 633.14,72.01 633.32,71.96 633.51,71.90 633.69,71.83 633.87,71.78 634.06,71.73 634.24,71.72 634.43,71.73 634.61,71.78 634.79,71.86 634.98,71.95 635.16,72.04 635.35,72.13 635.53,72.20 635.71,72.24 635.90,72.27 636.08,72.27 636.27,72.27 636.45,72.26 636.64,72.24 636.82,72.21 637.00,72.18 637.19,72.12 637.37,72.04 637.56,71.95 637.74,71.83 637.92,71.72 638.11,71.61 638.29,71.53 638.48,71.47 638.66,71.45 638.84,71.46 639.03,71.49 639.21,71.53 639.40,71.57 639.58,71.61 639.77,71.63 639.95,71.66 640.13,71.68 640.32,71.71 640.50,71.75 640.69,71.80 640.87,71.85 641.05,71.90 641.24,71.94 641.42,71.97 641.61,71.99 641.79,71.99 641.98,71.98 642.16,71.97 642.34,71.95 642.53,71.93 642.71,71.90 642.90,71.87 643.08,71.83 643.26,71.78 643.45,71.73 643.63,71.68 643.82,71.64 644.00,71.62 644.18,71.63 644.37,71.66 644.55,71.71 644.74,71.79 644.92,71.86 645.11,71.93 645.29,71.99 645.47,72.02 645.66,72.03 645.84,72.01 646.03,71.97 646.21,71.91 646.39,71.83 646.58,71.76 646.76,71.71 646.95,71.67 647.13,71.65 647.32,71.66 647.50,71.67 647.68,71.69 647.87,71.70 648.05,71.71 648.24,71.70 648.42,71.69 648.60,71.67 648.79,71.66 648.97,71.65 649.16,71.65 649.34,71.64 649.52,71.64 649.71,71.63 649.89,71.63 650.08,71.62 650.26,71.63 650.45,71.64 650.63,71.66 650.81,71.68 651.00,71.70 651.18,71.71 651.37,71.71 651.55,71.70 651.73,71.70 651.92,71.70 652.10,71.72 652.29,71.74 652.47,71.77 652.65,71.80 652.84,71.81 653.02,71.81 653.21,71.79 653.39,71.77 653.58,71.74 653.76,71.73 653.94,71.72 654.13,71.73 654.31,71.76 654.50,71.79 654.68,71.83 654.86,71.87 655.05,71.92 655.23,71.97 655.42,72.01 655.60,72.05 655.79,72.09 655.97,72.12 656.15,72.13 656.34,72.14 656.52,72.13 656.71,72.11 656.89,72.08 657.07,72.04 657.26,71.99 657.44,71.94 657.63,71.88 657.81,71.82 657.99,71.77 658.18,71.72 658.36,71.69 658.55,71.67 658.73,71.66 658.92,71.65 659.10,71.64 659.28,71.63 659.47,71.61 659.65,71.59 659.84,71.56 660.02,71.53 660.20,71.51 660.39,71.49 660.57,71.47 660.76,71.46 660.94,71.46 661.12,71.48 661.31,71.50 661.49,71.54 661.68,71.59 661.86,71.64 662.05,71.68 662.23,71.71 662.41,71.72 662.60,71.71 662.78,71.66 662.97,71.60 663.15,71.53 663.33,71.47 663.52,71.42 663.70,71.40 663.89,71.41 664.07,71.45 664.26,71.50 664.44,71.57 664.62,71.64 664.81,71.70 664.99,71.73 665.18,71.75 665.36,71.75 665.54,71.73 665.73,71.70 665.91,71.67 666.10,71.64 666.28,71.64 666.46,71.65 666.65,71.69 666.83,71.74 667.02,71.80 667.20,71.86 667.39,71.90 667.57,71.92 667.75,71.90 667.94,71.86 668.12,71.79 668.31,71.73 668.49,71.67 668.67,71.64 668.86,71.64 669.04,71.67 669.23,71.74 669.41,71.82 669.59,71.90 669.78,71.98 669.96,72.04 670.15,72.08 670.33,72.08 670.52,72.06 670.70,72.01 670.88,71.95 671.07,71.89 671.25,71.83 671.44,71.79 671.62,71.76 671.80,71.75 671.99,71.76 672.17,71.77 672.36,71.78 672.54,71.79 672.73,71.78 672.91,71.77 673.09,71.75 673.28,71.73 673.46,71.71 673.65,71.71 673.83,71.70 674.01,71.71 674.20,71.71 674.38,71.72 674.57,71.73 674.75,71.74 674.93,71.74 675.12,71.74 675.30,71.74 675.49,71.72 675.67,71.71 675.86,71.70 676.04,71.70 676.22,71.70 676.41,71.71 676.59,71.73 676.78,71.76 676.96,71.78 677.14,71.79 677.33,71.79 677.51,71.76 677.70,71.71 677.88,71.64 678.06,71.54 678.25,71.44 678.43,71.34 678.62,71.25 678.80,71.17 678.99,71.11 679.17,71.08 679.35,71.07 679.54,71.07 679.72,71.06 679.91,71.06 680.09,71.05 680.27,71.04 680.46,71.01 680.64,70.99 680.83,70.98 681.01,70.98 681.20,71.00 681.38,71.04 681.56,71.10 681.75,71.17 681.93,71.25 682.12,71.33 682.30,71.42" fill="none" stroke="#3388cc" stroke-width="0.95" stroke-linejoin="round" opacity="1"/>
<polyline points="424.70,187.15 424.88,187.21 425.07,187.26 425.25,187.30 425.44,187.32 425.62,187.33 425.80,187.34 425.99,187.34 426.17,187.35 426.36,187.35 426.54,187.36 426.73,187.36 426.91,187.36 427.09,187.35 427.28,187.34 427.46,187.31 427.65,187.28 427.83,187.25 428.01,187.21 428.20,187.16 428.38,187.12 428.57,187.10 428.75,187.09 428.94,187.11 429.12,187.16 429.30,187.24 429.49,187.35 429.67,187.46 429.86,187.58 430.04,187.68 430.22,187.75 430.41,187.80 430.59,187.80 430.78,187.78 430.96,187.73 431.14,187.66 431.33,187.59 431.51,187.52 431.70,187.46 431.88,187.41 432.07,187.37 432.25,187.35 432.43,187.34 432.62,187.34 432.80,187.35 432.99,187.36 433.17,187.39 433.35,187.42 433.54,187.47 433.72,187.52 433.91,187.57 434.09,187.62 434.27,187.66 434.46,187.70 434.64,187.74 434.83,187.76 435.01,187.78 435.20,187.78 435.38,187.77 435.56,187.76 435.75,187.73 435.93,187.70 436.12,187.68 436.30,187.66 436.48,187.66 436.67,187.67 436.85,187.69 437.04,187.71 437.22,187.74 437.41,187.76 437.59,187.78 437.77,187.79 437.96,187.80 438.14,187.80 438.33,187.80 438.51,187.79 438.69,187.79 438.88,187.78 439.06,187.78 439.25,187.78 439.43,187.78 439.61,187.78 439.80,187.77 439.98,187.74 440.17,187.69 440.35,187.62 440.54,187.55 440.72,187.46 440.90,187.39 441.09,187.33 441.27,187.28 441.46,187.26 441.64,187.25 441.82,187.25 442.01,187.26 442.19,187.28 442.38,187.30 442.56,187.32 442.74,187.34 442.93,187.38 443.11,187.42 443.30,187.49 443.48,187.58 443.67,187.67 443.85,187.78 444.03,187.88 444.22,187.97 444.40,188.02 444.59,188.04 444.77,188.03 444.95,187.99 445.14,187.94 445.32,187.87 445.51,187.82 445.69,187.78 445.88,187.75 446.06,187.75 446.24,187.75 446.43,187.76 446.61,187.76 446.80,187.74 446.98,187.71 447.16,187.65 447.35,187.59 447.53,187.53 447.72,187.47 447.90,187.42 448.08,187.40 448.27,187.39 448.45,187.39 448.64,187.40 448.82,187.42 449.01,187.43 449.19,187.43 449.37,187.44 449.56,187.44 449.74,187.45 449.93,187.48 450.11,187.52 450.29,187.57 450.48,187.63 450.66,187.68 450.85,187.73 451.03,187.77 451.21,187.81 451.40,187.83 451.58,187.85 451.77,187.86 451.95,187.87 452.14,187.89 452.32,187.91 452.50,187.93 452.69,187.95 452.87,187.97 453.06,187.98 453.24,188.00 453.42,188.01 453.61,188.02 453.79,188.04 453.98,188.05 454.16,188.06 454.35,188.07 454.53,188.07 454.71,188.07 454.90,188.05 455.08,188.03 455.27,188.01 455.45,187.98 455.63,187.96 455.82,187.95 456.00,187.95 456.19,187.95 456.37,187.95 456.55,187.95 456.74,187.93 456.92,187.88 457.11,187.81 457.29,187.72 457.48,187.61 457.66,187.49 457.84,187.39 458.03,187.30 458.21,187.24 458.40,187.22 458.58,187.24 458.76,187.29 458.95,187.36 459.13,187.44 459.32,187.51 459.50,187.57 459.68,187.60 459.87,187.60 460.05,187.57 460.24,187.53 460.42,187.47 460.61,187.40 460.79,187.34 460.97,187.29 461.16,187.26 461.34,187.26 461.53,187.30 461.71,187.37 461.89,187.47 462.08,187.59 462.26,187.72 462.45,187.84 462.63,187.94 462.82,188.00 463.00,188.01 463.18,187.96 463.37,187.86 463.55,187.72 463.74,187.55 463.92,187.38 464.10,187.22 464.29,187.09 464.47,187.01 464.66,186.98 464.84,187.00 465.02,187.05 465.21,187.14 465.39,187.24 465.58,187.35 465.76,187.45 465.95,187.55 466.13,187.64 466.31,187.72 466.50,187.80 466.68,187.86 466.87,187.90 467.05,187.91 467.23,187.90 467.42,187.86 467.60,187.79 467.79,187.70 467.97,187.61 468.16,187.53 468.34,187.47 468.52,187.44 468.71,187.44 468.89,187.47 469.08,187.51 469.26,187.55 469.44,187.58 469.63,187.58 469.81,187.56 470.00,187.51 470.18,187.44 470.36,187.38 470.55,187.32 470.73,187.29 470.92,187.29 471.10,187.31 471.29,187.36 471.47,187.41 471.65,187.47 471.84,187.51 472.02,187.53 472.21,187.54 472.39,187.54 472.57,187.53 472.76,187.52 472.94,187.51 473.13,187.51 473.31,187.50 473.49,187.49 473.68,187.46 473.86,187.42 474.05,187.36 474.23,187.30 474.42,187.24 474.60,187.18 474.78,187.14 474.97,187.11 475.15,187.10 475.34,187.10 475.52,187.11 475.70,187.13 475.89,187.15 476.07,187.19 476.26,187.22 476.44,187.27 476.63,187.33 476.81,187.38 476.99,187.45 477.18,187.52 477.36,187.58 477.55,187.64 477.73,187.67 477.91,187.69 478.10,187.68 478.28,187.65 478.47,187.59 478.65,187.53 478.83,187.46 479.02,187.41 479.20,187.38 479.39,187.37 479.57,187.38 479.76,187.41 479.94,187.45 480.12,187.49 480.31,187.53 480.49,187.56 480.68,187.59 480.86,187.62 481.04,187.64 481.23,187.66 481.41,187.67 481.60,187.68 481.78,187.68 481.96,187.67 482.15,187.65 482.33,187.61 482.52,187.56 482.70,187.50 482.89,187.42 483.07,187.34 483.25,187.24 483.44,187.15 483.62,187.06 483.81,186.99 483.99,186.94 484.17,186.92 484.36,186.94 484.54,186.98 484.73,187.05 484.91,187.13 485.10,187.21 485.28,187.29 485.46,187.36 485.65,187.42 485.83,187.46 486.02,187.50 486.20,187.51 486.38,187.50 486.57,187.47 486.75,187.42 486.94,187.36 487.12,187.28 487.30,187.21 487.49,187.15 487.67,187.12 487.86,187.10 488.04,187.10 488.23,187.12 488.41,187.15 488.59,187.17 488.78,187.20 488.96,187.21 489.15,187.22 489.33,187.22 489.51,187.21 489.70,187.19 489.88,187.18 490.07,187.16 490.25,187.14 490.43,187.13 490.62,187.12 490.80,187.10 490.99,187.09 491.17,187.07 491.36,187.04 491.54,187.00 491.72,186.94 491.91,186.87 492.09,186.79 492.28,186.70 492.46,186.61 492.64,186.53 492.83,186.47 493.01,186.43 493.20,186.42 493.38,186.43 493.57,186.45 493.75,186.48 493.93,186.52 494.12,186.54 494.30,186.56 494.49,186.57 494.67,186.58 494.85,186.58 495.04,186.59 495.22,186.62 495.41,186.65 495.59,186.70 495.77,186.75 495.96,186.80 496.14,186.86 496.33,186.92 496.51,186.97 496.70,187.01 496.88,187.05 497.06,187.06 497.25,187.06 497.43,187.05 497.62,187.01 497.80,186.96 497.98,186.90 498.17,186.86 498.35,186.82 498.54,186.80 498.72,186.79 498.91,186.79 499.09,186.80 499.27,186.81 499.46,186.82 499.64,186.81 499.83,186.79 500.01,186.77 500.19,186.75 500.38,186.72 500.56,186.68 500.75,186.64 500.93,186.59 501.11,186.53 501.30,186.46 501.48,186.38 501.67,186.30 501.85,186.22 502.04,186.15 502.22,186.08 502.40,186.03 502.59,186.00 502.77,185.97 502.96,185.96 503.14,185.95 503.32,185.93 503.51,185.92 503.69,185.89 503.88,185.87 504.06,185.84 504.24,185.81 504.43,185.80 504.61,185.79 504.80,185.80 504.98,185.83 505.17,185.86 505.35,185.88 505.53,185.90 505.72,185.90 505.90,185.89 506.09,185.86 506.27,185.82 506.45,185.78 506.64,185.75 506.82,185.74 507.01,185.74 507.19,185.77 507.38,185.81 507.56,185.86 507.74,185.92 507.93,185.97 508.11,186.01 508.30,186.03 508.48,186.04 508.66,186.03 508.85,186.02 509.03,186.00 509.22,185.96 509.40,185.92 509.58,185.87 509.77,185.80 509.95,185.73 510.14,185.65 510.32,185.58 510.51,185.51 510.69,185.45 510.87,185.40 511.06,185.37 511.24,185.34 511.43,185.32 511.61,185.30 511.79,185.27 511.98,185.23 512.16,185.20 512.35,185.16 512.53,185.13 512.71,185.12 512.90,185.12 513.08,185.13 513.27,185.16 513.45,185.19 513.64,185.22 513.82,185.24 514.00,185.25 514.19,185.24 514.37,185.24 514.56,185.23 514.74,185.24 514.92,185.25 515.11,185.27 515.29,185.29 515.48,185.30 515.66,185.30 515.85,185.28 516.03,185.24 516.21,185.18 516.40,185.11 516.58,185.04 516.77,184.97 516.95,184.91 517.13,184.86 517.32,184.83 517.50,184.81 517.69,184.81 517.87,184.80 518.05,184.80 518.24,184.79 518.42,184.76 518.61,184.72 518.79,184.66 518.98,184.59 519.16,184.52 519.34,184.43 519.53,184.34 519.71,184.25 519.90,184.15 520.08,184.06 520.26,183.97 520.45,183.89 520.63,183.81 520.82,183.76 521.00,183.71 521.18,183.68 521.37,183.67 521.55,183.68 521.74,183.68 521.92,183.70 522.11,183.71 522.29,183.71 522.47,183.71 522.66,183.70 522.84,183.68 523.03,183.65 523.21,183.62 523.39,183.59 523.58,183.55 523.76,183.52 523.95,183.50 524.13,183.48 524.32,183.46 524.50,183.46 524.68,183.44 524.87,183.42 525.05,183.38 525.24,183.32 525.42,183.25 525.60,183.15 525.79,183.05 525.97,182.94 526.16,182.84 526.34,182.76 526.52,182.69 526.71,182.63 526.89,182.59 527.08,182.56 527.26,182.54 527.45,182.53 527.63,182.52 527.81,182.51 528.00,182.50 528.18,182.49 528.37,182.48 528.55,182.46 528.73,182.44 528.92,182.40 529.10,182.36 529.29,182.31 529.47,182.24 529.65,182.17 529.84,182.08 530.02,181.99 530.21,181.89 530.39,181.81 530.58,181.74 530.76,181.70 530.94,181.67 531.13,181.65 531.31,181.64 531.50,181.63 531.68,181.61 531.86,181.57 532.05,181.51 532.23,181.44 532.42,181.35 532.60,181.25 532.79,181.16 532.97,181.07 533.15,181.00 533.34,180.94 533.52,180.90 533.71,180.86 533.89,180.82 534.07,180.77 534.26,180.70 534.44,180.62 534.63,180.53 534.81,180.42 534.99,180.31 535.18,180.18 535.36,180.06 535.55,179.93 535.73,179.82 535.92,179.71 536.10,179.62 536.28,179.55 536.47,179.49 536.65,179.44 536.84,179.39 537.02,179.34 537.20,179.28 537.39,179.22 537.57,179.15 537.76,179.08 537.94,178.99 538.13,178.90 538.31,178.81 538.49,178.71 538.68,178.61 538.86,178.51 539.05,178.41 539.23,178.31 539.41,178.22 539.60,178.12 539.78,178.03 539.97,177.93 540.15,177.82 540.33,177.70 540.52,177.56 540.70,177.42 540.89,177.27 541.07,177.12 541.26,176.97 541.44,176.84 541.62,176.70 541.81,176.58 541.99,176.45 542.18,176.33 542.36,176.20 542.54,176.06 542.73,175.92 542.91,175.77 543.10,175.62 543.28,175.47 543.46,175.31 543.65,175.14 543.83,174.96 544.02,174.78 544.20,174.58 544.39,174.38 544.57,174.17 544.75,173.96 544.94,173.74 545.12,173.52 545.31,173.30 545.49,173.07 545.67,172.84 545.86,172.59 546.04,172.33 546.23,172.07 546.41,171.79 546.60,171.50 546.78,171.20 546.96,170.89 547.15,170.56 547.33,170.22 547.52,169.86 547.70,169.48 547.88,169.07 548.07,168.63 548.25,168.16 548.44,167.66 548.62,167.13 548.80,166.56 548.99,165.94 549.17,165.29 549.36,164.58 549.54,163.83 549.73,163.02 549.91,162.15 550.09,161.22 550.28,160.23 550.46,159.16 550.65,158.02 550.83,156.80 551.01,155.50 551.20,154.11 551.38,152.63 551.57,151.05 551.75,149.38 551.93,147.62 552.12,145.76 552.30,143.82 552.49,141.79 552.67,139.70 552.86,137.54 553.04,135.33 553.22,133.09 553.41,130.82 553.59,128.55 553.78,126.29 553.96,124.05 554.14,121.84 554.33,119.69 554.51,117.60 554.70,115.58 554.88,113.64 555.07,111.78 555.25,110.02 555.43,108.35 555.62,106.77 555.80,105.28 555.99,103.89 556.17,102.59 556.35,101.37 556.54,100.24 556.72,99.19 556.91,98.22 557.09,97.32 557.27,96.48 557.46,95.71 557.64,94.98 557.83,94.30 558.01,93.66 558.20,93.05 558.38,92.48 558.56,91.93 558.75,91.42 558.93,90.93 559.12,90.46 559.30,90.02 559.48,89.60 559.67,89.20 559.85,88.82 560.04,88.47 560.22,88.13 560.40,87.82 560.59,87.52 560.77,87.25 560.96,87.00 561.14,86.77 561.33,86.55 561.51,86.34 561.69,86.14 561.88,85.94 562.06,85.73 562.25,85.52 562.43,85.31 562.61,85.10 562.80,84.90 562.98,84.71 563.17,84.54 563.35,84.38 563.54,84.24 563.72,84.10 563.90,83.98 564.09,83.86 564.27,83.75 564.46,83.63 564.64,83.50 564.82,83.37 565.01,83.23 565.19,83.09 565.38,82.94 565.56,82.79 565.74,82.64 565.93,82.49 566.11,82.35 566.30,82.22 566.48,82.08 566.67,81.96 566.85,81.84 567.03,81.72 567.22,81.60 567.40,81.48 567.59,81.35 567.77,81.23 567.95,81.10 568.14,80.97 568.32,80.84 568.51,80.72 568.69,80.61 568.87,80.51 569.06,80.41 569.24,80.32 569.43,80.24 569.61,80.16 569.80,80.09 569.98,80.02 570.16,79.94 570.35,79.87 570.53,79.79 570.72,79.70 570.90,79.61 571.08,79.52 571.27,79.42 571.45,79.32 571.64,79.23 571.82,79.13 572.01,79.03 572.19,78.94 572.37,78.85 572.56,78.76 572.74,78.68 572.93,78.61 573.11,78.56 573.29,78.51 573.48,78.48 573.66,78.44 573.85,78.41 574.03,78.37 574.21,78.32 574.40,78.27 574.58,78.21 574.77,78.15 574.95,78.09 575.14,78.02 575.32,77.95 575.50,77.88 575.69,77.81 575.87,77.73 576.06,77.65 576.24,77.58 576.42,77.51 576.61,77.44 576.79,77.37 576.98,77.32 577.16,77.26 577.35,77.22 577.53,77.18 577.71,77.15 577.90,77.12 578.08,77.10 578.27,77.09 578.45,77.07 578.63,77.06 578.82,77.05 579.00,77.04 579.19,77.01 579.37,76.98 579.55,76.95 579.74,76.90 579.92,76.84 580.11,76.78 580.29,76.71 580.48,76.65 580.66,76.59 580.84,76.55 581.03,76.51 581.21,76.48 581.40,76.44 581.58,76.41 581.76,76.36 581.95,76.31 582.13,76.25 582.32,76.17 582.50,76.10 582.68,76.02 582.87,75.94 583.05,75.86 583.24,75.78 583.42,75.71 583.61,75.64 583.79,75.57 583.97,75.51 584.16,75.43 584.34,75.35 584.53,75.26 584.71,75.16 584.89,75.06 585.08,74.97 585.26,74.90 585.45,74.86 585.63,74.84 585.82,74.86 586.00,74.89 586.18,74.94 586.37,74.98 586.55,75.01 586.74,75.02 586.92,75.01 587.10,74.98 587.29,74.94 587.47,74.90 587.66,74.85 587.84,74.80 588.02,74.75 588.21,74.71 588.39,74.67 588.58,74.63 588.76,74.59 588.95,74.56 589.13,74.52 589.31,74.49 589.50,74.45 589.68,74.41 589.87,74.36 590.05,74.32 590.23,74.28 590.42,74.25 590.60,74.24 590.79,74.24 590.97,74.27 591.15,74.30 591.34,74.34 591.52,74.37 591.71,74.40 591.89,74.40 592.08,74.38 592.26,74.33 592.44,74.25 592.63,74.16 592.81,74.05 593.00,73.94 593.18,73.83 593.36,73.74 593.55,73.66 593.73,73.60 593.92,73.56 594.10,73.54 594.29,73.54 594.47,73.55 594.65,73.59 594.84,73.64 595.02,73.71 595.21,73.78 595.39,73.85 595.57,73.91 595.76,73.96 595.94,73.97 596.13,73.97 596.31,73.93 596.49,73.88 596.68,73.82 596.86,73.74 597.05,73.66 597.23,73.57 597.42,73.49 597.60,73.41 597.78,73.33 597.97,73.25 598.15,73.18 598.34,73.12 598.52,73.06 598.70,73.01 598.89,72.96 599.07,72.92 599.26,72.89 599.44,72.86 599.62,72.86 599.81,72.86 599.99,72.87 600.18,72.87 600.36,72.87 600.55,72.85 600.73,72.81 600.91,72.76 601.10,72.70 601.28,72.65 601.47,72.60 601.65,72.58 601.83,72.59 602.02,72.61 602.20,72.67 602.39,72.74 602.57,72.82 602.76,72.91 602.94,73.01 603.12,73.10 603.31,73.17 603.49,73.23 603.68,73.25 603.86,73.23 604.04,73.17 604.23,73.08 604.41,72.96 604.60,72.83 604.78,72.71 604.96,72.60 605.15,72.53 605.33,72.48 605.52,72.48 605.70,72.49 605.89,72.53 606.07,72.57 606.25,72.61 606.44,72.65 606.62,72.69 606.81,72.72 606.99,72.74 607.17,72.76 607.36,72.78 607.54,72.79 607.73,72.81 607.91,72.82 608.09,72.83 608.28,72.84 608.46,72.85 608.65,72.86 608.83,72.88 609.02,72.89 609.20,72.90 609.38,72.90 609.57,72.89 609.75,72.84 609.94,72.78 610.12,72.69 610.30,72.58 610.49,72.48 610.67,72.39 610.86,72.32 611.04,72.29 611.23,72.29 611.41,72.32 611.59,72.38 611.78,72.46 611.96,72.54 612.15,72.63 612.33,72.70 612.51,72.74 612.70,72.76 612.88,72.75 613.07,72.72 613.25,72.68 613.43,72.63 613.62,72.59 613.80,72.55 613.99,72.53 614.17,72.52 614.36,72.51 614.54,72.51 614.72,72.51 614.91,72.50 615.09,72.49 615.28,72.48 615.46,72.48 615.64,72.48 615.83,72.49 616.01,72.52 616.20,72.57 616.38,72.62 616.57,72.68 616.75,72.74 616.93,72.80 617.12,72.86 617.30,72.90 617.49,72.93 617.67,72.94 617.85,72.95 618.04,72.94 618.22,72.92 618.41,72.89 618.59,72.86 618.77,72.81 618.96,72.75 619.14,72.67 619.33,72.59 619.51,72.50 619.70,72.41 619.88,72.34 620.06,72.30 620.25,72.29 620.43,72.31 620.62,72.36 620.80,72.42 620.98,72.51 621.17,72.59 621.35,72.66 621.54,72.73 621.72,72.78 621.90,72.80 622.09,72.80 622.27,72.77 622.46,72.71 622.64,72.62 622.83,72.51 623.01,72.38 623.19,72.26 623.38,72.14 623.56,72.05 623.75,71.98 623.93,71.95 624.11,71.95 624.30,71.97 624.48,72.01 624.67,72.07 624.85,72.13 625.04,72.19 625.22,72.25 625.40,72.30 625.59,72.34 625.77,72.36 625.96,72.38 626.14,72.38 626.32,72.37 626.51,72.35 626.69,72.33 626.88,72.30 627.06,72.26 627.24,72.23 627.43,72.21 627.61,72.19 627.80,72.17 627.98,72.15 628.17,72.13 628.35,72.11 628.53,72.07 628.72,72.04 628.90,72.01 629.09,71.99 629.27,71.99 629.45,72.02 629.64,72.06 629.82,72.13 630.01,72.20 630.19,72.27 630.37,72.33 630.56,72.38 630.74,72.41 630.93,72.41 631.11,72.39 631.30,72.35 631.48,72.29 631.66,72.22 631.85,72.15 632.03,72.09 632.22,72.04 632.40,72.01 632.58,72.01 632.77,72.04 632.95,72.09 633.14,72.15 633.32,72.23 633.51,72.31 633.69,72.39 633.87,72.43 634.06,72.44 634.24,72.41 634.43,72.35 634.61,72.26 634.79,72.17 634.98,72.08 635.16,72.03 635.35,72.02 635.53,72.05 635.71,72.11 635.90,72.18 636.08,72.24 636.27,72.29 636.45,72.31 636.64,72.29 636.82,72.24 637.00,72.17 637.19,72.09 637.37,72.00 637.56,71.92 637.74,71.85 637.92,71.80 638.11,71.76 638.29,71.74 638.48,71.73 638.66,71.74 638.84,71.75 639.03,71.76 639.21,71.78 639.40,71.80 639.58,71.83 639.77,71.86 639.95,71.90 640.13,71.94 640.32,71.99 640.50,72.03 640.69,72.07 640.87,72.09 641.05,72.11 641.24,72.11 641.42,72.10 641.61,72.08 641.79,72.04 641.98,71.99 642.16,71.94 642.34,71.87 642.53,71.80 642.71,71.73 642.90,71.67 643.08,71.61 643.26,71.56 643.45,71.53 643.63,71.51 643.82,71.49 644.00,71.49 644.18,71.49 644.37,71.50 644.55,71.50 644.74,71.51 644.92,71.51 645.11,71.51 645.29,71.50 645.47,71.49 645.66,71.47 645.84,71.45 646.03,71.43 646.21,71.40 646.39,71.37 646.58,71.34 646.76,71.32 646.95,71.28 647.13,71.25 647.32,71.20 647.50,71.14 647.68,71.09 647.87,71.03 648.05,70.99 648.24,70.97 648.42,70.97 648.60,71.02 648.79,71.09 648.97,71.19 649.16,71.30 649.34,71.42 649.52,71.52 649.71,71.62 649.89,71.71 650.08,71.79 650.26,71.87 650.45,71.93 650.63,71.98 650.81,72.02 651.00,72.03 651.18,72.01 651.37,71.98 651.55,71.92 651.73,71.86 651.92,71.80 652.10,71.74 652.29,71.68 652.47,71.64 652.65,71.61 652.84,71.60 653.02,71.61 653.21,71.64 653.39,71.69 653.58,71.76 653.76,71.84 653.94,71.93 654.13,72.01 654.31,72.09 654.50,72.15 654.68,72.20 654.86,72.23 655.05,72.24 655.23,72.23 655.42,72.19 655.60,72.11 655.79,72.02 655.97,71.91 656.15,71.79 656.34,71.68 656.52,71.58 656.71,71.52 656.89,71.47 657.07,71.45 657.26,71.46 657.44,71.48 657.63,71.52 657.81,71.56 657.99,71.62 658.18,71.67 658.36,71.73 658.55,71.78 658.73,71.82 658.92,71.87 659.10,71.90 659.28,71.93 659.47,71.95 659.65,71.97 659.84,71.98 660.02,71.98 660.20,71.97 660.39,71.95 660.57,71.93 660.76,71.89 660.94,71.85 661.12,71.82 661.31,71.80 661.49,71.79 661.68,71.79 661.86,71.81 662.05,71.83 662.23,71.84 662.41,71.85 662.60,71.84 662.78,71.82 662.97,71.79 663.15,71.75 663.33,71.71 663.52,71.67 663.70,71.63 663.89,71.59 664.07,71.57 664.26,71.56 664.44,71.56 664.62,71.57 664.81,71.58 664.99,71.59 665.18,71.60 665.36,71.61 665.54,71.62 665.73,71.61 665.91,71.61 666.10,71.59 666.28,71.58 666.46,71.55 666.65,71.53 666.83,71.50 667.02,71.48 667.20,71.47 667.39,71.47 667.57,71.49 667.75,71.52 667.94,71.56 668.12,71.60 668.31,71.63 668.49,71.65 668.67,71.65 668.86,71.64 669.04,71.63 669.23,71.60 669.41,71.57 669.59,71.55 669.78,71.52 669.96,71.50 670.15,71.48 670.33,71.48 670.52,71.49 670.70,71.52 670.88,71.56 671.07,71.63 671.25,71.71 671.44,71.79 671.62,71.88 671.80,71.95 671.99,72.00 672.17,72.01 672.36,71.99 672.54,71.93 672.73,71.84 672.91,71.73 673.09,71.60 673.28,71.47 673.46,71.35 673.65,71.25 673.83,71.17 674.01,71.13 674.20,71.11 674.38,71.13 674.57,71.16 674.75,71.21 674.93,71.26 675.12,71.31 675.30,71.35 675.49,71.40 675.67,71.45 675.86,71.51 676.04,71.57 676.22,71.64 676.41,71.69 676.59,71.73 676.78,71.74 676.96,71.71 677.14,71.64 677.33,71.54 677.51,71.43 677.70,71.32 677.88,71.23 678.06,71.17 678.25,71.14 678.43,71.15 678.62,71.18 678.80,71.22 678.99,71.27 679.17,71.30 679.35,71.32 679.54,71.31 679.72,71.28 679.91,71.23 680.09,71.17 680.27,71.12 680.46,71.07 680.64,71.03 680.83,71.01 681.01,71.01 681.20,71.04 681.38,71.08 681.56,71.14 681.75,71.21 681.93,71.29 682.12,71.35 682.30,71.41" fill="none" stroke="#3388cc" stroke-width="0.95" stroke-linejoin="round" opacity="1"/>
<rect x="424" y="27.3" width="258.5" height="206.29999999999998" fill="none" stroke="#1e1e1e" stroke-width="1.3"/>
<line x1="420.5" y1="27.299999999999983" x2="424" y2="27.299999999999983" stroke="#1e1e1e" stroke-width="1.2"/>
<text x="417.10" y="30.10" font-size="11.8" text-anchor="end" font-family="Liberation Sans, sans-serif" stroke="#222" stroke-width="0.2" paint-order="stroke" fill="#222" textLength="27.53" lengthAdjust="spacingAndGlyphs">0.050</text>
<line x1="420.5" y1="78.87499999999999" x2="424" y2="78.87499999999999" stroke="#1e1e1e" stroke-width="1.2"/>
<text x="417.10" y="81.67" font-size="11.8" text-anchor="end" font-family="Liberation Sans, sans-serif" stroke="#222" stroke-width="0.2" paint-order="stroke" fill="#222" textLength="27.53" lengthAdjust="spacingAndGlyphs">0.025</text>
<line x1="420.5" y1="130.45" x2="424" y2="130.45" stroke="#1e1e1e" stroke-width="1.2"/>
<text x="417.10" y="133.25" font-size="11.8" text-anchor="end" font-family="Liberation Sans, sans-serif" stroke="#222" stroke-width="0.2" paint-order="stroke" fill="#222" textLength="27.53" lengthAdjust="spacingAndGlyphs">0.000</text>
<line x1="420.5" y1="182.02499999999998" x2="424" y2="182.02499999999998" stroke="#1e1e1e" stroke-width="1.2"/>
<text x="417.10" y="184.82" font-size="11.8" text-anchor="end" font-family="Liberation Sans, sans-serif" stroke="#222" stroke-width="0.2" paint-order="stroke" fill="#222" textLength="31.19" lengthAdjust="spacingAndGlyphs">-0.025</text>
<line x1="420.5" y1="233.6" x2="424" y2="233.6" stroke="#1e1e1e" stroke-width="1.2"/>
<text x="417.10" y="236.40" font-size="11.8" text-anchor="end" font-family="Liberation Sans, sans-serif" stroke="#222" stroke-width="0.2" paint-order="stroke" fill="#222" textLength="31.19" lengthAdjust="spacingAndGlyphs">-0.050</text>
<line x1="422" y1="53.08749999999999" x2="424" y2="53.08749999999999" stroke="#1e1e1e" stroke-width="1.1"/>
<line x1="422" y1="104.6625" x2="424" y2="104.6625" stroke="#1e1e1e" stroke-width="1.1"/>
<line x1="422" y1="156.23749999999998" x2="424" y2="156.23749999999998" stroke="#1e1e1e" stroke-width="1.1"/>
<line x1="422" y1="207.8125" x2="424" y2="207.8125" stroke="#1e1e1e" stroke-width="1.1"/>
<line x1="461.5" y1="233.6" x2="461.5" y2="237.1" stroke="#1e1e1e" stroke-width="1.2"/>
<text x="461.50" y="248.60" font-size="11.8" text-anchor="middle" font-family="Liberation Sans, sans-serif" stroke="#222" stroke-width="0.2" paint-order="stroke" fill="#222" textLength="28.13" lengthAdjust="spacingAndGlyphs">-5000</text>
<line x1="507.5" y1="233.6" x2="507.5" y2="237.1" stroke="#1e1e1e" stroke-width="1.2"/>
<text x="507.50" y="248.60" font-size="11.8" text-anchor="middle" font-family="Liberation Sans, sans-serif" stroke="#222" stroke-width="0.2" paint-order="stroke" fill="#222" textLength="28.13" lengthAdjust="spacingAndGlyphs">-2500</text>
<line x1="553.5" y1="233.6" x2="553.5" y2="237.1" stroke="#1e1e1e" stroke-width="1.2"/>
<text x="553.50" y="248.60" font-size="11.8" text-anchor="middle" font-family="Liberation Sans, sans-serif" stroke="#222" stroke-width="0.2" paint-order="stroke" fill="#222" textLength="6.12" lengthAdjust="spacingAndGlyphs">0</text>
<line x1="599.5" y1="233.6" x2="599.5" y2="237.1" stroke="#1e1e1e" stroke-width="1.2"/>
<text x="599.50" y="248.60" font-size="11.8" text-anchor="middle" font-family="Liberation Sans, sans-serif" stroke="#222" stroke-width="0.2" paint-order="stroke" fill="#222" textLength="24.47" lengthAdjust="spacingAndGlyphs">2500</text>
<line x1="645.5" y1="233.6" x2="645.5" y2="237.1" stroke="#1e1e1e" stroke-width="1.2"/>
<text x="645.50" y="248.60" font-size="11.8" text-anchor="middle" font-family="Liberation Sans, sans-serif" stroke="#222" stroke-width="0.2" paint-order="stroke" fill="#222" textLength="24.47" lengthAdjust="spacingAndGlyphs">5000</text>
<line x1="438.5" y1="233.6" x2="438.5" y2="235.6" stroke="#1e1e1e" stroke-width="1.1"/>
<line x1="484.5" y1="233.6" x2="484.5" y2="235.6" stroke="#1e1e1e" stroke-width="1.1"/>
<line x1="530.5" y1="233.6" x2="530.5" y2="235.6" stroke="#1e1e1e" stroke-width="1.1"/>
<line x1="576.5" y1="233.6" x2="576.5" y2="235.6" stroke="#1e1e1e" stroke-width="1.1"/>
<line x1="622.5" y1="233.6" x2="622.5" y2="235.6" stroke="#1e1e1e" stroke-width="1.1"/>
<line x1="668.5" y1="233.6" x2="668.5" y2="235.6" stroke="#1e1e1e" stroke-width="1.1"/>
<text x="553.3" y="269.4" font-size="13" text-anchor="middle" font-family="Liberation Sans, sans-serif" stroke="#222" stroke-width="0.2" paint-order="stroke" fill="#222" textLength="102" lengthAdjust="spacingAndGlyphs">Magnetic field (G)</text>
<text transform="translate(381,129.9) rotate(-90)" font-size="13.2" text-anchor="middle" font-family="Liberation Sans, sans-serif" stroke="#222" stroke-width="0.2" paint-order="stroke" fill="#222" textLength="139" lengthAdjust="spacingAndGlyphs">Magnetization (emu g<tspan font-size="8.8" dy="-5.4">-1</tspan><tspan dy="5.4">)</tspan></text>
<line x1="432.3" y1="40.4" x2="461.8" y2="40.4" stroke="#3a8ccc" stroke-width="1.2"/>
<text x="463.8" y="44.199999999999996" font-size="10.4" font-family="Liberation Sans, sans-serif" stroke="#222" stroke-width="0.2" paint-order="stroke" fill="#222">6.8 wt %</text>
<line x1="432.3" y1="56.8" x2="461.8" y2="56.8" stroke="#b08a28" stroke-width="1.2"/>
<text x="463.8" y="60.599999999999994" font-size="10.4" font-family="Liberation Sans, sans-serif" stroke="#222" stroke-width="0.2" paint-order="stroke" fill="#222">2.7 wt %</text>
<line x1="432.3" y1="73.4" x2="461.8" y2="73.4" stroke="#2a2a2a" stroke-width="1.2"/>
<text x="463.8" y="77.2" font-size="10.4" font-family="Liberation Sans, sans-serif" stroke="#222" stroke-width="0.2" paint-order="stroke" fill="#222">1.1 wt %</text>
<rect x="561.4" y="135.3" width="111.80000000000007" height="89.69999999999999" fill="#fff" stroke="#555" stroke-width="0.9"/>
<line x1="617.3" y1="135.3" x2="617.3" y2="225" stroke="#333" stroke-width="0.7" stroke-dasharray="0.8 1.3"/>
<polyline points="561.90,181.55 562.27,181.23 562.64,181.12 563.01,181.26 563.38,180.43 563.75,181.12 564.12,180.62 564.49,181.35 564.86,180.77 565.24,180.65 565.61,182.11 565.98,181.46 566.35,181.18 566.72,180.85 567.09,181.54 567.46,181.60 567.83,181.25 568.20,181.40 568.57,181.32 568.94,180.60 569.31,180.69 569.68,181.45 570.05,181.42 570.42,181.09 570.79,180.71 571.16,181.07 571.53,181.67 571.91,181.25 572.28,181.21 572.65,181.45 573.02,181.14 573.39,181.33 573.76,180.48 574.13,181.21 574.50,180.60 574.87,180.95 575.24,181.24 575.61,181.32 575.98,181.04 576.35,180.64 576.72,181.06 577.09,181.15 577.46,181.22 577.83,180.98 578.21,181.22 578.58,180.88 578.95,181.09 579.32,181.19 579.69,181.80 580.06,181.23 580.43,181.12 580.80,180.89 581.17,181.34 581.54,181.04 581.91,181.09 582.28,180.93 582.65,180.89 583.02,181.67 583.39,180.66 583.76,181.23 584.13,181.41 584.50,181.33 584.88,181.31 585.25,180.94 585.62,181.48 585.99,181.08 586.36,180.87 586.73,181.08 587.10,181.15 587.47,180.62 587.84,181.48 588.21,180.93 588.58,181.05 588.95,181.45 589.32,181.60 589.69,181.01 590.06,180.83 590.43,181.02 590.80,180.76 591.17,180.73 591.55,181.35 591.92,181.44 592.29,180.97 592.66,181.10 593.03,180.89 593.40,181.34 593.77,180.98 594.14,180.74 594.51,181.15 594.88,180.90 595.25,181.03 595.62,181.18 595.99,181.11 596.36,180.33 596.73,181.19 597.10,181.01 597.47,180.81 597.85,181.17 598.22,180.63 598.59,179.96 598.96,181.52 599.33,180.75 599.70,180.98 600.07,181.40 600.44,180.77 600.81,180.55 601.18,181.02 601.55,180.95 601.92,181.04 602.29,181.31 602.66,180.70 603.03,181.16 603.40,180.33 603.77,180.82 604.14,181.44 604.52,180.91 604.89,181.06 605.26,180.85 605.63,180.92 606.00,181.07 606.37,181.10 606.74,180.99 607.11,180.67 607.48,181.09 607.85,180.51 608.22,181.07 608.59,180.88 608.96,180.86 609.33,180.45 609.70,180.97 610.07,180.94 610.44,180.44 610.82,181.03 611.19,180.65 611.56,180.97 611.93,181.11 612.30,181.17 612.67,180.87 613.04,180.25 613.41,180.79 613.78,180.90 614.15,180.78 614.52,180.69 614.89,180.58 615.26,180.91 615.63,180.74 616.00,180.80 616.37,180.64 616.74,180.79 617.11,180.74 617.49,180.37 617.86,180.86 618.23,180.63 618.60,180.85 618.97,180.85 619.34,181.23 619.71,180.36 620.08,180.87 620.45,180.74 620.82,180.43 621.19,180.86 621.56,180.95 621.93,180.29 622.30,180.41 622.67,180.34 623.04,180.37 623.41,180.29 623.78,180.55 624.16,180.62 624.53,180.40 624.90,180.63 625.27,180.70 625.64,180.76 626.01,180.52 626.38,180.65 626.75,180.51 627.12,180.16 627.49,180.31 627.86,180.45 628.23,180.03 628.60,180.15 628.97,180.16 629.34,180.15 629.71,180.43 630.08,180.21 630.46,179.93 630.83,180.45 631.20,180.42 631.57,180.79 631.94,180.11 632.31,180.60 632.68,180.55 633.05,180.21 633.42,180.33 633.79,180.18 634.16,180.49 634.53,180.65 634.90,180.08 635.27,180.26 635.64,180.34 636.01,180.16 636.38,180.71 636.75,179.66 637.13,179.80 637.50,180.36 637.87,180.05 638.24,180.71 638.61,180.25 638.98,180.71 639.35,180.29 639.72,180.57 640.09,180.26 640.46,179.88 640.83,179.84 641.20,180.24 641.57,180.51 641.94,180.51 642.31,180.34 642.68,180.08 643.05,179.94 643.43,180.12 643.80,180.18 644.17,180.33 644.54,180.37 644.91,180.32 645.28,181.05 645.65,180.11 646.02,179.83 646.39,180.53 646.76,179.99 647.13,180.68 647.50,180.01 647.87,180.43 648.24,180.37 648.61,180.45 648.98,180.73 649.35,179.99 649.72,179.81 650.10,179.87 650.47,180.23 650.84,180.57 651.21,179.90 651.58,180.59 651.95,180.24 652.32,180.29 652.69,180.42 653.06,180.73 653.43,180.31 653.80,180.20 654.17,179.74 654.54,180.53 654.91,180.30 655.28,180.01 655.65,179.81 656.02,180.34 656.39,180.13 656.77,180.22 657.14,180.26 657.51,180.58 657.88,179.94 658.25,180.36 658.62,180.24 658.99,179.92 659.36,180.27 659.73,180.21 660.10,179.54 660.47,180.41 660.84,179.79 661.21,180.28 661.58,179.79 661.95,179.99 662.32,180.11 662.69,180.11 663.07,180.13 663.44,180.45 663.81,180.54 664.18,180.68 664.55,180.35 664.92,180.09 665.29,180.42 665.66,179.77 666.03,180.24 666.40,180.02 666.77,180.32 667.14,180.27 667.51,180.39 667.88,180.31 668.25,179.88 668.62,179.81 668.99,179.82 669.36,179.90 669.74,180.44 670.11,179.89 670.48,180.07 670.85,180.27 671.22,179.92 671.59,180.19 671.96,180.01 672.33,180.03 672.70,179.37" fill="none" stroke="#444" stroke-width="0.8" stroke-linejoin="round" opacity="1"/>
<polyline points="561.90,191.16 562.27,191.09 562.64,191.02 563.01,190.95 563.38,190.88 563.75,190.81 564.12,190.74 564.49,190.67 564.86,190.60 565.24,190.52 565.61,190.45 565.98,190.38 566.35,190.31 566.72,190.24 567.09,190.17 567.46,190.09 567.83,190.02 568.20,189.95 568.57,189.88 568.94,189.80 569.31,189.73 569.68,189.66 570.05,189.59 570.42,189.51 570.79,189.44 571.16,189.36 571.53,189.29 571.91,189.22 572.28,189.14 572.65,189.07 573.02,188.99 573.39,188.92 573.76,188.84 574.13,188.77 574.50,188.69 574.87,188.62 575.24,188.54 575.61,188.46 575.98,188.39 576.35,188.31 576.72,188.24 577.09,188.16 577.46,188.08 577.83,188.01 578.21,187.93 578.58,187.85 578.95,187.78 579.32,187.70 579.69,187.62 580.06,187.54 580.43,187.47 580.80,187.39 581.17,187.31 581.54,187.23 581.91,187.15 582.28,187.07 582.65,187.00 583.02,186.92 583.39,186.84 583.76,186.76 584.13,186.68 584.50,186.60 584.88,186.52 585.25,186.44 585.62,186.36 585.99,186.28 586.36,186.20 586.73,186.12 587.10,186.04 587.47,185.96 587.84,185.88 588.21,185.80 588.58,185.71 588.95,185.63 589.32,185.55 589.69,185.46 590.06,185.38 590.43,185.30 590.80,185.21 591.17,185.13 591.55,185.04 591.92,184.95 592.29,184.87 592.66,184.78 593.03,184.69 593.40,184.61 593.77,184.52 594.14,184.43 594.51,184.35 594.88,184.26 595.25,184.17 595.62,184.08 595.99,184.00 596.36,183.91 596.73,183.82 597.10,183.73 597.47,183.65 597.85,183.56 598.22,183.47 598.59,183.38 598.96,183.30 599.33,183.21 599.70,183.12 600.07,183.03 600.44,182.95 600.81,182.86 601.18,182.78 601.55,182.69 601.92,182.60 602.29,182.52 602.66,182.43 603.03,182.35 603.40,182.26 603.77,182.18 604.14,182.10 604.52,182.01 604.89,181.93 605.26,181.85 605.63,181.77 606.00,181.68 606.37,181.60 606.74,181.52 607.11,181.44 607.48,181.37 607.85,181.29 608.22,181.21 608.59,181.13 608.96,181.06 609.33,180.98 609.70,180.90 610.07,180.83 610.44,180.75 610.82,180.67 611.19,180.60 611.56,180.52 611.93,180.44 612.30,180.37 612.67,180.29 613.04,180.21 613.41,180.14 613.78,180.06 614.15,179.98 614.52,179.90 614.89,179.82 615.26,179.75 615.63,179.67 616.00,179.58 616.37,179.50 616.74,179.42 617.11,179.34 617.49,179.25 617.86,179.17 618.23,179.08 618.60,179.00 618.97,178.91 619.34,178.82 619.71,178.73 620.08,178.65 620.45,178.56 620.82,178.47 621.19,178.38 621.56,178.29 621.93,178.19 622.30,178.10 622.67,178.01 623.04,177.92 623.41,177.83 623.78,177.73 624.16,177.64 624.53,177.55 624.90,177.45 625.27,177.36 625.64,177.26 626.01,177.17 626.38,177.07 626.75,176.98 627.12,176.88 627.49,176.79 627.86,176.69 628.23,176.60 628.60,176.50 628.97,176.41 629.34,176.31 629.71,176.22 630.08,176.12 630.46,176.03 630.83,175.93 631.20,175.84 631.57,175.74 631.94,175.65 632.31,175.55 632.68,175.46 633.05,175.37 633.42,175.27 633.79,175.18 634.16,175.08 634.53,174.99 634.90,174.90 635.27,174.80 635.64,174.71 636.01,174.61 636.38,174.51 636.75,174.42 637.13,174.32 637.50,174.22 637.87,174.12 638.24,174.02 638.61,173.92 638.98,173.82 639.35,173.71 639.72,173.61 640.09,173.51 640.46,173.41 640.83,173.31 641.20,173.21 641.57,173.10 641.94,173.00 642.31,172.90 642.68,172.80 643.05,172.70 643.43,172.60 643.80,172.50 644.17,172.40 644.54,172.30 644.91,172.20 645.28,172.10 645.65,172.01 646.02,171.91 646.39,171.82 646.76,171.72 647.13,171.63 647.50,171.54 647.87,171.44 648.24,171.35 648.61,171.27 648.98,171.18 649.35,171.09 649.72,171.01 650.10,170.92 650.47,170.84 650.84,170.76 651.21,170.68 651.58,170.60 651.95,170.53 652.32,170.45 652.69,170.38 653.06,170.31 653.43,170.24 653.80,170.18 654.17,170.11 654.54,170.04 654.91,169.98 655.28,169.91 655.65,169.85 656.02,169.78 656.39,169.72 656.77,169.66 657.14,169.59 657.51,169.53 657.88,169.47 658.25,169.40 658.62,169.34 658.99,169.28 659.36,169.22 659.73,169.16 660.10,169.10 660.47,169.04 660.84,168.98 661.21,168.93 661.58,168.87 661.95,168.81 662.32,168.76 662.69,168.70 663.07,168.65 663.44,168.59 663.81,168.54 664.18,168.49 664.55,168.44 664.92,168.38 665.29,168.33 665.66,168.28 666.03,168.23 666.40,168.19 666.77,168.14 667.14,168.09 667.51,168.05 667.88,168.00 668.25,167.96 668.62,167.91 668.99,167.87 669.36,167.83 669.74,167.79 670.11,167.75 670.48,167.71 670.85,167.67 671.22,167.63 671.59,167.60 671.96,167.56 672.33,167.53 672.70,167.49" fill="none" stroke="#b8923a" stroke-width="0.55" stroke-linejoin="round" opacity="1"/>
<polyline points="561.90,191.91 562.27,191.84 562.64,191.77 563.01,191.70 563.38,191.63 563.75,191.56 564.12,191.49 564.49,191.42 564.86,191.35 565.24,191.27 565.61,191.20 565.98,191.13 566.35,191.06 566.72,190.99 567.09,190.92 567.46,190.84 567.83,190.77 568.20,190.70 568.57,190.63 568.94,190.55 569.31,190.48 569.68,190.41 570.05,190.34 570.42,190.26 570.79,190.19 571.16,190.11 571.53,190.04 571.91,189.97 572.28,189.89 572.65,189.82 573.02,189.74 573.39,189.67 573.76,189.59 574.13,189.52 574.50,189.44 574.87,189.37 575.24,189.29 575.61,189.21 575.98,189.14 576.35,189.06 576.72,188.99 577.09,188.91 577.46,188.83 577.83,188.76 578.21,188.68 578.58,188.60 578.95,188.53 579.32,188.45 579.69,188.37 580.06,188.29 580.43,188.22 580.80,188.14 581.17,188.06 581.54,187.98 581.91,187.90 582.28,187.82 582.65,187.75 583.02,187.67 583.39,187.59 583.76,187.51 584.13,187.43 584.50,187.35 584.88,187.27 585.25,187.19 585.62,187.11 585.99,187.03 586.36,186.95 586.73,186.87 587.10,186.79 587.47,186.71 587.84,186.63 588.21,186.55 588.58,186.46 588.95,186.38 589.32,186.30 589.69,186.21 590.06,186.13 590.43,186.05 590.80,185.96 591.17,185.88 591.55,185.79 591.92,185.70 592.29,185.62 592.66,185.53 593.03,185.44 593.40,185.36 593.77,185.27 594.14,185.18 594.51,185.10 594.88,185.01 595.25,184.92 595.62,184.83 595.99,184.75 596.36,184.66 596.73,184.57 597.10,184.48 597.47,184.40 597.85,184.31 598.22,184.22 598.59,184.13 598.96,184.05 599.33,183.96 599.70,183.87 600.07,183.78 600.44,183.70 600.81,183.61 601.18,183.53 601.55,183.44 601.92,183.35 602.29,183.27 602.66,183.18 603.03,183.10 603.40,183.01 603.77,182.93 604.14,182.85 604.52,182.76 604.89,182.68 605.26,182.60 605.63,182.52 606.00,182.43 606.37,182.35 606.74,182.27 607.11,182.19 607.48,182.12 607.85,182.04 608.22,181.96 608.59,181.88 608.96,181.81 609.33,181.73 609.70,181.65 610.07,181.58 610.44,181.50 610.82,181.42 611.19,181.35 611.56,181.27 611.93,181.19 612.30,181.12 612.67,181.04 613.04,180.96 613.41,180.89 613.78,180.81 614.15,180.73 614.52,180.65 614.89,180.57 615.26,180.50 615.63,180.42 616.00,180.33 616.37,180.25 616.74,180.17 617.11,180.09 617.49,180.00 617.86,179.92 618.23,179.83 618.60,179.75 618.97,179.66 619.34,179.57 619.71,179.48 620.08,179.40 620.45,179.31 620.82,179.22 621.19,179.13 621.56,179.04 621.93,178.94 622.30,178.85 622.67,178.76 623.04,178.67 623.41,178.58 623.78,178.48 624.16,178.39 624.53,178.30 624.90,178.20 625.27,178.11 625.64,178.01 626.01,177.92 626.38,177.82 626.75,177.73 627.12,177.63 627.49,177.54 627.86,177.44 628.23,177.35 628.60,177.25 628.97,177.16 629.34,177.06 629.71,176.97 630.08,176.87 630.46,176.78 630.83,176.68 631.20,176.59 631.57,176.49 631.94,176.40 632.31,176.30 632.68,176.21 633.05,176.12 633.42,176.02 633.79,175.93 634.16,175.83 634.53,175.74 634.90,175.65 635.27,175.55 635.64,175.46 636.01,175.36 636.38,175.26 636.75,175.17 637.13,175.07 637.50,174.97 637.87,174.87 638.24,174.77 638.61,174.67 638.98,174.57 639.35,174.46 639.72,174.36 640.09,174.26 640.46,174.16 640.83,174.06 641.20,173.96 641.57,173.85 641.94,173.75 642.31,173.65 642.68,173.55 643.05,173.45 643.43,173.35 643.80,173.25 644.17,173.15 644.54,173.05 644.91,172.95 645.28,172.85 645.65,172.76 646.02,172.66 646.39,172.57 646.76,172.47 647.13,172.38 647.50,172.29 647.87,172.19 648.24,172.10 648.61,172.02 648.98,171.93 649.35,171.84 649.72,171.76 650.10,171.67 650.47,171.59 650.84,171.51 651.21,171.43 651.58,171.35 651.95,171.28 652.32,171.20 652.69,171.13 653.06,171.06 653.43,170.99 653.80,170.93 654.17,170.86 654.54,170.79 654.91,170.73 655.28,170.66 655.65,170.60 656.02,170.53 656.39,170.47 656.77,170.41 657.14,170.34 657.51,170.28 657.88,170.22 658.25,170.15 658.62,170.09 658.99,170.03 659.36,169.97 659.73,169.91 660.10,169.85 660.47,169.79 660.84,169.73 661.21,169.68 661.58,169.62 661.95,169.56 662.32,169.51 662.69,169.45 663.07,169.40 663.44,169.34 663.81,169.29 664.18,169.24 664.55,169.19 664.92,169.13 665.29,169.08 665.66,169.03 666.03,168.98 666.40,168.94 666.77,168.89 667.14,168.84 667.51,168.80 667.88,168.75 668.25,168.71 668.62,168.66 668.99,168.62 669.36,168.58 669.74,168.54 670.11,168.50 670.48,168.46 670.85,168.42 671.22,168.38 671.59,168.35 671.96,168.31 672.33,168.28 672.70,168.24" fill="none" stroke="#b8923a" stroke-width="0.55" stroke-linejoin="round" opacity="1"/>
<polyline points="561.90,192.66 562.27,192.59 562.64,192.52 563.01,192.45 563.38,192.38 563.75,192.31 564.12,192.24 564.49,192.17 564.86,192.10 565.24,192.02 565.61,191.95 565.98,191.88 566.35,191.81 566.72,191.74 567.09,191.67 567.46,191.59 567.83,191.52 568.20,191.45 568.57,191.38 568.94,191.30 569.31,191.23 569.68,191.16 570.05,191.09 570.42,191.01 570.79,190.94 571.16,190.86 571.53,190.79 571.91,190.72 572.28,190.64 572.65,190.57 573.02,190.49 573.39,190.42 573.76,190.34 574.13,190.27 574.50,190.19 574.87,190.12 575.24,190.04 575.61,189.96 575.98,189.89 576.35,189.81 576.72,189.74 577.09,189.66 577.46,189.58 577.83,189.51 578.21,189.43 578.58,189.35 578.95,189.28 579.32,189.20 579.69,189.12 580.06,189.04 580.43,188.97 580.80,188.89 581.17,188.81 581.54,188.73 581.91,188.65 582.28,188.57 582.65,188.50 583.02,188.42 583.39,188.34 583.76,188.26 584.13,188.18 584.50,188.10 584.88,188.02 585.25,187.94 585.62,187.86 585.99,187.78 586.36,187.70 586.73,187.62 587.10,187.54 587.47,187.46 587.84,187.38 588.21,187.30 588.58,187.21 588.95,187.13 589.32,187.05 589.69,186.96 590.06,186.88 590.43,186.80 590.80,186.71 591.17,186.63 591.55,186.54 591.92,186.45 592.29,186.37 592.66,186.28 593.03,186.19 593.40,186.11 593.77,186.02 594.14,185.93 594.51,185.85 594.88,185.76 595.25,185.67 595.62,185.58 595.99,185.50 596.36,185.41 596.73,185.32 597.10,185.23 597.47,185.15 597.85,185.06 598.22,184.97 598.59,184.88 598.96,184.80 599.33,184.71 599.70,184.62 600.07,184.53 600.44,184.45 600.81,184.36 601.18,184.28 601.55,184.19 601.92,184.10 602.29,184.02 602.66,183.93 603.03,183.85 603.40,183.76 603.77,183.68 604.14,183.60 604.52,183.51 604.89,183.43 605.26,183.35 605.63,183.27 606.00,183.18 606.37,183.10 606.74,183.02 607.11,182.94 607.48,182.87 607.85,182.79 608.22,182.71 608.59,182.63 608.96,182.56 609.33,182.48 609.70,182.40 610.07,182.33 610.44,182.25 610.82,182.17 611.19,182.10 611.56,182.02 611.93,181.94 612.30,181.87 612.67,181.79 613.04,181.71 613.41,181.64 613.78,181.56 614.15,181.48 614.52,181.40 614.89,181.32 615.26,181.25 615.63,181.17 616.00,181.08 616.37,181.00 616.74,180.92 617.11,180.84 617.49,180.75 617.86,180.67 618.23,180.58 618.60,180.50 618.97,180.41 619.34,180.32 619.71,180.23 620.08,180.15 620.45,180.06 620.82,179.97 621.19,179.88 621.56,179.79 621.93,179.69 622.30,179.60 622.67,179.51 623.04,179.42 623.41,179.33 623.78,179.23 624.16,179.14 624.53,179.05 624.90,178.95 625.27,178.86 625.64,178.76 626.01,178.67 626.38,178.57 626.75,178.48 627.12,178.38 627.49,178.29 627.86,178.19 628.23,178.10 628.60,178.00 628.97,177.91 629.34,177.81 629.71,177.72 630.08,177.62 630.46,177.53 630.83,177.43 631.20,177.34 631.57,177.24 631.94,177.15 632.31,177.05 632.68,176.96 633.05,176.87 633.42,176.77 633.79,176.68 634.16,176.58 634.53,176.49 634.90,176.40 635.27,176.30 635.64,176.21 636.01,176.11 636.38,176.01 636.75,175.92 637.13,175.82 637.50,175.72 637.87,175.62 638.24,175.52 638.61,175.42 638.98,175.32 639.35,175.21 639.72,175.11 640.09,175.01 640.46,174.91 640.83,174.81 641.20,174.71 641.57,174.60 641.94,174.50 642.31,174.40 642.68,174.30 643.05,174.20 643.43,174.10 643.80,174.00 644.17,173.90 644.54,173.80 644.91,173.70 645.28,173.60 645.65,173.51 646.02,173.41 646.39,173.32 646.76,173.22 647.13,173.13 647.50,173.04 647.87,172.94 648.24,172.85 648.61,172.77 648.98,172.68 649.35,172.59 649.72,172.51 650.10,172.42 650.47,172.34 650.84,172.26 651.21,172.18 651.58,172.10 651.95,172.03 652.32,171.95 652.69,171.88 653.06,171.81 653.43,171.74 653.80,171.68 654.17,171.61 654.54,171.54 654.91,171.48 655.28,171.41 655.65,171.35 656.02,171.28 656.39,171.22 656.77,171.16 657.14,171.09 657.51,171.03 657.88,170.97 658.25,170.90 658.62,170.84 658.99,170.78 659.36,170.72 659.73,170.66 660.10,170.60 660.47,170.54 660.84,170.48 661.21,170.43 661.58,170.37 661.95,170.31 662.32,170.26 662.69,170.20 663.07,170.15 663.44,170.09 663.81,170.04 664.18,169.99 664.55,169.94 664.92,169.88 665.29,169.83 665.66,169.78 666.03,169.73 666.40,169.69 666.77,169.64 667.14,169.59 667.51,169.55 667.88,169.50 668.25,169.46 668.62,169.41 668.99,169.37 669.36,169.33 669.74,169.29 670.11,169.25 670.48,169.21 670.85,169.17 671.22,169.13 671.59,169.10 671.96,169.06 672.33,169.03 672.70,168.99" fill="none" stroke="#b8923a" stroke-width="0.55" stroke-linejoin="round" opacity="1"/>
<polyline points="561.90,212.95 562.27,212.92 562.64,212.89 563.01,212.86 563.38,212.82 563.75,212.77 564.12,212.73 564.49,212.68 564.86,212.63 565.24,212.57 565.61,212.51 565.98,212.45 566.35,212.39 566.72,212.32 567.09,212.25 567.46,212.17 567.83,212.09 568.20,212.01 568.57,211.92 568.94,211.84 569.31,211.74 569.68,211.65 570.05,211.55 570.42,211.45 570.79,211.34 571.16,211.23 571.53,211.12 571.91,211.01 572.28,210.89 572.65,210.77 573.02,210.64 573.39,210.51 573.76,210.38 574.13,210.24 574.50,210.11 574.87,209.96 575.24,209.82 575.61,209.67 575.98,209.52 576.35,209.36 576.72,209.20 577.09,209.04 577.46,208.87 577.83,208.70 578.21,208.53 578.58,208.35 578.95,208.17 579.32,207.99 579.69,207.80 580.06,207.61 580.43,207.42 580.80,207.22 581.17,207.02 581.54,206.82 581.91,206.61 582.28,206.40 582.65,206.19 583.02,205.97 583.39,205.75 583.76,205.53 584.13,205.30 584.50,205.07 584.88,204.83 585.25,204.59 585.62,204.35 585.99,204.11 586.36,203.86 586.73,203.61 587.10,203.35 587.47,203.09 587.84,202.83 588.21,202.56 588.58,202.29 588.95,202.02 589.32,201.74 589.69,201.46 590.06,201.18 590.43,200.89 590.80,200.60 591.17,200.31 591.55,200.01 591.92,199.71 592.29,199.40 592.66,199.09 593.03,198.78 593.40,198.47 593.77,198.15 594.14,197.82 594.51,197.50 594.88,197.17 595.25,196.84 595.62,196.50 595.99,196.16 596.36,195.81 596.73,195.47 597.10,195.12 597.47,194.76 597.85,194.40 598.22,194.04 598.59,193.67 598.96,193.31 599.33,192.93 599.70,192.56 600.07,192.18 600.44,191.79 600.81,191.41 601.18,191.01 601.55,190.62 601.92,190.22 602.29,189.82 602.66,189.42 603.03,189.01 603.40,188.59 603.77,188.18 604.14,187.76 604.52,187.33 604.89,186.91 605.26,186.48 605.63,186.05 606.00,185.61 606.37,185.18 606.74,184.74 607.11,184.30 607.48,183.86 607.85,183.42 608.22,182.98 608.59,182.54 608.96,182.10 609.33,181.65 609.70,181.21 610.07,180.77 610.44,180.33 610.82,179.90 611.19,179.46 611.56,179.03 611.93,178.59 612.30,178.17 612.67,177.74 613.04,177.32 613.41,176.90 613.78,176.48 614.15,176.07 614.52,175.66 614.89,175.25 615.26,174.85 615.63,174.46 616.00,174.06 616.37,173.67 616.74,173.29 617.11,172.91 617.49,172.53 617.86,172.16 618.23,171.79 618.60,171.42 618.97,171.06 619.34,170.71 619.71,170.36 620.08,170.01 620.45,169.66 620.82,169.32 621.19,168.99 621.56,168.66 621.93,168.33 622.30,168.00 622.67,167.68 623.04,167.37 623.41,167.05 623.78,166.75 624.16,166.44 624.53,166.14 624.90,165.84 625.27,165.55 625.64,165.26 626.01,164.97 626.38,164.69 626.75,164.41 627.12,164.13 627.49,163.86 627.86,163.59 628.23,163.32 628.60,163.06 628.97,162.80 629.34,162.54 629.71,162.29 630.08,162.04 630.46,161.79 630.83,161.55 631.20,161.31 631.57,161.07 631.94,160.84 632.31,160.61 632.68,160.38 633.05,160.15 633.42,159.93 633.79,159.71 634.16,159.50 634.53,159.28 634.90,159.07 635.27,158.86 635.64,158.66 636.01,158.46 636.38,158.26 636.75,158.06 637.13,157.87 637.50,157.67 637.87,157.49 638.24,157.30 638.61,157.12 638.98,156.93 639.35,156.75 639.72,156.58 640.09,156.40 640.46,156.23 640.83,156.06 641.20,155.90 641.57,155.73 641.94,155.57 642.31,155.41 642.68,155.25 643.05,155.09 643.43,154.94 643.80,154.79 644.17,154.64 644.54,154.49 644.91,154.35 645.28,154.20 645.65,154.06 646.02,153.92 646.39,153.78 646.76,153.65 647.13,153.51 647.50,153.38 647.87,153.25 648.24,153.12 648.61,152.99 648.98,152.87 649.35,152.74 649.72,152.62 650.10,152.50 650.47,152.38 650.84,152.27 651.21,152.15 651.58,152.03 651.95,151.92 652.32,151.81 652.69,151.70 653.06,151.59 653.43,151.48 653.80,151.37 654.17,151.27 654.54,151.17 654.91,151.06 655.28,150.96 655.65,150.86 656.02,150.76 656.39,150.66 656.77,150.56 657.14,150.47 657.51,150.37 657.88,150.28 658.25,150.18 658.62,150.09 658.99,150.00 659.36,149.91 659.73,149.82 660.10,149.73 660.47,149.64 660.84,149.55 661.21,149.46 661.58,149.37 661.95,149.29 662.32,149.20 662.69,149.12 663.07,149.03 663.44,148.95 663.81,148.86 664.18,148.78 664.55,148.70 664.92,148.61 665.29,148.53 665.66,148.45 666.03,148.37 666.40,148.29 666.77,148.20 667.14,148.12 667.51,148.04 667.88,147.96 668.25,147.88 668.62,147.80 668.99,147.72 669.36,147.64 669.74,147.56 670.11,147.47 670.48,147.39 670.85,147.31 671.22,147.23 671.59,147.15 671.96,147.07 672.33,146.98 672.70,146.90" fill="none" stroke="#4aa0d8" stroke-width="0.75" stroke-linejoin="round" opacity="1"/>
<polyline points="561.90,213.04 562.27,213.09 562.64,213.13 563.01,213.17 563.38,213.21 563.75,213.24 564.12,213.27 564.49,213.30 564.86,213.32 565.24,213.34 565.61,213.36 565.98,213.37 566.35,213.39 566.72,213.39 567.09,213.40 567.46,213.40 567.83,213.39 568.20,213.39 568.57,213.38 568.94,213.37 569.31,213.35 569.68,213.33 570.05,213.31 570.42,213.28 570.79,213.26 571.16,213.22 571.53,213.19 571.91,213.15 572.28,213.11 572.65,213.06 573.02,213.02 573.39,212.97 573.76,212.91 574.13,212.85 574.50,212.79 574.87,212.73 575.24,212.66 575.61,212.59 575.98,212.52 576.35,212.44 576.72,212.36 577.09,212.28 577.46,212.20 577.83,212.11 578.21,212.02 578.58,211.92 578.95,211.82 579.32,211.72 579.69,211.62 580.06,211.51 580.43,211.40 580.80,211.29 581.17,211.17 581.54,211.05 581.91,210.93 582.28,210.81 582.65,210.68 583.02,210.55 583.39,210.41 583.76,210.28 584.13,210.14 584.50,209.99 584.88,209.85 585.25,209.70 585.62,209.55 585.99,209.39 586.36,209.23 586.73,209.07 587.10,208.91 587.47,208.74 587.84,208.57 588.21,208.40 588.58,208.23 588.95,208.05 589.32,207.87 589.69,207.68 590.06,207.50 590.43,207.31 590.80,207.12 591.17,206.92 591.55,206.72 591.92,206.52 592.29,206.32 592.66,206.11 593.03,205.90 593.40,205.69 593.77,205.48 594.14,205.26 594.51,205.04 594.88,204.81 595.25,204.59 595.62,204.36 595.99,204.13 596.36,203.89 596.73,203.66 597.10,203.42 597.47,203.18 597.85,202.93 598.22,202.68 598.59,202.43 598.96,202.18 599.33,201.92 599.70,201.67 600.07,201.40 600.44,201.14 600.81,200.87 601.18,200.61 601.55,200.33 601.92,200.06 602.29,199.78 602.66,199.50 603.03,199.22 603.40,198.94 603.77,198.65 604.14,198.36 604.52,198.07 604.89,197.77 605.26,197.47 605.63,197.17 606.00,196.87 606.37,196.57 606.74,196.26 607.11,195.95 607.48,195.64 607.85,195.32 608.22,195.00 608.59,194.68 608.96,194.36 609.33,194.03 609.70,193.71 610.07,193.38 610.44,193.04 610.82,192.71 611.19,192.37 611.56,192.03 611.93,191.69 612.30,191.34 612.67,190.99 613.04,190.64 613.41,190.29 613.78,189.94 614.15,189.58 614.52,189.22 614.89,188.86 615.26,188.49 615.63,188.13 616.00,187.76 616.37,187.39 616.74,187.01 617.11,186.64 617.49,186.26 617.86,185.88 618.23,185.50 618.60,185.11 618.97,184.72 619.34,184.33 619.71,183.94 620.08,183.55 620.45,183.15 620.82,182.75 621.19,182.35 621.56,181.95 621.93,181.54 622.30,181.13 622.67,180.72 623.04,180.31 623.41,179.90 623.78,179.48 624.16,179.06 624.53,178.64 624.90,178.22 625.27,177.80 625.64,177.37 626.01,176.95 626.38,176.52 626.75,176.09 627.12,175.66 627.49,175.23 627.86,174.80 628.23,174.37 628.60,173.94 628.97,173.51 629.34,173.08 629.71,172.65 630.08,172.22 630.46,171.79 630.83,171.37 631.20,170.94 631.57,170.51 631.94,170.09 632.31,169.66 632.68,169.24 633.05,168.82 633.42,168.40 633.79,167.98 634.16,167.56 634.53,167.15 634.90,166.74 635.27,166.33 635.64,165.92 636.01,165.52 636.38,165.12 636.75,164.72 637.13,164.32 637.50,163.93 637.87,163.54 638.24,163.16 638.61,162.77 638.98,162.39 639.35,162.02 639.72,161.65 640.09,161.28 640.46,160.92 640.83,160.57 641.20,160.21 641.57,159.86 641.94,159.52 642.31,159.18 642.68,158.85 643.05,158.52 643.43,158.20 643.80,157.88 644.17,157.57 644.54,157.27 644.91,156.97 645.28,156.68 645.65,156.39 646.02,156.11 646.39,155.84 646.76,155.57 647.13,155.31 647.50,155.05 647.87,154.80 648.24,154.56 648.61,154.32 648.98,154.09 649.35,153.87 649.72,153.65 650.10,153.43 650.47,153.22 650.84,153.02 651.21,152.82 651.58,152.63 651.95,152.44 652.32,152.26 652.69,152.08 653.06,151.90 653.43,151.73 653.80,151.57 654.17,151.41 654.54,151.25 654.91,151.10 655.28,150.95 655.65,150.81 656.02,150.67 656.39,150.53 656.77,150.40 657.14,150.27 657.51,150.15 657.88,150.02 658.25,149.91 658.62,149.79 658.99,149.68 659.36,149.57 659.73,149.46 660.10,149.36 660.47,149.26 660.84,149.16 661.21,149.07 661.58,148.98 661.95,148.89 662.32,148.80 662.69,148.71 663.07,148.63 663.44,148.55 663.81,148.47 664.18,148.39 664.55,148.32 664.92,148.24 665.29,148.17 665.66,148.10 666.03,148.03 666.40,147.96 666.77,147.90 667.14,147.83 667.51,147.76 667.88,147.70 668.25,147.64 668.62,147.57 668.99,147.51 669.36,147.45 669.74,147.39 670.11,147.33 670.48,147.27 670.85,147.20 671.22,147.14 671.59,147.08 671.96,147.02 672.33,146.96 672.70,146.90" fill="none" stroke="#4aa0d8" stroke-width="0.75" stroke-linejoin="round" opacity="1"/>
<line x1="561.40" y1="225" x2="561.40" y2="223.7" stroke="#555" stroke-width="0.6"/>
<line x1="568.39" y1="225" x2="568.39" y2="223.7" stroke="#555" stroke-width="0.6"/>
<line x1="575.38" y1="225" x2="575.38" y2="223.7" stroke="#555" stroke-width="0.6"/>
<line x1="582.36" y1="225" x2="582.36" y2="223.7" stroke="#555" stroke-width="0.6"/>
<line x1="589.35" y1="225" x2="589.35" y2="223.7" stroke="#555" stroke-width="0.6"/>
<line x1="596.34" y1="225" x2="596.34" y2="223.7" stroke="#555" stroke-width="0.6"/>
<line x1="603.32" y1="225" x2="603.32" y2="223.7" stroke="#555" stroke-width="0.6"/>
<line x1="610.31" y1="225" x2="610.31" y2="223.7" stroke="#555" stroke-width="0.6"/>
<line x1="617.30" y1="225" x2="617.30" y2="223.7" stroke="#555" stroke-width="0.6"/>
<line x1="624.29" y1="225" x2="624.29" y2="223.7" stroke="#555" stroke-width="0.6"/>
<line x1="631.27" y1="225" x2="631.27" y2="223.7" stroke="#555" stroke-width="0.6"/>
<line x1="638.26" y1="225" x2="638.26" y2="223.7" stroke="#555" stroke-width="0.6"/>
<line x1="645.25" y1="225" x2="645.25" y2="223.7" stroke="#555" stroke-width="0.6"/>
<line x1="652.24" y1="225" x2="652.24" y2="223.7" stroke="#555" stroke-width="0.6"/>
<line x1="659.22" y1="225" x2="659.22" y2="223.7" stroke="#555" stroke-width="0.6"/>
<line x1="666.21" y1="225" x2="666.21" y2="223.7" stroke="#555" stroke-width="0.6"/>
<line x1="673.20" y1="225" x2="673.20" y2="223.7" stroke="#555" stroke-width="0.6"/>
<text x="561.40" y="231.3" font-size="5.9" text-anchor="middle" font-family="Liberation Sans, sans-serif" fill="#444">-800</text>
<text x="575.38" y="231.3" font-size="5.9" text-anchor="middle" font-family="Liberation Sans, sans-serif" fill="#444">-600</text>
<text x="589.35" y="231.3" font-size="5.9" text-anchor="middle" font-family="Liberation Sans, sans-serif" fill="#444">-400</text>
<text x="603.32" y="231.3" font-size="5.9" text-anchor="middle" font-family="Liberation Sans, sans-serif" fill="#444">-200</text>
<text x="617.30" y="231.3" font-size="5.9" text-anchor="middle" font-family="Liberation Sans, sans-serif" fill="#444">0</text>
<text x="631.27" y="231.3" font-size="5.9" text-anchor="middle" font-family="Liberation Sans, sans-serif" fill="#444">200</text>
<text x="645.25" y="231.3" font-size="5.9" text-anchor="middle" font-family="Liberation Sans, sans-serif" fill="#444">400</text>
<text x="659.22" y="231.3" font-size="5.9" text-anchor="middle" font-family="Liberation Sans, sans-serif" fill="#444">600</text>
<text x="673.20" y="231.3" font-size="5.9" text-anchor="middle" font-family="Liberation Sans, sans-serif" fill="#444">800</text>
<path d="M55.00,509.24 L55.43,509.23 L55.86,509.22 L56.29,509.21 L56.72,509.20 L57.15,509.19 L57.58,509.17 L58.01,509.16 L58.44,509.15 L58.87,509.14 L59.30,509.12 L59.73,509.11 L60.16,509.10 L60.59,509.09 L61.02,509.07 L61.45,509.06 L61.88,509.05 L62.31,509.04 L62.74,509.02 L63.17,509.01 L63.60,508.99 L64.03,508.98 L64.46,508.97 L64.89,508.95 L65.32,508.94 L65.75,508.93 L66.18,508.91 L66.61,508.90 L67.04,508.88 L67.47,508.87 L67.90,508.85 L68.33,508.84 L68.76,508.82 L69.19,508.81 L69.62,508.79 L70.05,508.78 L70.48,508.76 L70.91,508.74 L71.34,508.73 L71.77,508.71 L72.20,508.70 L72.63,508.68 L73.06,508.66 L73.49,508.65 L73.92,508.63 L74.35,508.61 L74.78,508.59 L75.21,508.58 L75.64,508.56 L76.07,508.54 L76.50,508.52 L76.93,508.50 L77.36,508.49 L77.79,508.47 L78.22,508.45 L78.65,508.43 L79.08,508.41 L79.51,508.39 L79.94,508.37 L80.37,508.35 L80.80,508.33 L81.23,508.31 L81.66,508.29 L82.09,508.27 L82.52,508.25 L82.95,508.23 L83.38,508.21 L83.81,508.18 L84.24,508.16 L84.67,508.14 L85.10,508.12 L85.53,508.10 L85.96,508.07 L86.39,508.05 L86.82,508.03 L87.25,508.00 L87.68,507.98 L88.11,507.96 L88.54,507.93 L88.97,507.91 L89.40,507.88 L89.83,507.86 L90.26,507.83 L90.69,507.81 L91.12,507.78 L91.55,507.75 L91.98,507.73 L92.41,507.70 L92.84,507.67 L93.27,507.64 L93.70,507.62 L94.13,507.59 L94.56,507.56 L94.99,507.53 L95.42,507.50 L95.85,507.47 L96.28,507.44 L96.71,507.41 L97.14,507.38 L97.57,507.35 L98.01,507.32 L98.44,507.29 L98.87,507.25 L99.30,507.22 L99.73,507.19 L100.16,507.16 L100.59,507.12 L101.02,507.09 L101.45,507.05 L101.88,507.02 L102.31,506.98 L102.74,506.95 L103.17,506.91 L103.60,506.87 L104.03,506.84 L104.46,506.80 L104.89,506.76 L105.32,506.72 L105.75,506.68 L106.18,506.64 L106.61,506.60 L107.04,506.56 L107.47,506.52 L107.90,506.48 L108.33,506.43 L108.76,506.39 L109.19,506.35 L109.62,506.30 L110.05,506.26 L110.48,506.21 L110.91,506.16 L111.34,506.12 L111.77,506.07 L112.20,506.02 L112.63,505.97 L113.06,505.92 L113.49,505.87 L113.92,505.82 L114.35,505.77 L114.78,505.72 L115.21,505.67 L115.64,505.61 L116.07,505.56 L116.50,505.50 L116.93,505.44 L117.36,505.39 L117.79,505.33 L118.22,505.27 L118.65,505.21 L119.08,505.15 L119.51,505.09 L119.94,505.03 L120.37,504.96 L120.80,504.90 L121.23,504.83 L121.66,504.77 L122.09,504.70 L122.52,504.63 L122.95,504.56 L123.38,504.49 L123.81,504.42 L124.24,504.35 L124.67,504.27 L125.10,504.20 L125.53,504.12 L125.96,504.04 L126.39,503.96 L126.82,503.88 L127.25,503.80 L127.68,503.72 L128.11,503.63 L128.54,503.55 L128.97,503.46 L129.40,503.37 L129.83,503.28 L130.26,503.19 L130.69,503.10 L131.12,503.00 L131.55,502.90 L131.98,502.81 L132.41,502.71 L132.84,502.60 L133.27,502.50 L133.70,502.39 L134.13,502.29 L134.56,502.18 L134.99,502.07 L135.42,501.95 L135.85,501.84 L136.28,501.72 L136.71,501.60 L137.14,501.48 L137.57,501.35 L138.00,501.23 L138.43,501.10 L138.86,500.97 L139.29,500.83 L139.72,500.70 L140.15,500.56 L140.58,500.41 L141.01,500.27 L141.44,500.12 L141.87,499.97 L142.30,499.82 L142.73,499.66 L143.16,499.50 L143.59,499.34 L144.02,499.17 L144.45,499.00 L144.88,498.83 L145.31,498.65 L145.74,498.47 L146.17,498.28 L146.60,498.10 L147.03,497.90 L147.46,497.71 L147.89,497.50 L148.32,497.30 L148.75,497.09 L149.18,496.87 L149.61,496.65 L150.04,496.43 L150.47,496.20 L150.90,495.97 L151.33,495.72 L151.76,495.48 L152.19,495.23 L152.62,494.97 L153.05,494.71 L153.48,494.44 L153.91,494.16 L154.34,493.88 L154.77,493.59 L155.20,493.29 L155.63,492.99 L156.06,492.68 L156.49,492.36 L156.92,492.03 L157.35,491.70 L157.78,491.35 L158.21,491.00 L158.64,490.64 L159.07,490.27 L159.50,489.89 L159.93,489.50 L160.36,489.10 L160.79,488.69 L161.22,488.26 L161.65,487.83 L162.08,487.38 L162.51,486.93 L162.94,486.46 L163.37,485.97 L163.80,485.48 L164.23,484.97 L164.66,484.44 L165.09,483.90 L165.52,483.35 L165.95,482.77 L166.38,482.19 L166.81,481.58 L167.24,480.96 L167.67,480.32 L168.10,479.66 L168.53,478.98 L168.96,478.28 L169.39,477.55 L169.82,476.81 L170.25,476.04 L170.68,475.25 L171.11,474.44 L171.54,473.60 L171.97,472.73 L172.40,471.84 L172.83,470.91 L173.26,469.96 L173.69,468.98 L174.12,467.96 L174.55,466.92 L174.98,465.84 L175.41,464.72 L175.84,463.57 L176.27,462.38 L176.70,461.15 L177.13,459.88 L177.56,458.57 L177.99,457.21 L178.42,455.81 L178.85,454.36 L179.28,452.87 L179.71,451.33 L180.14,449.73 L180.57,448.09 L181.00,446.39 L181.43,444.63 L181.86,442.82 L182.29,440.95 L182.72,439.01 L183.15,437.02 L183.58,434.97 L184.02,432.85 L184.45,430.67 L184.88,428.42 L185.31,426.11 L185.74,423.73 L186.17,421.29 L186.60,418.78 L187.03,416.20 L187.46,413.56 L187.89,410.86 L188.32,408.10 L188.75,405.28 L189.18,402.40 L189.61,399.47 L190.04,396.50 L190.47,393.48 L190.90,390.43 L191.33,387.35 L191.76,384.25 L192.19,381.14 L192.62,378.03 L193.05,374.93 L193.48,371.85 L193.91,368.80 L194.34,365.81 L194.77,362.87 L195.20,360.02 L195.63,357.26 L196.06,354.62 L196.49,352.10 L196.92,349.73 L197.35,347.53 L197.78,345.50 L198.21,343.66 L198.64,342.04 L199.07,340.64 L199.50,339.47 L199.93,338.55 L200.36,337.89 L200.79,337.48 L201.22,337.33 L201.65,337.45 L202.08,337.83 L202.51,338.47 L202.94,339.36 L203.37,340.50 L203.80,341.88 L204.23,343.48 L204.66,345.29 L205.09,347.30 L205.52,349.49 L205.95,351.84 L206.38,354.34 L206.81,356.98 L207.24,359.72 L207.67,362.56 L208.10,365.49 L208.53,368.48 L208.96,371.52 L209.39,374.60 L209.82,377.70 L210.25,380.81 L210.68,383.92 L211.11,387.02 L211.54,390.10 L211.97,393.16 L212.40,396.18 L212.83,399.16 L213.26,402.09 L213.69,404.97 L214.12,407.80 L214.55,410.57 L214.98,413.28 L215.41,415.92 L215.84,418.51 L216.27,421.02 L216.70,423.47 L217.13,425.86 L217.56,428.18 L217.99,430.43 L218.42,432.62 L218.85,434.75 L219.28,436.81 L219.71,438.80 L220.14,440.74 L220.57,442.62 L221.00,444.44 L221.43,446.20 L221.86,447.91 L222.29,449.56 L222.72,451.16 L223.15,452.71 L223.58,454.21 L224.01,455.66 L224.44,457.06 L224.87,458.42 L225.30,459.74 L225.73,461.01 L226.16,462.25 L226.59,463.44 L227.02,464.60 L227.45,465.72 L227.88,466.80 L228.31,467.85 L228.74,468.87 L229.17,469.86 L229.60,470.81 L230.03,471.74 L230.46,472.64 L230.89,473.51 L231.32,474.35 L231.75,475.17 L232.18,475.96 L232.61,476.73 L233.04,477.47 L233.47,478.20 L233.90,478.90 L234.33,479.58 L234.76,480.25 L235.19,480.89 L235.62,481.52 L236.05,482.12 L236.48,482.71 L236.91,483.29 L237.34,483.84 L237.77,484.38 L238.20,484.91 L238.63,485.42 L239.06,485.92 L239.49,486.41 L239.92,486.88 L240.35,487.34 L240.78,487.78 L241.21,488.22 L241.64,488.64 L242.07,489.05 L242.50,489.46 L242.93,489.85 L243.36,490.23 L243.79,490.60 L244.22,490.96 L244.65,491.32 L245.08,491.66 L245.51,492.00 L245.94,492.32 L246.37,492.64 L246.80,492.96 L247.23,493.26 L247.66,493.56 L248.09,493.85 L248.52,494.13 L248.95,494.41 L249.38,494.68 L249.81,494.94 L250.24,495.20 L250.67,495.45 L251.10,495.70 L251.53,495.94 L251.96,496.18 L252.39,496.41 L252.82,496.63 L253.25,496.85 L253.68,497.07 L254.11,497.28 L254.54,497.48 L254.97,497.68 L255.40,497.88 L255.83,498.07 L256.26,498.26 L256.69,498.45 L257.12,498.63 L257.55,498.81 L257.98,498.98 L258.41,499.15 L258.84,499.32 L259.27,499.48 L259.70,499.64 L260.13,499.80 L260.56,499.95 L260.99,500.11 L261.42,500.25 L261.85,500.40 L262.28,500.54 L262.71,500.68 L263.14,500.82 L263.57,500.95 L264.00,501.08 L264.43,501.21 L264.86,501.34 L265.29,501.46 L265.72,501.59 L266.15,501.71 L266.58,501.82 L267.01,501.94 L267.44,502.05 L267.87,502.17 L268.30,502.28 L268.73,502.38 L269.16,502.49 L269.59,502.59 L270.03,502.69 L270.46,502.79 L270.89,502.89 L271.32,502.99 L271.75,503.09 L272.18,503.18 L272.61,503.27 L273.04,503.36 L273.47,503.45 L273.90,503.54 L274.33,503.62 L274.76,503.71 L275.19,503.79 L275.62,503.87 L276.05,503.95 L276.48,504.03 L276.91,504.11 L277.34,504.19 L277.77,504.26 L278.20,504.34 L278.63,504.41 L279.06,504.48 L279.49,504.55 L279.92,504.62 L280.35,504.69 L280.78,504.76 L281.21,504.83 L281.64,504.89 L282.07,504.96 L282.50,505.02 L282.93,505.08 L283.36,505.14 L283.79,505.20 L284.22,505.26 L284.65,505.32 L285.08,505.38 L285.51,505.44 L285.94,505.50 L286.37,505.55 L286.80,505.61 L287.23,505.66 L287.66,505.71 L288.09,505.77 L288.52,505.82 L288.95,505.87 L289.38,505.92 L289.81,505.97 L290.24,506.02 L290.67,506.07 L291.10,506.11 L291.53,506.16 L291.96,506.21 L292.39,506.25 L292.82,506.30 L293.25,506.34 L293.68,506.39 L294.11,506.43 L294.54,506.47 L294.97,506.51 L295.40,506.55 L295.83,506.60 L296.26,506.64 L296.69,506.68 L297.12,506.72 L297.55,506.75 L297.98,506.79 L298.41,506.83 L298.84,506.87 L299.27,506.91 L299.70,506.94 L300.13,506.98 L300.56,507.01 L300.99,507.05 L301.42,507.08 L301.85,507.12 L302.28,507.15 L302.71,507.19 L303.14,507.22 L303.57,507.25 L304.00,507.28 L304.43,507.31 L304.86,507.35 L305.29,507.38 L305.72,507.41 L306.15,507.44 L306.58,507.47 L307.01,507.50 L307.44,507.53 L307.87,507.56 L308.30,507.59 L308.73,507.61 L309.16,507.64 L309.59,507.67 L310.02,507.70 L310.45,507.72 L310.88,507.75 L311.31,507.78 L311.74,507.80 L312.17,507.83 L312.60,507.85 L312.6,510 L55.0,510 Z" fill="url(#gfill)"/>
<path d="M85.00,508.38 L85.48,508.38 L85.96,508.38 L86.44,508.37 L86.92,508.37 L87.41,508.37 L87.89,508.36 L88.37,508.36 L88.85,508.35 L89.33,508.35 L89.81,508.35 L90.29,508.34 L90.77,508.34 L91.26,508.33 L91.74,508.33 L92.22,508.32 L92.70,508.32 L93.18,508.31 L93.66,508.31 L94.14,508.30 L94.62,508.29 L95.10,508.29 L95.59,508.28 L96.07,508.28 L96.55,508.27 L97.03,508.26 L97.51,508.25 L97.99,508.25 L98.47,508.24 L98.95,508.23 L99.44,508.22 L99.92,508.21 L100.40,508.20 L100.88,508.19 L101.36,508.18 L101.84,508.17 L102.32,508.16 L102.80,508.14 L103.28,508.13 L103.77,508.11 L104.25,508.10 L104.73,508.08 L105.21,508.06 L105.69,508.04 L106.17,508.02 L106.65,508.00 L107.13,507.97 L107.62,507.95 L108.10,507.92 L108.58,507.89 L109.06,507.86 L109.54,507.82 L110.02,507.78 L110.50,507.74 L110.98,507.69 L111.46,507.65 L111.95,507.59 L112.43,507.54 L112.91,507.48 L113.39,507.41 L113.87,507.34 L114.35,507.27 L114.83,507.19 L115.31,507.10 L115.79,507.01 L116.28,506.91 L116.76,506.80 L117.24,506.69 L117.72,506.57 L118.20,506.44 L118.68,506.31 L119.16,506.17 L119.64,506.02 L120.13,505.86 L120.61,505.69 L121.09,505.51 L121.57,505.32 L122.05,505.13 L122.53,504.92 L123.01,504.71 L123.49,504.49 L123.97,504.25 L124.46,504.01 L124.94,503.76 L125.42,503.51 L125.90,503.24 L126.38,502.97 L126.86,502.68 L127.34,502.40 L127.82,502.10 L128.31,501.80 L128.79,501.50 L129.27,501.19 L129.75,500.88 L130.23,500.56 L130.71,500.25 L131.19,499.93 L131.67,499.61 L132.15,499.30 L132.64,498.99 L133.12,498.68 L133.60,498.38 L134.08,498.09 L134.56,497.80 L135.04,497.53 L135.52,497.26 L136.00,497.01 L136.49,496.77 L136.97,496.55 L137.45,496.34 L137.93,496.15 L138.41,495.98 L138.89,495.83 L139.37,495.70 L139.85,495.60 L140.33,495.51 L140.82,495.45 L141.30,495.41 L141.78,495.40 L142.26,495.41 L142.74,495.45 L143.22,495.50 L143.70,495.59 L144.18,495.69 L144.67,495.82 L145.15,495.97 L145.63,496.14 L146.11,496.32 L146.59,496.53 L147.07,496.75 L147.55,496.99 L148.03,497.24 L148.51,497.50 L149.00,497.78 L149.48,498.06 L149.96,498.36 L150.44,498.66 L150.92,498.96 L151.40,499.27 L151.88,499.59 L152.36,499.90 L152.85,500.22 L153.33,500.53 L153.81,500.85 L154.29,501.16 L154.77,501.47 L155.25,501.78 L155.73,502.08 L156.21,502.37 L156.69,502.66 L157.18,502.94 L157.66,503.22 L158.14,503.48 L158.62,503.74 L159.10,503.99 L159.58,504.23 L160.06,504.47 L160.54,504.69 L161.03,504.90 L161.51,505.11 L161.99,505.31 L162.47,505.49 L162.95,505.67 L163.43,505.84 L163.91,506.00 L164.39,506.15 L164.87,506.30 L165.36,506.43 L165.84,506.56 L166.32,506.68 L166.80,506.79 L167.28,506.90 L167.76,507.00 L168.24,507.09 L168.72,507.18 L169.21,507.26 L169.69,507.34 L170.17,507.41 L170.65,507.47 L171.13,507.53 L171.61,507.59 L172.09,507.64 L172.57,507.69 L173.05,507.74 L173.54,507.78 L174.02,507.82 L174.50,507.85 L174.98,507.89 L175.46,507.92 L175.94,507.95 L176.42,507.97 L176.90,508.00 L177.38,508.02 L177.87,508.04 L178.35,508.06 L178.83,508.08 L179.31,508.10 L179.79,508.11 L180.27,508.13 L180.75,508.14 L181.23,508.16 L181.72,508.17 L182.20,508.18 L182.68,508.19 L183.16,508.20 L183.64,508.21 L184.12,508.22 L184.60,508.23 L185.08,508.24 L185.56,508.25 L186.05,508.25 L186.53,508.26 L187.01,508.27 L187.49,508.28 L187.97,508.28 L188.45,508.29 L188.93,508.29 L189.41,508.30 L189.90,508.31 L190.38,508.31 L190.86,508.32 L191.34,508.32 L191.82,508.33 L192.30,508.33 L192.78,508.34 L193.26,508.34 L193.74,508.35 L194.23,508.35 L194.71,508.35 L195.19,508.36 L195.67,508.36 L196.15,508.37 L196.63,508.37 L197.11,508.37 L197.59,508.38 L198.08,508.38 L198.56,508.38 L199.04,508.39 L199.52,508.39 L200.00,508.39 L200,508.6 L85,508.6 Z" fill="url(#ofill)"/>
<circle cx="55.5" cy="504.7" r="2.1" fill="none" stroke="#c2c2c2" stroke-width="0.65"/>
<circle cx="58.9" cy="502" r="2.1" fill="none" stroke="#c2c2c2" stroke-width="0.65"/>
<circle cx="62.7" cy="496.1" r="2.1" fill="none" stroke="#c2c2c2" stroke-width="0.65"/>
<circle cx="66.6" cy="489.7" r="2.1" fill="none" stroke="#c2c2c2" stroke-width="0.65"/>
<circle cx="70.2" cy="496.6" r="2.1" fill="none" stroke="#c2c2c2" stroke-width="0.65"/>
<circle cx="74" cy="504.3" r="2.1" fill="none" stroke="#c2c2c2" stroke-width="0.65"/>
<circle cx="77.9" cy="481.8" r="2.1" fill="none" stroke="#c2c2c2" stroke-width="0.65"/>
<circle cx="89.1" cy="499.6" r="2.1" fill="none" stroke="#c2c2c2" stroke-width="0.65"/>
<circle cx="93.1" cy="480.1" r="2.1" fill="none" stroke="#c2c2c2" stroke-width="0.65"/>
<circle cx="96.9" cy="492.9" r="2.1" fill="none" stroke="#c2c2c2" stroke-width="0.65"/>
<circle cx="104.5" cy="491.1" r="2.1" fill="none" stroke="#c2c2c2" stroke-width="0.65"/>
<circle cx="108.3" cy="496.8" r="2.1" fill="none" stroke="#c2c2c2" stroke-width="0.65"/>
<circle cx="112.3" cy="494.5" r="2.1" fill="none" stroke="#c2c2c2" stroke-width="0.65"/>
<circle cx="116.1" cy="494.2" r="2.1" fill="none" stroke="#c2c2c2" stroke-width="0.65"/>
<circle cx="119.8" cy="486.5" r="2.1" fill="none" stroke="#c2c2c2" stroke-width="0.65"/>
<circle cx="123.6" cy="492.1" r="2.1" fill="none" stroke="#c2c2c2" stroke-width="0.65"/>
<circle cx="127.3" cy="481.6" r="2.1" fill="none" stroke="#c2c2c2" stroke-width="0.65"/>
<circle cx="131.1" cy="481.6" r="2.1" fill="none" stroke="#c2c2c2" stroke-width="0.65"/>
<circle cx="134.6" cy="491.9" r="2.1" fill="none" stroke="#c2c2c2" stroke-width="0.65"/>
<circle cx="138.6" cy="483.7" r="2.1" fill="none" stroke="#c2c2c2" stroke-width="0.65"/>
<circle cx="146.3" cy="478.5" r="2.1" fill="none" stroke="#c2c2c2" stroke-width="0.65"/>
<circle cx="150.3" cy="476.4" r="2.1" fill="none" stroke="#c2c2c2" stroke-width="0.65"/>
<circle cx="153.8" cy="484.8" r="2.1" fill="none" stroke="#c2c2c2" stroke-width="0.65"/>
<circle cx="157.5" cy="460.3" r="2.1" fill="none" stroke="#c2c2c2" stroke-width="0.65"/>
<circle cx="161.1" cy="478.4" r="2.1" fill="none" stroke="#c2c2c2" stroke-width="0.65"/>
<circle cx="164.9" cy="468.7" r="2.1" fill="none" stroke="#c2c2c2" stroke-width="0.65"/>
<circle cx="169" cy="464" r="2.1" fill="none" stroke="#c2c2c2" stroke-width="0.65"/>
<circle cx="176.2" cy="453.6" r="2.1" fill="none" stroke="#c2c2c2" stroke-width="0.65"/>
<circle cx="180.1" cy="435.2" r="2.1" fill="none" stroke="#c2c2c2" stroke-width="0.65"/>
<circle cx="184" cy="413.3" r="2.1" fill="none" stroke="#c2c2c2" stroke-width="0.65"/>
<circle cx="187.3" cy="407.3" r="2.1" fill="none" stroke="#c2c2c2" stroke-width="0.65"/>
<circle cx="191.4" cy="364.3" r="2.1" fill="none" stroke="#c2c2c2" stroke-width="0.65"/>
<circle cx="195" cy="357.3" r="2.1" fill="none" stroke="#c2c2c2" stroke-width="0.65"/>
<circle cx="203" cy="337.3" r="2.1" fill="none" stroke="#c2c2c2" stroke-width="0.65"/>
<circle cx="206.9" cy="346.3" r="2.1" fill="none" stroke="#c2c2c2" stroke-width="0.65"/>
<circle cx="211.4" cy="381.5" r="2.1" fill="none" stroke="#c2c2c2" stroke-width="0.65"/>
<circle cx="215" cy="414.7" r="2.1" fill="none" stroke="#c2c2c2" stroke-width="0.65"/>
<circle cx="244.8" cy="486.5" r="2.1" fill="none" stroke="#c2c2c2" stroke-width="0.65"/>
<circle cx="256" cy="494.2" r="2.1" fill="none" stroke="#c2c2c2" stroke-width="0.65"/>
<circle cx="260" cy="494" r="2.1" fill="none" stroke="#c2c2c2" stroke-width="0.65"/>
<circle cx="264.1" cy="498.7" r="2.1" fill="none" stroke="#c2c2c2" stroke-width="0.65"/>
<circle cx="268.2" cy="500.8" r="2.1" fill="none" stroke="#c2c2c2" stroke-width="0.65"/>
<circle cx="275.3" cy="483" r="2.1" fill="none" stroke="#c2c2c2" stroke-width="0.65"/>
<circle cx="287.1" cy="501.8" r="2.1" fill="none" stroke="#c2c2c2" stroke-width="0.65"/>
<circle cx="290.6" cy="486.5" r="2.1" fill="none" stroke="#c2c2c2" stroke-width="0.65"/>
<circle cx="294" cy="504.4" r="2.1" fill="none" stroke="#c2c2c2" stroke-width="0.65"/>
<circle cx="298.7" cy="505.4" r="2.1" fill="none" stroke="#c2c2c2" stroke-width="0.65"/>
<circle cx="301.8" cy="505.8" r="2.1" fill="none" stroke="#c2c2c2" stroke-width="0.65"/>
<circle cx="305.8" cy="500.3" r="2.1" fill="none" stroke="#c2c2c2" stroke-width="0.65"/>
<circle cx="309.5" cy="497.7" r="2.1" fill="none" stroke="#c2c2c2" stroke-width="0.65"/>
<polyline points="55.00,507.34 55.43,507.31 55.86,507.28 56.29,507.25 56.72,507.22 57.15,507.19 57.58,507.16 58.01,507.13 58.44,507.10 58.87,507.07 59.30,507.04 59.73,507.01 60.16,506.98 60.59,506.94 61.02,506.91 61.45,506.88 61.88,506.84 62.31,506.81 62.74,506.78 63.17,506.74 63.60,506.71 64.03,506.67 64.46,506.64 64.89,506.60 65.32,506.56 65.75,506.53 66.18,506.49 66.61,506.45 67.04,506.41 67.47,506.37 67.90,506.33 68.33,506.29 68.76,506.25 69.19,506.21 69.62,506.17 70.05,506.13 70.48,506.08 70.91,506.04 71.34,506.00 71.77,505.95 72.20,505.91 72.63,505.86 73.06,505.82 73.49,505.77 73.92,505.72 74.35,505.68 74.78,505.63 75.21,505.58 75.64,505.53 76.07,505.48 76.50,505.43 76.93,505.38 77.36,505.32 77.79,505.27 78.22,505.22 78.65,505.16 79.08,505.11 79.51,505.05 79.94,504.99 80.37,504.94 80.80,504.88 81.23,504.82 81.66,504.76 82.09,504.70 82.52,504.64 82.95,504.58 83.38,504.51 83.81,504.45 84.24,504.38 84.67,504.32 85.10,504.25 85.53,504.18 85.96,504.11 86.39,504.04 86.82,503.97 87.25,503.90 87.68,503.83 88.11,503.75 88.54,503.68 88.97,503.60 89.40,503.53 89.83,503.45 90.26,503.37 90.69,503.29 91.12,503.21 91.55,503.12 91.98,503.04 92.41,502.95 92.84,502.87 93.27,502.78 93.70,502.69 94.13,502.60 94.56,502.51 94.99,502.41 95.42,502.32 95.85,502.22 96.28,502.12 96.71,502.02 97.14,501.92 97.57,501.82 98.01,501.72 98.44,501.61 98.87,501.51 99.30,501.40 99.73,501.29 100.16,501.17 100.59,501.06 101.02,500.95 101.45,500.83 101.88,500.71 102.31,500.59 102.74,500.47 103.17,500.34 103.60,500.22 104.03,500.09 104.46,499.96 104.89,499.83 105.32,499.69 105.75,499.56 106.18,499.42 106.61,499.28 107.04,499.14 107.47,498.99 107.90,498.84 108.33,498.70 108.76,498.55 109.19,498.39 109.62,498.24 110.05,498.08 110.48,497.92 110.91,497.76 111.34,497.59 111.77,497.43 112.20,497.26 112.63,497.09 113.06,496.92 113.49,496.74 113.92,496.56 114.35,496.38 114.78,496.20 115.21,496.01 115.64,495.83 116.07,495.64 116.50,495.45 116.93,495.25 117.36,495.06 117.79,494.86 118.22,494.66 118.65,494.46 119.08,494.25 119.51,494.04 119.94,493.84 120.37,493.62 120.80,493.41 121.23,493.20 121.66,492.98 122.09,492.76 122.52,492.54 122.95,492.32 123.38,492.10 123.81,491.88 124.24,491.65 124.67,491.42 125.10,491.20 125.53,490.97 125.96,490.74 126.39,490.51 126.82,490.28 127.25,490.05 127.68,489.82 128.11,489.58 128.54,489.35 128.97,489.12 129.40,488.89 129.83,488.66 130.26,488.43 130.69,488.20 131.12,487.97 131.55,487.75 131.98,487.52 132.41,487.30 132.84,487.07 133.27,486.85 133.70,486.63 134.13,486.42 134.56,486.20 134.99,485.99 135.42,485.78 135.85,485.58 136.28,485.37 136.71,485.17 137.14,484.98 137.57,484.78 138.00,484.59 138.43,484.40 138.86,484.22 139.29,484.04 139.72,483.86 140.15,483.69 140.58,483.52 141.01,483.35 141.44,483.19 141.87,483.03 142.30,482.88 142.73,482.74 143.16,482.62 143.59,482.52 144.02,482.44 144.45,482.38 144.88,482.33 145.31,482.30 145.74,482.29 146.17,482.29 146.60,482.30 147.03,482.33 147.46,482.36 147.89,482.40 148.32,482.45 148.75,482.50 149.18,482.55 149.61,482.61 150.04,482.66 150.47,482.72 150.90,482.77 151.33,482.82 151.76,482.86 152.19,482.90 152.62,482.93 153.05,482.96 153.48,482.97 153.91,482.97 154.34,482.97 154.77,482.95 155.20,482.92 155.63,482.88 156.06,482.83 156.49,482.77 156.92,482.69 157.35,482.59 157.78,482.49 158.21,482.36 158.64,482.23 159.07,482.07 159.50,481.91 159.93,481.72 160.36,481.52 160.79,481.31 161.22,481.08 161.65,480.83 162.08,480.56 162.51,480.28 162.94,479.97 163.37,479.65 163.80,479.32 164.23,478.96 164.66,478.58 165.09,478.19 165.52,477.77 165.95,477.34 166.38,476.88 166.81,476.40 167.24,475.90 167.67,475.38 168.10,474.84 168.53,474.27 168.96,473.68 169.39,473.06 169.82,472.42 170.25,471.76 170.68,471.06 171.11,470.34 171.54,469.59 171.97,468.81 172.40,468.00 172.83,467.16 173.26,466.29 173.69,465.39 174.12,464.45 174.55,463.48 174.98,462.47 175.41,461.42 175.84,460.34 176.27,459.21 176.70,458.05 177.13,456.84 177.56,455.59 177.99,454.29 178.42,452.95 178.85,451.56 179.28,450.12 179.71,448.63 180.14,447.09 180.57,445.49 181.00,443.84 181.43,442.13 181.86,440.36 182.29,438.54 182.72,436.65 183.15,434.70 183.58,432.69 184.02,430.61 184.45,428.47 184.88,426.26 185.31,423.98 185.74,421.64 186.17,419.23 186.60,416.76 187.03,414.22 187.46,411.61 187.89,408.94 188.32,406.21 188.75,403.42 189.18,400.57 189.61,397.68 190.04,394.73 190.47,391.74 190.90,388.72 191.33,385.67 191.76,382.59 192.19,379.51 192.62,376.42 193.05,373.34 193.48,370.29 193.91,367.27 194.34,364.29 194.77,361.38 195.20,358.55 195.63,355.82 196.06,353.19 196.49,350.70 196.92,348.35 197.35,346.16 197.78,344.15 198.21,342.34 198.64,340.73 199.07,339.35 199.50,338.20 199.93,337.30 200.36,336.65 200.79,336.26 201.22,336.13 201.65,336.26 202.08,336.66 202.51,337.31 202.94,338.22 203.37,339.38 203.80,340.77 204.23,342.38 204.66,344.21 205.09,346.23 205.52,348.43 205.95,350.80 206.38,353.31 206.81,355.96 207.24,358.72 207.67,361.57 208.10,364.51 208.53,367.51 208.96,370.56 209.39,373.65 209.82,376.76 210.25,379.89 210.68,383.01 211.11,386.12 211.54,389.21 211.97,392.28 212.40,395.31 212.83,398.30 213.26,401.24 213.69,404.13 214.12,406.97 214.55,409.75 214.98,412.47 215.41,415.12 215.84,417.71 216.27,420.24 216.70,422.70 217.13,425.09 217.56,427.42 217.99,429.68 218.42,431.88 218.85,434.01 219.28,436.08 219.71,438.08 220.14,440.03 220.57,441.91 221.00,443.74 221.43,445.51 221.86,447.22 222.29,448.88 222.72,450.49 223.15,452.04 223.58,453.55 224.01,455.01 224.44,456.42 224.87,457.79 225.30,459.11 225.73,460.39 226.16,461.63 226.59,462.83 227.02,463.99 227.45,465.12 227.88,466.21 228.31,467.27 228.74,468.29 229.17,469.28 229.60,470.24 230.03,471.17 230.46,472.07 230.89,472.95 231.32,473.80 231.75,474.62 232.18,475.42 232.61,476.19 233.04,476.94 233.47,477.67 233.90,478.38 234.33,479.07 234.76,479.74 235.19,480.38 235.62,481.01 236.05,481.62 236.48,482.22 236.91,482.80 237.34,483.36 237.77,483.90 238.20,484.43 238.63,484.95 239.06,485.45 239.49,485.94 239.92,486.42 240.35,486.88 240.78,487.33 241.21,487.77 241.64,488.20 242.07,488.61 242.50,489.02 242.93,489.41 243.36,489.80 243.79,490.17 244.22,490.54 244.65,490.90 245.08,491.24 245.51,491.58 245.94,491.91 246.37,492.24 246.80,492.55 247.23,492.86 247.66,493.16 248.09,493.45 248.52,493.74 248.95,494.02 249.38,494.29 249.81,494.56 250.24,494.82 250.67,495.08 251.10,495.33 251.53,495.57 251.96,495.81 252.39,496.04 252.82,496.27 253.25,496.49 253.68,496.71 254.11,496.92 254.54,497.13 254.97,497.34 255.40,497.54 255.83,497.73 256.26,497.92 256.69,498.11 257.12,498.30 257.55,498.48 257.98,498.65 258.41,498.82 258.84,498.99 259.27,499.16 259.70,499.32 260.13,499.48 260.56,499.64 260.99,499.79 261.42,499.94 261.85,500.09 262.28,500.23 262.71,500.38 263.14,500.51 263.57,500.65 264.00,500.78 264.43,500.92 264.86,501.05 265.29,501.17 265.72,501.30 266.15,501.42 266.58,501.54 267.01,501.66 267.44,501.77 267.87,501.88 268.30,502.00 268.73,502.11 269.16,502.21 269.59,502.32 270.03,502.42 270.46,502.52 270.89,502.62 271.32,502.72 271.75,502.82 272.18,502.92 272.61,503.01 273.04,503.10 273.47,503.19 273.90,503.28 274.33,503.37 274.76,503.45 275.19,503.54 275.62,503.62 276.05,503.71 276.48,503.79 276.91,503.87 277.34,503.94 277.77,504.02 278.20,504.10 278.63,504.17 279.06,504.24 279.49,504.32 279.92,504.39 280.35,504.46 280.78,504.53 281.21,504.60 281.64,504.66 282.07,504.73 282.50,504.79 282.93,504.86 283.36,504.92 283.79,504.98 284.22,505.04 284.65,505.10 285.08,505.16 285.51,505.22 285.94,505.28 286.37,505.34 286.80,505.39 287.23,505.45 287.66,505.50 288.09,505.56 288.52,505.61 288.95,505.66 289.38,505.71 289.81,505.76 290.24,505.81 290.67,505.86 291.10,505.91 291.53,505.96 291.96,506.01 292.39,506.05 292.82,506.10 293.25,506.15 293.68,506.19 294.11,506.23 294.54,506.28 294.97,506.32 295.40,506.36 295.83,506.41 296.26,506.45 296.69,506.49 297.12,506.53 297.55,506.57 297.98,506.61 298.41,506.65 298.84,506.69 299.27,506.72 299.70,506.76 300.13,506.80 300.56,506.84 300.99,506.87 301.42,506.91 301.85,506.94 302.28,506.98 302.71,507.01 303.14,507.05 303.57,507.08 304.00,507.11 304.43,507.15 304.86,507.18 305.29,507.21 305.72,507.24 306.15,507.27 306.58,507.30 307.01,507.33 307.44,507.36 307.87,507.39 308.30,507.42 308.73,507.45 309.16,507.48 309.59,507.51 310.02,507.54 310.45,507.57 310.88,507.59 311.31,507.62 311.74,507.65 312.17,507.67 312.60,507.70" fill="none" stroke="#62a8d4" stroke-width="1.0"/>
<rect x="54.5" y="308" width="258.6" height="202.8" fill="none" stroke="#1e1e1e" stroke-width="1.3"/>
<line x1="84.8" y1="510.8" x2="84.8" y2="514.8" stroke="#1e1e1e" stroke-width="1.2"/>
<text x="84.80" y="526.10" font-size="11.8" text-anchor="middle" font-family="Liberation Sans, sans-serif" stroke="#222" stroke-width="0.2" paint-order="stroke" fill="#222" textLength="24.47" lengthAdjust="spacingAndGlyphs">7032</text>
<line x1="136.448" y1="510.8" x2="136.448" y2="514.8" stroke="#1e1e1e" stroke-width="1.2"/>
<text x="136.45" y="526.10" font-size="11.8" text-anchor="middle" font-family="Liberation Sans, sans-serif" stroke="#222" stroke-width="0.2" paint-order="stroke" fill="#222" textLength="24.47" lengthAdjust="spacingAndGlyphs">7044</text>
<line x1="188.096" y1="510.8" x2="188.096" y2="514.8" stroke="#1e1e1e" stroke-width="1.2"/>
<text x="188.10" y="526.10" font-size="11.8" text-anchor="middle" font-family="Liberation Sans, sans-serif" stroke="#222" stroke-width="0.2" paint-order="stroke" fill="#222" textLength="24.47" lengthAdjust="spacingAndGlyphs">7056</text>
<line x1="239.74400000000003" y1="510.8" x2="239.74400000000003" y2="514.8" stroke="#1e1e1e" stroke-width="1.2"/>
<text x="239.74" y="526.10" font-size="11.8" text-anchor="middle" font-family="Liberation Sans, sans-serif" stroke="#222" stroke-width="0.2" paint-order="stroke" fill="#222" textLength="24.47" lengthAdjust="spacingAndGlyphs">7068</text>
<line x1="291.392" y1="510.8" x2="291.392" y2="514.8" stroke="#1e1e1e" stroke-width="1.2"/>
<text x="291.39" y="526.10" font-size="11.8" text-anchor="middle" font-family="Liberation Sans, sans-serif" stroke="#222" stroke-width="0.2" paint-order="stroke" fill="#222" textLength="24.47" lengthAdjust="spacingAndGlyphs">7080</text>
<line x1="58.976" y1="510.8" x2="58.976" y2="512.8" stroke="#1e1e1e" stroke-width="1.1"/>
<line x1="110.624" y1="510.8" x2="110.624" y2="512.8" stroke="#1e1e1e" stroke-width="1.1"/>
<line x1="162.272" y1="510.8" x2="162.272" y2="512.8" stroke="#1e1e1e" stroke-width="1.1"/>
<line x1="213.92000000000002" y1="510.8" x2="213.92000000000002" y2="512.8" stroke="#1e1e1e" stroke-width="1.1"/>
<line x1="265.568" y1="510.8" x2="265.568" y2="512.8" stroke="#1e1e1e" stroke-width="1.1"/>
<text x="184.3" y="545.7" font-size="13" text-anchor="middle" font-family="Liberation Sans, sans-serif" stroke="#222" stroke-width="0.2" paint-order="stroke" fill="#222" textLength="68.5" lengthAdjust="spacingAndGlyphs">Energy (eV)</text>
<text transform="translate(45.7,408.3) rotate(-90)" font-size="13.2" text-anchor="middle" font-family="Liberation Sans, sans-serif" stroke="#222" stroke-width="0.2" paint-order="stroke" fill="#222" textLength="83" lengthAdjust="spacingAndGlyphs">Intensity (a.u.)</text>
<text x="63.6" y="334.6" font-size="10.6" font-family="Liberation Sans, sans-serif" stroke="#222" stroke-width="0.2" paint-order="stroke" fill="#222">A(<tspan font-style="italic">Kβ'</tspan>) / A(<tspan font-style="italic">Kβ</tspan>) = 0.098</text>
<text x="260.4" y="323.6" font-size="10.6" font-family="Liberation Sans, sans-serif" stroke="#222" stroke-width="0.2" paint-order="stroke" fill="#222">Fe-TiO<tspan font-size="7.5" dy="3">2</tspan></text>
<text x="220" y="350.9" font-size="11" font-style="italic" font-family="Liberation Sans, sans-serif" stroke="#222" stroke-width="0.2" paint-order="stroke" fill="#222">Kβ<tspan font-size="7.6" dy="3" fill="#444">1,3</tspan></text>
<text x="117.5" y="469.9" font-size="11" font-style="italic" font-family="Liberation Sans, sans-serif" stroke="#222" stroke-width="0.2" paint-order="stroke" fill="#222">Kβ'</text>
<rect x="387.2" y="304.7" width="292" height="226.0" fill="#bdbdbd" filter="url(#sh)"/>
<rect x="386" y="303.5" width="292" height="226.0" fill="#fff" stroke="#d6d6d6" stroke-width="1"/>
<g clip-path="url(#dclip)">
<line x1="381.91" y1="296.75" x2="395.55" y2="296.75" stroke="#8ac8e4" stroke-width="2.8"/>
<line x1="395.55" y1="296.75" x2="409.20" y2="296.75" stroke="#e3222c" stroke-width="2.8"/>
<line x1="381.91" y1="296.75" x2="381.91" y2="316.56" stroke="#8ac8e4" stroke-width="2.8"/>
<line x1="381.91" y1="316.56" x2="381.91" y2="330.90" stroke="#e3222c" stroke-width="2.8"/>
<line x1="409.20" y1="296.75" x2="422.85" y2="296.75" stroke="#e3222c" stroke-width="2.8"/>
<line x1="422.85" y1="296.75" x2="436.49" y2="296.75" stroke="#8ac8e4" stroke-width="2.8"/>
<line x1="409.20" y1="296.75" x2="409.20" y2="311.09" stroke="#e3222c" stroke-width="2.8"/>
<line x1="409.20" y1="311.09" x2="409.20" y2="330.90" stroke="#8ac8e4" stroke-width="2.8"/>
<line x1="436.49" y1="296.75" x2="450.13" y2="296.75" stroke="#8ac8e4" stroke-width="2.8"/>
<line x1="450.13" y1="296.75" x2="463.78" y2="296.75" stroke="#e3222c" stroke-width="2.8"/>
<line x1="436.49" y1="296.75" x2="436.49" y2="316.56" stroke="#8ac8e4" stroke-width="2.8"/>
<line x1="436.49" y1="316.56" x2="436.49" y2="330.90" stroke="#e3222c" stroke-width="2.8"/>
<line x1="463.78" y1="296.75" x2="477.42" y2="296.75" stroke="#e3222c" stroke-width="2.8"/>
<line x1="477.42" y1="296.75" x2="491.07" y2="296.75" stroke="#8ac8e4" stroke-width="2.8"/>
<line x1="463.78" y1="296.75" x2="463.78" y2="311.09" stroke="#e3222c" stroke-width="2.8"/>
<line x1="463.78" y1="311.09" x2="463.78" y2="330.90" stroke="#8ac8e4" stroke-width="2.8"/>
<line x1="491.07" y1="296.75" x2="504.72" y2="296.75" stroke="#8ac8e4" stroke-width="2.8"/>
<line x1="504.72" y1="296.75" x2="518.36" y2="296.75" stroke="#e3222c" stroke-width="2.8"/>
<line x1="491.07" y1="296.75" x2="491.07" y2="316.56" stroke="#8ac8e4" stroke-width="2.8"/>
<line x1="491.07" y1="316.56" x2="491.07" y2="330.90" stroke="#e3222c" stroke-width="2.8"/>
<line x1="518.36" y1="296.75" x2="532.00" y2="296.75" stroke="#e3222c" stroke-width="2.8"/>
<line x1="532.00" y1="296.75" x2="545.65" y2="296.75" stroke="#8ac8e4" stroke-width="2.8"/>
<line x1="518.36" y1="296.75" x2="518.36" y2="311.09" stroke="#e3222c" stroke-width="2.8"/>
<line x1="518.36" y1="311.09" x2="518.36" y2="330.90" stroke="#8ac8e4" stroke-width="2.8"/>
<line x1="545.65" y1="296.75" x2="559.30" y2="296.75" stroke="#8ac8e4" stroke-width="2.8"/>
<line x1="559.30" y1="296.75" x2="572.94" y2="296.75" stroke="#e3222c" stroke-width="2.8"/>
<line x1="545.65" y1="296.75" x2="545.65" y2="316.56" stroke="#8ac8e4" stroke-width="2.8"/>
<line x1="545.65" y1="316.56" x2="545.65" y2="330.90" stroke="#e3222c" stroke-width="2.8"/>
<line x1="572.94" y1="296.75" x2="586.59" y2="296.75" stroke="#e3222c" stroke-width="2.8"/>
<line x1="586.59" y1="296.75" x2="600.23" y2="296.75" stroke="#8ac8e4" stroke-width="2.8"/>
<line x1="572.94" y1="296.75" x2="572.94" y2="311.09" stroke="#e3222c" stroke-width="2.8"/>
<line x1="572.94" y1="311.09" x2="572.94" y2="330.90" stroke="#8ac8e4" stroke-width="2.8"/>
<line x1="600.23" y1="296.75" x2="613.88" y2="296.75" stroke="#8ac8e4" stroke-width="2.8"/>
<line x1="613.88" y1="296.75" x2="627.52" y2="296.75" stroke="#e3222c" stroke-width="2.8"/>
<line x1="600.23" y1="296.75" x2="600.23" y2="316.56" stroke="#8ac8e4" stroke-width="2.8"/>
<line x1="600.23" y1="316.56" x2="600.23" y2="330.90" stroke="#e3222c" stroke-width="2.8"/>
<line x1="627.52" y1="296.75" x2="641.16" y2="296.75" stroke="#e3222c" stroke-width="2.8"/>
<line x1="641.16" y1="296.75" x2="654.81" y2="296.75" stroke="#8ac8e4" stroke-width="2.8"/>
<line x1="627.52" y1="296.75" x2="627.52" y2="311.09" stroke="#e3222c" stroke-width="2.8"/>
<line x1="627.52" y1="311.09" x2="627.52" y2="330.90" stroke="#8ac8e4" stroke-width="2.8"/>
<line x1="654.81" y1="296.75" x2="668.45" y2="296.75" stroke="#8ac8e4" stroke-width="2.8"/>
<line x1="668.45" y1="296.75" x2="682.10" y2="296.75" stroke="#e3222c" stroke-width="2.8"/>
<line x1="654.81" y1="296.75" x2="654.81" y2="316.56" stroke="#8ac8e4" stroke-width="2.8"/>
<line x1="654.81" y1="316.56" x2="654.81" y2="330.90" stroke="#e3222c" stroke-width="2.8"/>
<line x1="682.10" y1="296.75" x2="695.74" y2="296.75" stroke="#e3222c" stroke-width="2.8"/>
<line x1="695.74" y1="296.75" x2="709.39" y2="296.75" stroke="#8ac8e4" stroke-width="2.8"/>
<line x1="682.10" y1="296.75" x2="682.10" y2="311.09" stroke="#e3222c" stroke-width="2.8"/>
<line x1="682.10" y1="311.09" x2="682.10" y2="330.90" stroke="#8ac8e4" stroke-width="2.8"/>
<line x1="381.91" y1="330.90" x2="395.55" y2="330.90" stroke="#e3222c" stroke-width="2.8"/>
<line x1="395.55" y1="330.90" x2="409.20" y2="330.90" stroke="#8ac8e4" stroke-width="2.8"/>
<line x1="381.91" y1="330.90" x2="381.91" y2="345.24" stroke="#e3222c" stroke-width="2.8"/>
<line x1="381.91" y1="345.24" x2="381.91" y2="365.05" stroke="#8ac8e4" stroke-width="2.8"/>
<line x1="409.20" y1="330.90" x2="422.85" y2="330.90" stroke="#8ac8e4" stroke-width="2.8"/>
<line x1="422.85" y1="330.90" x2="436.49" y2="330.90" stroke="#e3222c" stroke-width="2.8"/>
<line x1="409.20" y1="330.90" x2="409.20" y2="350.71" stroke="#8ac8e4" stroke-width="2.8"/>
<line x1="409.20" y1="350.71" x2="409.20" y2="365.05" stroke="#e3222c" stroke-width="2.8"/>
<line x1="436.49" y1="330.90" x2="450.13" y2="330.90" stroke="#e3222c" stroke-width="2.8"/>
<line x1="450.13" y1="330.90" x2="463.78" y2="330.90" stroke="#8ac8e4" stroke-width="2.8"/>
<line x1="436.49" y1="330.90" x2="436.49" y2="345.24" stroke="#e3222c" stroke-width="2.8"/>
<line x1="436.49" y1="345.24" x2="436.49" y2="365.05" stroke="#8ac8e4" stroke-width="2.8"/>
<line x1="463.78" y1="330.90" x2="477.42" y2="330.90" stroke="#8ac8e4" stroke-width="2.8"/>
<line x1="477.42" y1="330.90" x2="491.07" y2="330.90" stroke="#e3222c" stroke-width="2.8"/>
<line x1="463.78" y1="330.90" x2="463.78" y2="350.71" stroke="#8ac8e4" stroke-width="2.8"/>
<line x1="463.78" y1="350.71" x2="463.78" y2="365.05" stroke="#e3222c" stroke-width="2.8"/>
<line x1="491.07" y1="330.90" x2="504.72" y2="330.90" stroke="#e3222c" stroke-width="2.8"/>
<line x1="504.72" y1="330.90" x2="518.36" y2="330.90" stroke="#8ac8e4" stroke-width="2.8"/>
<line x1="491.07" y1="330.90" x2="491.07" y2="345.24" stroke="#e3222c" stroke-width="2.8"/>
<line x1="491.07" y1="345.24" x2="491.07" y2="365.05" stroke="#8ac8e4" stroke-width="2.8"/>
<line x1="518.36" y1="330.90" x2="532.00" y2="330.90" stroke="#8ac8e4" stroke-width="2.8"/>
<line x1="532.00" y1="330.90" x2="545.65" y2="330.90" stroke="#e3222c" stroke-width="2.8"/>
<line x1="518.36" y1="330.90" x2="518.36" y2="350.71" stroke="#8ac8e4" stroke-width="2.8"/>
<line x1="518.36" y1="350.71" x2="518.36" y2="365.05" stroke="#e3222c" stroke-width="2.8"/>
<line x1="545.65" y1="330.90" x2="559.30" y2="330.90" stroke="#e3222c" stroke-width="2.8"/>
<line x1="559.30" y1="330.90" x2="572.94" y2="330.90" stroke="#8ac8e4" stroke-width="2.8"/>
<line x1="545.65" y1="330.90" x2="545.65" y2="345.24" stroke="#e3222c" stroke-width="2.8"/>
<line x1="545.65" y1="345.24" x2="545.65" y2="365.05" stroke="#8ac8e4" stroke-width="2.8"/>
<line x1="572.94" y1="330.90" x2="586.59" y2="330.90" stroke="#8ac8e4" stroke-width="2.8"/>
<line x1="586.59" y1="330.90" x2="600.23" y2="330.90" stroke="#e3222c" stroke-width="2.8"/>
<line x1="572.94" y1="330.90" x2="572.94" y2="350.71" stroke="#8ac8e4" stroke-width="2.8"/>
<line x1="572.94" y1="350.71" x2="572.94" y2="365.05" stroke="#e3222c" stroke-width="2.8"/>
<line x1="600.23" y1="330.90" x2="613.88" y2="330.90" stroke="#e3222c" stroke-width="2.8"/>
<line x1="613.88" y1="330.90" x2="627.52" y2="330.90" stroke="#8ac8e4" stroke-width="2.8"/>
<line x1="600.23" y1="330.90" x2="600.23" y2="345.24" stroke="#e3222c" stroke-width="2.8"/>
<line x1="600.23" y1="345.24" x2="600.23" y2="365.05" stroke="#8ac8e4" stroke-width="2.8"/>
<line x1="627.52" y1="330.90" x2="641.16" y2="330.90" stroke="#8ac8e4" stroke-width="2.8"/>
<line x1="641.16" y1="330.90" x2="654.81" y2="330.90" stroke="#e3222c" stroke-width="2.8"/>
<line x1="627.52" y1="330.90" x2="627.52" y2="350.71" stroke="#8ac8e4" stroke-width="2.8"/>
<line x1="627.52" y1="350.71" x2="627.52" y2="365.05" stroke="#e3222c" stroke-width="2.8"/>
<line x1="654.81" y1="330.90" x2="668.45" y2="330.90" stroke="#e3222c" stroke-width="2.8"/>
<line x1="668.45" y1="330.90" x2="682.10" y2="330.90" stroke="#8ac8e4" stroke-width="2.8"/>
<line x1="654.81" y1="330.90" x2="654.81" y2="345.24" stroke="#e3222c" stroke-width="2.8"/>
<line x1="654.81" y1="345.24" x2="654.81" y2="365.05" stroke="#8ac8e4" stroke-width="2.8"/>
<line x1="682.10" y1="330.90" x2="695.74" y2="330.90" stroke="#8ac8e4" stroke-width="2.8"/>
<line x1="695.74" y1="330.90" x2="709.39" y2="330.90" stroke="#e3222c" stroke-width="2.8"/>
<line x1="682.10" y1="330.90" x2="682.10" y2="350.71" stroke="#8ac8e4" stroke-width="2.8"/>
<line x1="682.10" y1="350.71" x2="682.10" y2="365.05" stroke="#e3222c" stroke-width="2.8"/>
<line x1="381.91" y1="365.05" x2="395.55" y2="365.05" stroke="#8ac8e4" stroke-width="2.8"/>
<line x1="395.55" y1="365.05" x2="409.20" y2="365.05" stroke="#e3222c" stroke-width="2.8"/>
<line x1="381.91" y1="365.05" x2="381.91" y2="384.86" stroke="#8ac8e4" stroke-width="2.8"/>
<line x1="381.91" y1="384.86" x2="381.91" y2="399.20" stroke="#e3222c" stroke-width="2.8"/>
<line x1="409.20" y1="365.05" x2="422.85" y2="365.05" stroke="#e3222c" stroke-width="2.8"/>
<line x1="422.85" y1="365.05" x2="436.49" y2="365.05" stroke="#8ac8e4" stroke-width="2.8"/>
<line x1="409.20" y1="365.05" x2="409.20" y2="379.39" stroke="#e3222c" stroke-width="2.8"/>
<line x1="409.20" y1="379.39" x2="409.20" y2="399.20" stroke="#8ac8e4" stroke-width="2.8"/>
<line x1="436.49" y1="365.05" x2="450.13" y2="365.05" stroke="#8ac8e4" stroke-width="2.8"/>
<line x1="450.13" y1="365.05" x2="463.78" y2="365.05" stroke="#e3222c" stroke-width="2.8"/>
<line x1="436.49" y1="365.05" x2="436.49" y2="384.86" stroke="#8ac8e4" stroke-width="2.8"/>
<line x1="436.49" y1="384.86" x2="436.49" y2="399.20" stroke="#e3222c" stroke-width="2.8"/>
<line x1="463.78" y1="365.05" x2="477.42" y2="365.05" stroke="#e3222c" stroke-width="2.8"/>
<line x1="477.42" y1="365.05" x2="491.07" y2="365.05" stroke="#8ac8e4" stroke-width="2.8"/>
<line x1="463.78" y1="365.05" x2="463.78" y2="379.39" stroke="#e3222c" stroke-width="2.8"/>
<line x1="463.78" y1="379.39" x2="463.78" y2="399.20" stroke="#8ac8e4" stroke-width="2.8"/>
<line x1="491.07" y1="365.05" x2="504.72" y2="365.05" stroke="#8ac8e4" stroke-width="2.8"/>
<line x1="504.72" y1="365.05" x2="518.36" y2="365.05" stroke="#e3222c" stroke-width="2.8"/>
<line x1="491.07" y1="365.05" x2="491.07" y2="384.86" stroke="#8ac8e4" stroke-width="2.8"/>
<line x1="491.07" y1="384.86" x2="491.07" y2="399.20" stroke="#e3222c" stroke-width="2.8"/>
<line x1="518.36" y1="365.05" x2="532.00" y2="365.05" stroke="#e3222c" stroke-width="2.8"/>
<line x1="532.00" y1="365.05" x2="545.65" y2="365.05" stroke="#8ac8e4" stroke-width="2.8"/>
<line x1="518.36" y1="365.05" x2="518.36" y2="379.39" stroke="#e3222c" stroke-width="2.8"/>
<line x1="518.36" y1="379.39" x2="518.36" y2="399.20" stroke="#8ac8e4" stroke-width="2.8"/>
<line x1="545.65" y1="365.05" x2="559.30" y2="365.05" stroke="#8ac8e4" stroke-width="2.8"/>
<line x1="559.30" y1="365.05" x2="572.94" y2="365.05" stroke="#e3222c" stroke-width="2.8"/>
<line x1="545.65" y1="365.05" x2="545.65" y2="384.86" stroke="#8ac8e4" stroke-width="2.8"/>
<line x1="545.65" y1="384.86" x2="545.65" y2="399.20" stroke="#e3222c" stroke-width="2.8"/>
<line x1="572.94" y1="365.05" x2="586.59" y2="365.05" stroke="#e3222c" stroke-width="2.8"/>
<line x1="586.59" y1="365.05" x2="600.23" y2="365.05" stroke="#8ac8e4" stroke-width="2.8"/>
<line x1="572.94" y1="365.05" x2="572.94" y2="379.39" stroke="#e3222c" stroke-width="2.8"/>
<line x1="572.94" y1="379.39" x2="572.94" y2="399.20" stroke="#8ac8e4" stroke-width="2.8"/>
<line x1="600.23" y1="365.05" x2="613.88" y2="365.05" stroke="#8ac8e4" stroke-width="2.8"/>
<line x1="613.88" y1="365.05" x2="627.52" y2="365.05" stroke="#e3222c" stroke-width="2.8"/>
<line x1="600.23" y1="365.05" x2="600.23" y2="384.86" stroke="#8ac8e4" stroke-width="2.8"/>
<line x1="600.23" y1="384.86" x2="600.23" y2="399.20" stroke="#e3222c" stroke-width="2.8"/>
<line x1="627.52" y1="365.05" x2="641.16" y2="365.05" stroke="#e3222c" stroke-width="2.8"/>
<line x1="641.16" y1="365.05" x2="654.81" y2="365.05" stroke="#8ac8e4" stroke-width="2.8"/>
<line x1="627.52" y1="365.05" x2="627.52" y2="379.39" stroke="#e3222c" stroke-width="2.8"/>
<line x1="627.52" y1="379.39" x2="627.52" y2="399.20" stroke="#8ac8e4" stroke-width="2.8"/>
<line x1="654.81" y1="365.05" x2="668.45" y2="365.05" stroke="#8ac8e4" stroke-width="2.8"/>
<line x1="668.45" y1="365.05" x2="682.10" y2="365.05" stroke="#e3222c" stroke-width="2.8"/>
<line x1="654.81" y1="365.05" x2="654.81" y2="384.86" stroke="#8ac8e4" stroke-width="2.8"/>
<line x1="654.81" y1="384.86" x2="654.81" y2="399.20" stroke="#e3222c" stroke-width="2.8"/>
<line x1="682.10" y1="365.05" x2="695.74" y2="365.05" stroke="#e3222c" stroke-width="2.8"/>
<line x1="695.74" y1="365.05" x2="709.39" y2="365.05" stroke="#8ac8e4" stroke-width="2.8"/>
<line x1="682.10" y1="365.05" x2="682.10" y2="379.39" stroke="#e3222c" stroke-width="2.8"/>
<line x1="682.10" y1="379.39" x2="682.10" y2="399.20" stroke="#8ac8e4" stroke-width="2.8"/>
<line x1="381.91" y1="399.20" x2="395.55" y2="399.20" stroke="#e3222c" stroke-width="2.8"/>
<line x1="395.55" y1="399.20" x2="409.20" y2="399.20" stroke="#8ac8e4" stroke-width="2.8"/>
<line x1="381.91" y1="399.20" x2="381.91" y2="413.54" stroke="#e3222c" stroke-width="2.8"/>
<line x1="381.91" y1="413.54" x2="381.91" y2="433.35" stroke="#8ac8e4" stroke-width="2.8"/>
<line x1="409.20" y1="399.20" x2="422.85" y2="399.20" stroke="#8ac8e4" stroke-width="2.8"/>
<line x1="422.85" y1="399.20" x2="436.49" y2="399.20" stroke="#e3222c" stroke-width="2.8"/>
<line x1="409.20" y1="399.20" x2="409.20" y2="419.01" stroke="#8ac8e4" stroke-width="2.8"/>
<line x1="409.20" y1="419.01" x2="409.20" y2="433.35" stroke="#e3222c" stroke-width="2.8"/>
<line x1="436.49" y1="399.20" x2="450.13" y2="399.20" stroke="#e3222c" stroke-width="2.8"/>
<line x1="450.13" y1="399.20" x2="463.78" y2="399.20" stroke="#8ac8e4" stroke-width="2.8"/>
<line x1="436.49" y1="399.20" x2="436.49" y2="413.54" stroke="#e3222c" stroke-width="2.8"/>
<line x1="436.49" y1="413.54" x2="436.49" y2="433.35" stroke="#8ac8e4" stroke-width="2.8"/>
<line x1="463.78" y1="399.20" x2="477.42" y2="399.20" stroke="#8ac8e4" stroke-width="2.8"/>
<line x1="477.42" y1="399.20" x2="491.07" y2="399.20" stroke="#e3222c" stroke-width="2.8"/>
<line x1="463.78" y1="399.20" x2="463.78" y2="419.01" stroke="#8ac8e4" stroke-width="2.8"/>
<line x1="463.78" y1="419.01" x2="463.78" y2="433.35" stroke="#e3222c" stroke-width="2.8"/>
<line x1="491.07" y1="399.20" x2="504.72" y2="399.20" stroke="#e3222c" stroke-width="2.8"/>
<line x1="504.72" y1="399.20" x2="518.36" y2="399.20" stroke="#8ac8e4" stroke-width="2.8"/>
<line x1="491.07" y1="399.20" x2="491.07" y2="413.54" stroke="#e3222c" stroke-width="2.8"/>
<line x1="491.07" y1="413.54" x2="491.07" y2="433.35" stroke="#e3222c" stroke-width="2.8"/>
<line x1="518.36" y1="399.20" x2="532.00" y2="399.20" stroke="#8ac8e4" stroke-width="2.8"/>
<line x1="532.00" y1="399.20" x2="545.65" y2="399.20" stroke="#e3222c" stroke-width="2.8"/>
<line x1="518.36" y1="399.20" x2="518.36" y2="419.01" stroke="#8ac8e4" stroke-width="2.8"/>
<line x1="518.36" y1="419.01" x2="518.36" y2="433.35" stroke="#e3222c" stroke-width="2.8"/>
<line x1="545.65" y1="399.20" x2="559.30" y2="399.20" stroke="#e3222c" stroke-width="2.8"/>
<line x1="559.30" y1="399.20" x2="572.94" y2="399.20" stroke="#8ac8e4" stroke-width="2.8"/>
<line x1="545.65" y1="399.20" x2="545.65" y2="413.54" stroke="#e3222c" stroke-width="2.8"/>
<line x1="545.65" y1="413.54" x2="545.65" y2="433.35" stroke="#8ac8e4" stroke-width="2.8"/>
<line x1="572.94" y1="399.20" x2="586.59" y2="399.20" stroke="#8ac8e4" stroke-width="2.8"/>
<line x1="586.59" y1="399.20" x2="600.23" y2="399.20" stroke="#e3222c" stroke-width="2.8"/>
<line x1="572.94" y1="399.20" x2="572.94" y2="419.01" stroke="#8ac8e4" stroke-width="2.8"/>
<line x1="572.94" y1="419.01" x2="572.94" y2="433.35" stroke="#e3222c" stroke-width="2.8"/>
<line x1="600.23" y1="399.20" x2="613.88" y2="399.20" stroke="#e3222c" stroke-width="2.8"/>
<line x1="613.88" y1="399.20" x2="627.52" y2="399.20" stroke="#8ac8e4" stroke-width="2.8"/>
<line x1="600.23" y1="399.20" x2="600.23" y2="413.54" stroke="#e3222c" stroke-width="2.8"/>
<line x1="600.23" y1="413.54" x2="600.23" y2="433.35" stroke="#e3222c" stroke-width="2.8"/>
<line x1="627.52" y1="399.20" x2="641.16" y2="399.20" stroke="#8ac8e4" stroke-width="2.8"/>
<line x1="641.16" y1="399.20" x2="654.81" y2="399.20" stroke="#e3222c" stroke-width="2.8"/>
<line x1="627.52" y1="399.20" x2="627.52" y2="419.01" stroke="#8ac8e4" stroke-width="2.8"/>
<line x1="627.52" y1="419.01" x2="627.52" y2="433.35" stroke="#e3222c" stroke-width="2.8"/>
<line x1="654.81" y1="399.20" x2="668.45" y2="399.20" stroke="#e3222c" stroke-width="2.8"/>
<line x1="668.45" y1="399.20" x2="682.10" y2="399.20" stroke="#8ac8e4" stroke-width="2.8"/>
<line x1="654.81" y1="399.20" x2="654.81" y2="413.54" stroke="#e3222c" stroke-width="2.8"/>
<line x1="654.81" y1="413.54" x2="654.81" y2="433.35" stroke="#8ac8e4" stroke-width="2.8"/>
<line x1="682.10" y1="399.20" x2="695.74" y2="399.20" stroke="#8ac8e4" stroke-width="2.8"/>
<line x1="695.74" y1="399.20" x2="709.39" y2="399.20" stroke="#e3222c" stroke-width="2.8"/>
<line x1="682.10" y1="399.20" x2="682.10" y2="419.01" stroke="#8ac8e4" stroke-width="2.8"/>
<line x1="682.10" y1="419.01" x2="682.10" y2="433.35" stroke="#e3222c" stroke-width="2.8"/>
<line x1="381.91" y1="433.35" x2="395.55" y2="433.35" stroke="#8ac8e4" stroke-width="2.8"/>
<line x1="395.55" y1="433.35" x2="409.20" y2="433.35" stroke="#e3222c" stroke-width="2.8"/>
<line x1="381.91" y1="433.35" x2="381.91" y2="453.16" stroke="#8ac8e4" stroke-width="2.8"/>
<line x1="381.91" y1="453.16" x2="381.91" y2="467.50" stroke="#e3222c" stroke-width="2.8"/>
<line x1="409.20" y1="433.35" x2="422.85" y2="433.35" stroke="#e3222c" stroke-width="2.8"/>
<line x1="422.85" y1="433.35" x2="436.49" y2="433.35" stroke="#8ac8e4" stroke-width="2.8"/>
<line x1="409.20" y1="433.35" x2="409.20" y2="447.69" stroke="#e3222c" stroke-width="2.8"/>
<line x1="409.20" y1="447.69" x2="409.20" y2="467.50" stroke="#8ac8e4" stroke-width="2.8"/>
<line x1="436.49" y1="433.35" x2="450.13" y2="433.35" stroke="#8ac8e4" stroke-width="2.8"/>
<line x1="450.13" y1="433.35" x2="463.78" y2="433.35" stroke="#e3222c" stroke-width="2.8"/>
<line x1="436.49" y1="433.35" x2="436.49" y2="453.16" stroke="#8ac8e4" stroke-width="2.8"/>
<line x1="436.49" y1="453.16" x2="436.49" y2="467.50" stroke="#e3222c" stroke-width="2.8"/>
<line x1="463.78" y1="433.35" x2="477.42" y2="433.35" stroke="#e3222c" stroke-width="2.8"/>
<line x1="477.42" y1="433.35" x2="491.07" y2="433.35" stroke="#e3222c" stroke-width="2.8"/>
<line x1="463.78" y1="433.35" x2="463.78" y2="447.69" stroke="#e3222c" stroke-width="2.8"/>
<line x1="463.78" y1="447.69" x2="463.78" y2="467.50" stroke="#8ac8e4" stroke-width="2.8"/>
<line x1="491.07" y1="433.35" x2="504.72" y2="433.35" stroke="#e3222c" stroke-width="2.8"/>
<line x1="504.72" y1="433.35" x2="518.36" y2="433.35" stroke="#e3222c" stroke-width="2.8"/>
<line x1="491.07" y1="433.35" x2="491.07" y2="453.16" stroke="#e3222c" stroke-width="2.8"/>
<line x1="491.07" y1="453.16" x2="491.07" y2="467.50" stroke="#e3222c" stroke-width="2.8"/>
<line x1="518.36" y1="433.35" x2="532.00" y2="433.35" stroke="#e3222c" stroke-width="2.8"/>
<line x1="532.00" y1="433.35" x2="545.65" y2="433.35" stroke="#8ac8e4" stroke-width="2.8"/>
<line x1="518.36" y1="433.35" x2="518.36" y2="447.69" stroke="#e3222c" stroke-width="2.8"/>
<line x1="518.36" y1="447.69" x2="518.36" y2="467.50" stroke="#8ac8e4" stroke-width="2.8"/>
<line x1="545.65" y1="433.35" x2="559.30" y2="433.35" stroke="#8ac8e4" stroke-width="2.8"/>
<line x1="559.30" y1="433.35" x2="572.94" y2="433.35" stroke="#e3222c" stroke-width="2.8"/>
<line x1="545.65" y1="433.35" x2="545.65" y2="453.16" stroke="#8ac8e4" stroke-width="2.8"/>
<line x1="545.65" y1="453.16" x2="545.65" y2="467.50" stroke="#e3222c" stroke-width="2.8"/>
<line x1="572.94" y1="433.35" x2="586.59" y2="433.35" stroke="#e3222c" stroke-width="2.8"/>
<line x1="586.59" y1="433.35" x2="600.23" y2="433.35" stroke="#e3222c" stroke-width="2.8"/>
<line x1="572.94" y1="433.35" x2="572.94" y2="447.69" stroke="#e3222c" stroke-width="2.8"/>
<line x1="572.94" y1="447.69" x2="572.94" y2="467.50" stroke="#8ac8e4" stroke-width="2.8"/>
<line x1="600.23" y1="433.35" x2="613.88" y2="433.35" stroke="#e3222c" stroke-width="2.8"/>
<line x1="613.88" y1="433.35" x2="627.52" y2="433.35" stroke="#e3222c" stroke-width="2.8"/>
<line x1="600.23" y1="433.35" x2="600.23" y2="453.16" stroke="#e3222c" stroke-width="2.8"/>
<line x1="600.23" y1="453.16" x2="600.23" y2="467.50" stroke="#e3222c" stroke-width="2.8"/>
<line x1="627.52" y1="433.35" x2="641.16" y2="433.35" stroke="#e3222c" stroke-width="2.8"/>
<line x1="641.16" y1="433.35" x2="654.81" y2="433.35" stroke="#8ac8e4" stroke-width="2.8"/>
<line x1="627.52" y1="433.35" x2="627.52" y2="447.69" stroke="#e3222c" stroke-width="2.8"/>
<line x1="627.52" y1="447.69" x2="627.52" y2="467.50" stroke="#8ac8e4" stroke-width="2.8"/>
<line x1="654.81" y1="433.35" x2="668.45" y2="433.35" stroke="#8ac8e4" stroke-width="2.8"/>
<line x1="668.45" y1="433.35" x2="682.10" y2="433.35" stroke="#e3222c" stroke-width="2.8"/>
<line x1="654.81" y1="433.35" x2="654.81" y2="453.16" stroke="#8ac8e4" stroke-width="2.8"/>
<line x1="654.81" y1="453.16" x2="654.81" y2="467.50" stroke="#e3222c" stroke-width="2.8"/>
<line x1="682.10" y1="433.35" x2="695.74" y2="433.35" stroke="#e3222c" stroke-width="2.8"/>
<line x1="695.74" y1="433.35" x2="709.39" y2="433.35" stroke="#8ac8e4" stroke-width="2.8"/>
<line x1="682.10" y1="433.35" x2="682.10" y2="447.69" stroke="#e3222c" stroke-width="2.8"/>
<line x1="682.10" y1="447.69" x2="682.10" y2="467.50" stroke="#8ac8e4" stroke-width="2.8"/>
<line x1="381.91" y1="467.50" x2="395.55" y2="467.50" stroke="#e3222c" stroke-width="2.8"/>
<line x1="395.55" y1="467.50" x2="409.20" y2="467.50" stroke="#8ac8e4" stroke-width="2.8"/>
<line x1="381.91" y1="467.50" x2="381.91" y2="481.84" stroke="#e3222c" stroke-width="2.8"/>
<line x1="381.91" y1="481.84" x2="381.91" y2="501.65" stroke="#8ac8e4" stroke-width="2.8"/>
<line x1="409.20" y1="467.50" x2="422.85" y2="467.50" stroke="#8ac8e4" stroke-width="2.8"/>
<line x1="422.85" y1="467.50" x2="436.49" y2="467.50" stroke="#e3222c" stroke-width="2.8"/>
<line x1="409.20" y1="467.50" x2="409.20" y2="487.31" stroke="#8ac8e4" stroke-width="2.8"/>
<line x1="409.20" y1="487.31" x2="409.20" y2="501.65" stroke="#e3222c" stroke-width="2.8"/>
<line x1="436.49" y1="467.50" x2="450.13" y2="467.50" stroke="#e3222c" stroke-width="2.8"/>
<line x1="450.13" y1="467.50" x2="463.78" y2="467.50" stroke="#8ac8e4" stroke-width="2.8"/>
<line x1="436.49" y1="467.50" x2="436.49" y2="481.84" stroke="#e3222c" stroke-width="2.8"/>
<line x1="436.49" y1="481.84" x2="436.49" y2="501.65" stroke="#8ac8e4" stroke-width="2.8"/>
<line x1="463.78" y1="467.50" x2="477.42" y2="467.50" stroke="#8ac8e4" stroke-width="2.8"/>
<line x1="477.42" y1="467.50" x2="491.07" y2="467.50" stroke="#e3222c" stroke-width="2.8"/>
<line x1="463.78" y1="467.50" x2="463.78" y2="487.31" stroke="#8ac8e4" stroke-width="2.8"/>
<line x1="463.78" y1="487.31" x2="463.78" y2="501.65" stroke="#e3222c" stroke-width="2.8"/>
<line x1="491.07" y1="467.50" x2="504.72" y2="467.50" stroke="#e3222c" stroke-width="2.8"/>
<line x1="504.72" y1="467.50" x2="518.36" y2="467.50" stroke="#8ac8e4" stroke-width="2.8"/>
<line x1="491.07" y1="467.50" x2="491.07" y2="481.84" stroke="#e3222c" stroke-width="2.8"/>
<line x1="491.07" y1="481.84" x2="491.07" y2="501.65" stroke="#8ac8e4" stroke-width="2.8"/>
<line x1="518.36" y1="467.50" x2="532.00" y2="467.50" stroke="#8ac8e4" stroke-width="2.8"/>
<line x1="532.00" y1="467.50" x2="545.65" y2="467.50" stroke="#e3222c" stroke-width="2.8"/>
<line x1="518.36" y1="467.50" x2="518.36" y2="487.31" stroke="#8ac8e4" stroke-width="2.8"/>
<line x1="518.36" y1="487.31" x2="518.36" y2="501.65" stroke="#e3222c" stroke-width="2.8"/>
<line x1="545.65" y1="467.50" x2="559.30" y2="467.50" stroke="#e3222c" stroke-width="2.8"/>
<line x1="559.30" y1="467.50" x2="572.94" y2="467.50" stroke="#8ac8e4" stroke-width="2.8"/>
<line x1="545.65" y1="467.50" x2="545.65" y2="481.84" stroke="#e3222c" stroke-width="2.8"/>
<line x1="545.65" y1="481.84" x2="545.65" y2="501.65" stroke="#8ac8e4" stroke-width="2.8"/>
<line x1="572.94" y1="467.50" x2="586.59" y2="467.50" stroke="#8ac8e4" stroke-width="2.8"/>
<line x1="586.59" y1="467.50" x2="600.23" y2="467.50" stroke="#e3222c" stroke-width="2.8"/>
<line x1="572.94" y1="467.50" x2="572.94" y2="487.31" stroke="#8ac8e4" stroke-width="2.8"/>
<line x1="572.94" y1="487.31" x2="572.94" y2="501.65" stroke="#e3222c" stroke-width="2.8"/>
<line x1="600.23" y1="467.50" x2="613.88" y2="467.50" stroke="#e3222c" stroke-width="2.8"/>
<line x1="613.88" y1="467.50" x2="627.52" y2="467.50" stroke="#8ac8e4" stroke-width="2.8"/>
<line x1="600.23" y1="467.50" x2="600.23" y2="481.84" stroke="#e3222c" stroke-width="2.8"/>
<line x1="600.23" y1="481.84" x2="600.23" y2="501.65" stroke="#8ac8e4" stroke-width="2.8"/>
<line x1="627.52" y1="467.50" x2="641.16" y2="467.50" stroke="#8ac8e4" stroke-width="2.8"/>
<line x1="641.16" y1="467.50" x2="654.81" y2="467.50" stroke="#e3222c" stroke-width="2.8"/>
<line x1="627.52" y1="467.50" x2="627.52" y2="487.31" stroke="#8ac8e4" stroke-width="2.8"/>
<line x1="627.52" y1="487.31" x2="627.52" y2="501.65" stroke="#e3222c" stroke-width="2.8"/>
<line x1="654.81" y1="467.50" x2="668.45" y2="467.50" stroke="#e3222c" stroke-width="2.8"/>
<line x1="668.45" y1="467.50" x2="682.10" y2="467.50" stroke="#8ac8e4" stroke-width="2.8"/>
<line x1="654.81" y1="467.50" x2="654.81" y2="481.84" stroke="#e3222c" stroke-width="2.8"/>
<line x1="654.81" y1="481.84" x2="654.81" y2="501.65" stroke="#8ac8e4" stroke-width="2.8"/>
<line x1="682.10" y1="467.50" x2="695.74" y2="467.50" stroke="#8ac8e4" stroke-width="2.8"/>
<line x1="695.74" y1="467.50" x2="709.39" y2="467.50" stroke="#e3222c" stroke-width="2.8"/>
<line x1="682.10" y1="467.50" x2="682.10" y2="487.31" stroke="#8ac8e4" stroke-width="2.8"/>
<line x1="682.10" y1="487.31" x2="682.10" y2="501.65" stroke="#e3222c" stroke-width="2.8"/>
<line x1="381.91" y1="501.65" x2="395.55" y2="501.65" stroke="#8ac8e4" stroke-width="2.8"/>
<line x1="395.55" y1="501.65" x2="409.20" y2="501.65" stroke="#e3222c" stroke-width="2.8"/>
<line x1="381.91" y1="501.65" x2="381.91" y2="521.46" stroke="#8ac8e4" stroke-width="2.8"/>
<line x1="381.91" y1="521.46" x2="381.91" y2="535.80" stroke="#e3222c" stroke-width="2.8"/>
<line x1="409.20" y1="501.65" x2="422.85" y2="501.65" stroke="#e3222c" stroke-width="2.8"/>
<line x1="422.85" y1="501.65" x2="436.49" y2="501.65" stroke="#8ac8e4" stroke-width="2.8"/>
<line x1="409.20" y1="501.65" x2="409.20" y2="515.99" stroke="#e3222c" stroke-width="2.8"/>
<line x1="409.20" y1="515.99" x2="409.20" y2="535.80" stroke="#8ac8e4" stroke-width="2.8"/>
<line x1="436.49" y1="501.65" x2="450.13" y2="501.65" stroke="#8ac8e4" stroke-width="2.8"/>
<line x1="450.13" y1="501.65" x2="463.78" y2="501.65" stroke="#e3222c" stroke-width="2.8"/>
<line x1="436.49" y1="501.65" x2="436.49" y2="521.46" stroke="#8ac8e4" stroke-width="2.8"/>
<line x1="436.49" y1="521.46" x2="436.49" y2="535.80" stroke="#e3222c" stroke-width="2.8"/>
<line x1="463.78" y1="501.65" x2="477.42" y2="501.65" stroke="#e3222c" stroke-width="2.8"/>
<line x1="477.42" y1="501.65" x2="491.07" y2="501.65" stroke="#8ac8e4" stroke-width="2.8"/>
<line x1="463.78" y1="501.65" x2="463.78" y2="515.99" stroke="#e3222c" stroke-width="2.8"/>
<line x1="463.78" y1="515.99" x2="463.78" y2="535.80" stroke="#8ac8e4" stroke-width="2.8"/>
<line x1="491.07" y1="501.65" x2="504.72" y2="501.65" stroke="#8ac8e4" stroke-width="2.8"/>
<line x1="504.72" y1="501.65" x2="518.36" y2="501.65" stroke="#e3222c" stroke-width="2.8"/>
<line x1="491.07" y1="501.65" x2="491.07" y2="521.46" stroke="#8ac8e4" stroke-width="2.8"/>
<line x1="491.07" y1="521.46" x2="491.07" y2="535.80" stroke="#e3222c" stroke-width="2.8"/>
<line x1="518.36" y1="501.65" x2="532.00" y2="501.65" stroke="#e3222c" stroke-width="2.8"/>
<line x1="532.00" y1="501.65" x2="545.65" y2="501.65" stroke="#8ac8e4" stroke-width="2.8"/>
<line x1="518.36" y1="501.65" x2="518.36" y2="515.99" stroke="#e3222c" stroke-width="2.8"/>
<line x1="518.36" y1="515.99" x2="518.36" y2="535.80" stroke="#8ac8e4" stroke-width="2.8"/>
<line x1="545.65" y1="501.65" x2="559.30" y2="501.65" stroke="#8ac8e4" stroke-width="2.8"/>
<line x1="559.30" y1="501.65" x2="572.94" y2="501.65" stroke="#e3222c" stroke-width="2.8"/>
<line x1="545.65" y1="501.65" x2="545.65" y2="521.46" stroke="#8ac8e4" stroke-width="2.8"/>
<line x1="545.65" y1="521.46" x2="545.65" y2="535.80" stroke="#e3222c" stroke-width="2.8"/>
<line x1="572.94" y1="501.65" x2="586.59" y2="501.65" stroke="#e3222c" stroke-width="2.8"/>
<line x1="586.59" y1="501.65" x2="600.23" y2="501.65" stroke="#8ac8e4" stroke-width="2.8"/>
<line x1="572.94" y1="501.65" x2="572.94" y2="515.99" stroke="#e3222c" stroke-width="2.8"/>
<line x1="572.94" y1="515.99" x2="572.94" y2="535.80" stroke="#8ac8e4" stroke-width="2.8"/>
<line x1="600.23" y1="501.65" x2="613.88" y2="501.65" stroke="#8ac8e4" stroke-width="2.8"/>
<line x1="613.88" y1="501.65" x2="627.52" y2="501.65" stroke="#e3222c" stroke-width="2.8"/>
<line x1="600.23" y1="501.65" x2="600.23" y2="521.46" stroke="#8ac8e4" stroke-width="2.8"/>
<line x1="600.23" y1="521.46" x2="600.23" y2="535.80" stroke="#e3222c" stroke-width="2.8"/>
<line x1="627.52" y1="501.65" x2="641.16" y2="501.65" stroke="#e3222c" stroke-width="2.8"/>
<line x1="641.16" y1="501.65" x2="654.81" y2="501.65" stroke="#8ac8e4" stroke-width="2.8"/>
<line x1="627.52" y1="501.65" x2="627.52" y2="515.99" stroke="#e3222c" stroke-width="2.8"/>
<line x1="627.52" y1="515.99" x2="627.52" y2="535.80" stroke="#8ac8e4" stroke-width="2.8"/>
<line x1="654.81" y1="501.65" x2="668.45" y2="501.65" stroke="#8ac8e4" stroke-width="2.8"/>
<line x1="668.45" y1="501.65" x2="682.10" y2="501.65" stroke="#e3222c" stroke-width="2.8"/>
<line x1="654.81" y1="501.65" x2="654.81" y2="521.46" stroke="#8ac8e4" stroke-width="2.8"/>
<line x1="654.81" y1="521.46" x2="654.81" y2="535.80" stroke="#e3222c" stroke-width="2.8"/>
<line x1="682.10" y1="501.65" x2="695.74" y2="501.65" stroke="#e3222c" stroke-width="2.8"/>
<line x1="695.74" y1="501.65" x2="709.39" y2="501.65" stroke="#8ac8e4" stroke-width="2.8"/>
<line x1="682.10" y1="501.65" x2="682.10" y2="515.99" stroke="#e3222c" stroke-width="2.8"/>
<line x1="682.10" y1="515.99" x2="682.10" y2="535.80" stroke="#8ac8e4" stroke-width="2.8"/>
<line x1="381.91" y1="535.80" x2="395.55" y2="535.80" stroke="#e3222c" stroke-width="2.8"/>
<line x1="395.55" y1="535.80" x2="409.20" y2="535.80" stroke="#8ac8e4" stroke-width="2.8"/>
<line x1="381.91" y1="535.80" x2="381.91" y2="550.14" stroke="#e3222c" stroke-width="2.8"/>
<line x1="381.91" y1="550.14" x2="381.91" y2="569.95" stroke="#8ac8e4" stroke-width="2.8"/>
<line x1="409.20" y1="535.80" x2="422.85" y2="535.80" stroke="#8ac8e4" stroke-width="2.8"/>
<line x1="422.85" y1="535.80" x2="436.49" y2="535.80" stroke="#e3222c" stroke-width="2.8"/>
<line x1="409.20" y1="535.80" x2="409.20" y2="555.61" stroke="#8ac8e4" stroke-width="2.8"/>
<line x1="409.20" y1="555.61" x2="409.20" y2="569.95" stroke="#e3222c" stroke-width="2.8"/>
<line x1="436.49" y1="535.80" x2="450.13" y2="535.80" stroke="#e3222c" stroke-width="2.8"/>
<line x1="450.13" y1="535.80" x2="463.78" y2="535.80" stroke="#8ac8e4" stroke-width="2.8"/>
<line x1="436.49" y1="535.80" x2="436.49" y2="550.14" stroke="#e3222c" stroke-width="2.8"/>
<line x1="436.49" y1="550.14" x2="436.49" y2="569.95" stroke="#8ac8e4" stroke-width="2.8"/>
<line x1="463.78" y1="535.80" x2="477.42" y2="535.80" stroke="#8ac8e4" stroke-width="2.8"/>
<line x1="477.42" y1="535.80" x2="491.07" y2="535.80" stroke="#e3222c" stroke-width="2.8"/>
<line x1="463.78" y1="535.80" x2="463.78" y2="555.61" stroke="#8ac8e4" stroke-width="2.8"/>
<line x1="463.78" y1="555.61" x2="463.78" y2="569.95" stroke="#e3222c" stroke-width="2.8"/>
<line x1="491.07" y1="535.80" x2="504.72" y2="535.80" stroke="#e3222c" stroke-width="2.8"/>
<line x1="504.72" y1="535.80" x2="518.36" y2="535.80" stroke="#8ac8e4" stroke-width="2.8"/>
<line x1="491.07" y1="535.80" x2="491.07" y2="550.14" stroke="#e3222c" stroke-width="2.8"/>
<line x1="491.07" y1="550.14" x2="491.07" y2="569.95" stroke="#8ac8e4" stroke-width="2.8"/>
<line x1="518.36" y1="535.80" x2="532.00" y2="535.80" stroke="#8ac8e4" stroke-width="2.8"/>
<line x1="532.00" y1="535.80" x2="545.65" y2="535.80" stroke="#e3222c" stroke-width="2.8"/>
<line x1="518.36" y1="535.80" x2="518.36" y2="555.61" stroke="#8ac8e4" stroke-width="2.8"/>
<line x1="518.36" y1="555.61" x2="518.36" y2="569.95" stroke="#e3222c" stroke-width="2.8"/>
<line x1="545.65" y1="535.80" x2="559.30" y2="535.80" stroke="#e3222c" stroke-width="2.8"/>
<line x1="559.30" y1="535.80" x2="572.94" y2="535.80" stroke="#8ac8e4" stroke-width="2.8"/>
<line x1="545.65" y1="535.80" x2="545.65" y2="550.14" stroke="#e3222c" stroke-width="2.8"/>
<line x1="545.65" y1="550.14" x2="545.65" y2="569.95" stroke="#8ac8e4" stroke-width="2.8"/>
<line x1="572.94" y1="535.80" x2="586.59" y2="535.80" stroke="#8ac8e4" stroke-width="2.8"/>
<line x1="586.59" y1="535.80" x2="600.23" y2="535.80" stroke="#e3222c" stroke-width="2.8"/>
<line x1="572.94" y1="535.80" x2="572.94" y2="555.61" stroke="#8ac8e4" stroke-width="2.8"/>
<line x1="572.94" y1="555.61" x2="572.94" y2="569.95" stroke="#e3222c" stroke-width="2.8"/>
<line x1="600.23" y1="535.80" x2="613.88" y2="535.80" stroke="#e3222c" stroke-width="2.8"/>
<line x1="613.88" y1="535.80" x2="627.52" y2="535.80" stroke="#8ac8e4" stroke-width="2.8"/>
<line x1="600.23" y1="535.80" x2="600.23" y2="550.14" stroke="#e3222c" stroke-width="2.8"/>
<line x1="600.23" y1="550.14" x2="600.23" y2="569.95" stroke="#8ac8e4" stroke-width="2.8"/>
<line x1="627.52" y1="535.80" x2="641.16" y2="535.80" stroke="#8ac8e4" stroke-width="2.8"/>
<line x1="641.16" y1="535.80" x2="654.81" y2="535.80" stroke="#e3222c" stroke-width="2.8"/>
<line x1="627.52" y1="535.80" x2="627.52" y2="555.61" stroke="#8ac8e4" stroke-width="2.8"/>
<line x1="627.52" y1="555.61" x2="627.52" y2="569.95" stroke="#e3222c" stroke-width="2.8"/>
<line x1="654.81" y1="535.80" x2="668.45" y2="535.80" stroke="#e3222c" stroke-width="2.8"/>
<line x1="668.45" y1="535.80" x2="682.10" y2="535.80" stroke="#8ac8e4" stroke-width="2.8"/>
<line x1="654.81" y1="535.80" x2="654.81" y2="550.14" stroke="#e3222c" stroke-width="2.8"/>
<line x1="654.81" y1="550.14" x2="654.81" y2="569.95" stroke="#8ac8e4" stroke-width="2.8"/>
<line x1="682.10" y1="535.80" x2="695.74" y2="535.80" stroke="#8ac8e4" stroke-width="2.8"/>
<line x1="695.74" y1="535.80" x2="709.39" y2="535.80" stroke="#e3222c" stroke-width="2.8"/>
<line x1="682.10" y1="535.80" x2="682.10" y2="555.61" stroke="#8ac8e4" stroke-width="2.8"/>
<line x1="682.10" y1="555.61" x2="682.10" y2="569.95" stroke="#e3222c" stroke-width="2.8"/>
<circle cx="381.91" cy="296.75" r="10.4" fill="url(#ti)"/>
<circle cx="409.20" cy="296.75" r="5.1" fill="url(#ox)"/>
<circle cx="436.49" cy="296.75" r="10.4" fill="url(#ti)"/>
<circle cx="463.78" cy="296.75" r="5.1" fill="url(#ox)"/>
<circle cx="491.07" cy="296.75" r="10.4" fill="url(#ti)"/>
<circle cx="518.36" cy="296.75" r="5.1" fill="url(#ox)"/>
<circle cx="545.65" cy="296.75" r="10.4" fill="url(#ti)"/>
<circle cx="572.94" cy="296.75" r="5.1" fill="url(#ox)"/>
<circle cx="600.23" cy="296.75" r="10.4" fill="url(#ti)"/>
<circle cx="627.52" cy="296.75" r="5.1" fill="url(#ox)"/>
<circle cx="654.81" cy="296.75" r="10.4" fill="url(#ti)"/>
<circle cx="682.10" cy="296.75" r="5.1" fill="url(#ox)"/>
<circle cx="381.91" cy="330.90" r="5.1" fill="url(#ox)"/>
<circle cx="409.20" cy="330.90" r="10.4" fill="url(#ti)"/>
<circle cx="436.49" cy="330.90" r="5.1" fill="url(#ox)"/>
<circle cx="463.78" cy="330.90" r="10.4" fill="url(#ti)"/>
<circle cx="491.07" cy="330.90" r="5.1" fill="url(#ox)"/>
<circle cx="518.36" cy="330.90" r="10.4" fill="url(#ti)"/>
<circle cx="545.65" cy="330.90" r="5.1" fill="url(#ox)"/>
<circle cx="572.94" cy="330.90" r="10.4" fill="url(#ti)"/>
<circle cx="600.23" cy="330.90" r="5.1" fill="url(#ox)"/>
<circle cx="627.52" cy="330.90" r="10.4" fill="url(#ti)"/>
<circle cx="654.81" cy="330.90" r="5.1" fill="url(#ox)"/>
<circle cx="682.10" cy="330.90" r="10.4" fill="url(#ti)"/>
<circle cx="381.91" cy="365.05" r="10.4" fill="url(#ti)"/>
<circle cx="409.20" cy="365.05" r="5.1" fill="url(#ox)"/>
<circle cx="436.49" cy="365.05" r="10.4" fill="url(#ti)"/>
<circle cx="463.78" cy="365.05" r="5.1" fill="url(#ox)"/>
<circle cx="491.07" cy="365.05" r="10.4" fill="url(#ti)"/>
<circle cx="518.36" cy="365.05" r="5.1" fill="url(#ox)"/>
<circle cx="545.65" cy="365.05" r="10.4" fill="url(#ti)"/>
<circle cx="572.94" cy="365.05" r="5.1" fill="url(#ox)"/>
<circle cx="600.23" cy="365.05" r="10.4" fill="url(#ti)"/>
<circle cx="627.52" cy="365.05" r="5.1" fill="url(#ox)"/>
<circle cx="654.81" cy="365.05" r="10.4" fill="url(#ti)"/>
<circle cx="682.10" cy="365.05" r="5.1" fill="url(#ox)"/>
<circle cx="381.91" cy="399.20" r="5.1" fill="url(#ox)"/>
<circle cx="409.20" cy="399.20" r="10.4" fill="url(#ti)"/>
<circle cx="436.49" cy="399.20" r="5.1" fill="url(#ox)"/>
<circle cx="463.78" cy="399.20" r="10.4" fill="url(#ti)"/>
<circle cx="518.36" cy="399.20" r="10.4" fill="url(#ti)"/>
<circle cx="545.65" cy="399.20" r="5.1" fill="url(#ox)"/>
<circle cx="572.94" cy="399.20" r="10.4" fill="url(#ti)"/>
<circle cx="627.52" cy="399.20" r="10.4" fill="url(#ti)"/>
<circle cx="654.81" cy="399.20" r="5.1" fill="url(#ox)"/>
<circle cx="682.10" cy="399.20" r="10.4" fill="url(#ti)"/>
<circle cx="381.91" cy="433.35" r="10.4" fill="url(#ti)"/>
<circle cx="409.20" cy="433.35" r="5.1" fill="url(#ox)"/>
<circle cx="436.49" cy="433.35" r="10.4" fill="url(#ti)"/>
<circle cx="654.81" cy="433.35" r="10.4" fill="url(#ti)"/>
<circle cx="682.10" cy="433.35" r="5.1" fill="url(#ox)"/>
<circle cx="381.91" cy="467.50" r="5.1" fill="url(#ox)"/>
<circle cx="409.20" cy="467.50" r="10.4" fill="url(#ti)"/>
<circle cx="436.49" cy="467.50" r="5.1" fill="url(#ox)"/>
<circle cx="463.78" cy="467.50" r="10.4" fill="url(#ti)"/>
<circle cx="518.36" cy="467.50" r="10.4" fill="url(#ti)"/>
<circle cx="545.65" cy="467.50" r="5.1" fill="url(#ox)"/>
<circle cx="572.94" cy="467.50" r="10.4" fill="url(#ti)"/>
<circle cx="627.52" cy="467.50" r="10.4" fill="url(#ti)"/>
<circle cx="654.81" cy="467.50" r="5.1" fill="url(#ox)"/>
<circle cx="682.10" cy="467.50" r="10.4" fill="url(#ti)"/>
<circle cx="381.91" cy="501.65" r="10.4" fill="url(#ti)"/>
<circle cx="409.20" cy="501.65" r="5.1" fill="url(#ox)"/>
<circle cx="436.49" cy="501.65" r="10.4" fill="url(#ti)"/>
<circle cx="463.78" cy="501.65" r="5.1" fill="url(#ox)"/>
<circle cx="491.07" cy="501.65" r="10.4" fill="url(#ti)"/>
<circle cx="518.36" cy="501.65" r="5.1" fill="url(#ox)"/>
<circle cx="545.65" cy="501.65" r="10.4" fill="url(#ti)"/>
<circle cx="572.94" cy="501.65" r="5.1" fill="url(#ox)"/>
<circle cx="600.23" cy="501.65" r="10.4" fill="url(#ti)"/>
<circle cx="627.52" cy="501.65" r="5.1" fill="url(#ox)"/>
<circle cx="654.81" cy="501.65" r="10.4" fill="url(#ti)"/>
<circle cx="682.10" cy="501.65" r="5.1" fill="url(#ox)"/>
<circle cx="381.91" cy="535.80" r="5.1" fill="url(#ox)"/>
<circle cx="409.20" cy="535.80" r="10.4" fill="url(#ti)"/>
<circle cx="436.49" cy="535.80" r="5.1" fill="url(#ox)"/>
<circle cx="463.78" cy="535.80" r="10.4" fill="url(#ti)"/>
<circle cx="491.07" cy="535.80" r="5.1" fill="url(#ox)"/>
<circle cx="518.36" cy="535.80" r="10.4" fill="url(#ti)"/>
<circle cx="545.65" cy="535.80" r="5.1" fill="url(#ox)"/>
<circle cx="572.94" cy="535.80" r="10.4" fill="url(#ti)"/>
<circle cx="600.23" cy="535.80" r="5.1" fill="url(#ox)"/>
<circle cx="627.52" cy="535.80" r="10.4" fill="url(#ti)"/>
<circle cx="654.81" cy="535.80" r="5.1" fill="url(#ox)"/>
<circle cx="682.10" cy="535.80" r="10.4" fill="url(#ti)"/>
<rect x="472.07" y="414.75" width="39" height="37.2" rx="15" ry="15" fill="url(#yl)" stroke="#b8c232" stroke-width="0.6"/>
<path d="M473.57,433.35H509.57M491.57,416.35V450.35" stroke="#d2cc3a" stroke-width="3.2" opacity="0.55"/>
<circle cx="491.57" cy="433.35" r="8.6" fill="url(#fe)"/>
<ellipse cx="491.67" cy="399.20" rx="10.6" ry="10" fill="url(#yl)" stroke="#b8c232" stroke-width="0.6"/>
<path d="M482.57,399.20H500.77M491.67,390.70V407.70" stroke="#e89a2a" stroke-width="2.8" opacity="0.8"/>
<circle cx="491.67" cy="399.20" r="5" fill="url(#oo)"/>
<ellipse cx="491.67" cy="468.00" rx="10.8" ry="9.8" fill="url(#yl)" stroke="#b8c232" stroke-width="0.6"/>
<path d="M482.37,468.00H500.97M491.67,459.70V476.30" stroke="#e89a2a" stroke-width="2.8" opacity="0.8"/>
<circle cx="491.67" cy="468.00" r="5" fill="url(#oo)"/>
<rect x="581.23" y="414.75" width="39" height="37.2" rx="15" ry="15" fill="url(#yl)" stroke="#b8c232" stroke-width="0.6"/>
<path d="M582.73,433.35H618.73M600.73,416.35V450.35" stroke="#d2cc3a" stroke-width="3.2" opacity="0.55"/>
<circle cx="600.73" cy="433.35" r="8.6" fill="url(#fe)"/>
<ellipse cx="600.83" cy="399.20" rx="10.6" ry="10" fill="url(#yl)" stroke="#b8c232" stroke-width="0.6"/>
<path d="M591.73,399.20H609.93M600.83,390.70V407.70" stroke="#e89a2a" stroke-width="2.8" opacity="0.8"/>
<circle cx="600.83" cy="399.20" r="5" fill="url(#oo)"/>
<ellipse cx="600.83" cy="468.00" rx="10.8" ry="9.8" fill="url(#yl)" stroke="#b8c232" stroke-width="0.6"/>
<path d="M591.53,468.00H610.13M600.83,459.70V476.30" stroke="#e89a2a" stroke-width="2.8" opacity="0.8"/>
<circle cx="600.83" cy="468.00" r="5" fill="url(#oo)"/>
<ellipse cx="464.28" cy="433.85" rx="10.6" ry="13" fill="url(#yl)" stroke="#b8c232" stroke-width="0.6"/>
<path d="M455.18,433.85H473.38M464.28,422.35V445.35" stroke="#e89a2a" stroke-width="2.8" opacity="0.8"/>
<circle cx="464.28" cy="433.85" r="5" fill="url(#oo)"/>
<ellipse cx="629.02" cy="433.85" rx="10.6" ry="12.5" fill="url(#yl)" stroke="#b8c232" stroke-width="0.6"/>
<path d="M619.92,433.85H638.12M629.02,422.85V444.85" stroke="#e89a2a" stroke-width="2.8" opacity="0.8"/>
<circle cx="629.02" cy="433.85" r="5" fill="url(#oo)"/>
<ellipse cx="517.16" cy="433.85" rx="7.5" ry="6.8" fill="url(#yl)" stroke="#b8c232" stroke-width="0.6"/>
<circle cx="519.16" cy="433.85" r="5" fill="url(#oo)"/>
<line x1="519.16" y1="416.85" x2="519.16" y2="450.85" stroke="#e3222c" stroke-width="3"/>
<ellipse cx="571.74" cy="433.85" rx="7.5" ry="6.8" fill="url(#yl)" stroke="#b8c232" stroke-width="0.6"/>
<circle cx="573.74" cy="433.85" r="5" fill="url(#oo)"/>
<line x1="573.74" y1="416.85" x2="573.74" y2="450.85" stroke="#e3222c" stroke-width="3"/>
<ellipse cx="537.15" cy="433.85" rx="10.5" ry="12" fill="url(#yl)" stroke="#b8c232" stroke-width="0.6"/>
<ellipse cx="554.15" cy="433.85" rx="10.5" ry="12" fill="url(#yl)" stroke="#b8c232" stroke-width="0.6"/>
<line x1="526.65" y1="433.85" x2="564.65" y2="433.85" stroke="#d8e060" stroke-width="3" opacity="0.7"/>
<circle cx="545.65" cy="433.85" r="10.2" fill="url(#tig)" stroke="#a8b860" stroke-width="0.5"/>
</g>
<text x="480.0" y="458.2" font-size="19" font-family="Liberation Sans, sans-serif" stroke="#222" stroke-width="0.2" paint-order="stroke" fill="#000" textLength="18.6" lengthAdjust="spacingAndGlyphs">Fe</text>
<text x="511.0" y="458.2" font-size="19" font-family="Liberation Sans, sans-serif" stroke="#222" stroke-width="0.2" paint-order="stroke" fill="#000" textLength="14.6" lengthAdjust="spacingAndGlyphs">O</text>
<text x="537.9" y="458.2" font-size="19" font-family="Liberation Sans, sans-serif" stroke="#222" stroke-width="0.2" paint-order="stroke" fill="#000" textLength="14.2" lengthAdjust="spacingAndGlyphs">Ti</text>
<text x="567.3" y="458.2" font-size="19" font-family="Liberation Sans, sans-serif" stroke="#222" stroke-width="0.2" paint-order="stroke" fill="#000" textLength="14.6" lengthAdjust="spacingAndGlyphs">O</text>
<text x="593.3" y="458.2" font-size="19" font-family="Liberation Sans, sans-serif" stroke="#222" stroke-width="0.2" paint-order="stroke" fill="#000" textLength="18.8" lengthAdjust="spacingAndGlyphs">Fe</text></svg></body></html>
